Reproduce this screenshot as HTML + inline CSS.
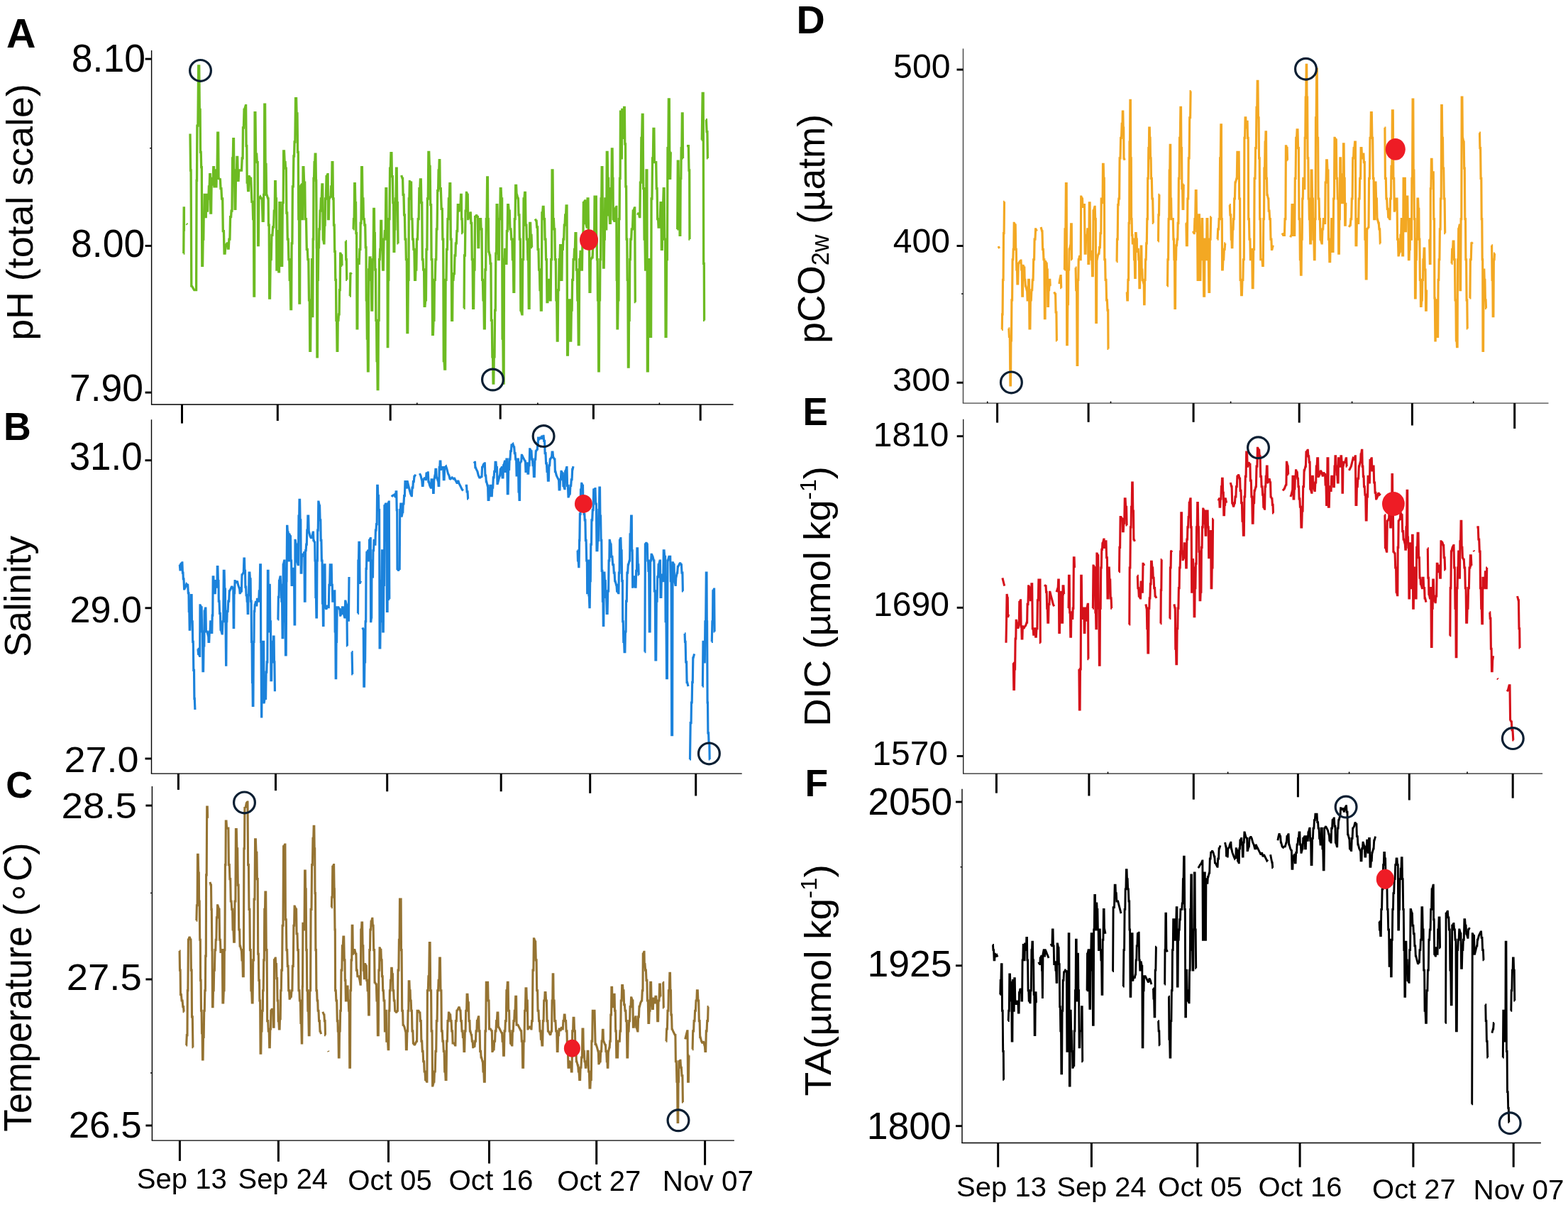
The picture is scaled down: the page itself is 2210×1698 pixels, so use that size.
<!DOCTYPE html>
<html><head><meta charset="utf-8"><title>Figure</title>
<style>html,body{margin:0;padding:0;background:#fff;overflow:hidden}svg{display:block}</style>
</head><body>
<svg width="2210" height="1698" viewBox="0 0 2210 1698">
<rect width="2210" height="1698" fill="#fff"/>
<g font-family="Liberation Sans, Arial, sans-serif" fill="#000">
<text transform="matrix(0.57424 0 0 0.56618 8.88 67.37)" font-size="100" font-weight="bold">A</text>
<text transform="matrix(0.53607 0 0 0.54783 5.05 619.80)" font-size="100" font-weight="bold">B</text>
<text transform="matrix(0.52615 0 0 0.52394 8.30 1123.58)" font-size="100" font-weight="bold">C</text>
<text transform="matrix(0.55738 0 0 0.54638 1122.50 46.50)" font-size="100" font-weight="bold">D</text>
<text transform="matrix(0.53036 0 0 0.55072 1131.49 599.10)" font-size="100" font-weight="bold">E</text>
<text transform="matrix(0.53400 0 0 0.53188 1134.56 1121.70)" font-size="100" font-weight="bold">F</text>
<text transform="matrix(0.53476 0 0 0.55634 100.86 100.94)" font-size="100">8.10</text>
<text transform="matrix(0.53583 0 0 0.55070 100.06 361.65)" font-size="100">8.00</text>
<text transform="matrix(0.53441 0 0 0.53803 97.93 565.16)" font-size="100">7.90</text>
<text transform="matrix(0.52888 0 0 0.55634 97.68 662.44)" font-size="100">31.0</text>
<text transform="matrix(0.52043 0 0 0.52394 98.60 876.58)" font-size="100">29.0</text>
<text transform="matrix(0.53925 0 0 0.50282 90.50 1087.90)" font-size="100">27.0</text>
<text transform="matrix(0.54703 0 0 0.50282 86.56 1153.40)" font-size="100">28.5</text>
<text transform="matrix(0.54486 0 0 0.51408 93.68 1394.59)" font-size="100">27.5</text>
<text transform="matrix(0.52919 0 0 0.52113 96.65 1603.28)" font-size="100">26.5</text>
<text transform="matrix(0.48239 0 0 0.47887 1259.07 110.22)" font-size="100">500</text>
<text transform="matrix(0.48199 0 0 0.47887 1258.64 355.62)" font-size="100">400</text>
<text transform="matrix(0.48742 0 0 0.46197 1258.05 551.34)" font-size="100">300</text>
<text transform="matrix(0.47905 0 0 0.47887 1230.77 629.32)" font-size="100">1810</text>
<text transform="matrix(0.48143 0 0 0.47324 1230.95 868.43)" font-size="100">1690</text>
<text transform="matrix(0.48000 0 0 0.47324 1229.26 1078.43)" font-size="100">1570</text>
<text transform="matrix(0.53521 0 0 0.53944 1223.32 1147.76)" font-size="100">2050</text>
<text transform="matrix(0.53619 0 0 0.52676 1222.41 1376.17)" font-size="100">1925</text>
<text transform="matrix(0.53476 0 0 0.53099 1221.72 1605.47)" font-size="100">1800</text>
<text transform="matrix(0 -0.53794 0.52340 0 46.11 479.87)" font-size="100">pH (total scale)</text>
<text transform="matrix(0 -0.53060 0.52234 0 42.63 925.85)" font-size="100">Salinity</text>
<text transform="matrix(0 -0.51596 0.55319 0 44.08 1594.83)" font-size="100">Temperature (∘C)</text>
<text transform="matrix(0 -0.53272 0.54362 0 1161.68 483.73)" font-size="100">pCO<tspan font-size="64" dy="12">2w</tspan><tspan dy="-12"> (µatm)</tspan></text>
<text transform="matrix(0 -0.54605 0.52400 0 1170.40 1023.87)" font-size="100">DIC (µmol kg<tspan font-size="60" dy="-38">-1</tspan><tspan dy="38">)</tspan></text>
<text transform="matrix(0 -0.55068 0.51700 0 1170.84 1544.40)" font-size="100">TA(µmol kg<tspan font-size="60" dy="-38">-1</tspan><tspan dy="38">)</tspan></text>
<text transform="matrix(0.40098 0 0 0.40556 192.80 1674.50)" font-size="100">Sep 13</text>
<text transform="matrix(0.39935 0 0 0.40556 335.50 1674.50)" font-size="100">Sep 24</text>
<text transform="matrix(0.40246 0 0 0.40278 490.29 1676.50)" font-size="100">Oct 05</text>
<text transform="matrix(0.40386 0 0 0.40278 632.38 1677.00)" font-size="100">Oct 16</text>
<text transform="matrix(0.40070 0 0 0.40278 785.30 1677.50)" font-size="100">Oct 27</text>
<text transform="matrix(0.40461 0 0 0.40278 933.86 1677.50)" font-size="100">Nov 07</text>
<text transform="matrix(0.40033 0 0 0.39028 1348.10 1685.60)" font-size="100">Sep 13</text>
<text transform="matrix(0.39806 0 0 0.39028 1489.41 1685.60)" font-size="100">Sep 24</text>
<text transform="matrix(0.40351 0 0 0.38889 1632.08 1686.00)" font-size="100">Oct 05</text>
<text transform="matrix(0.40035 0 0 0.38889 1773.50 1686.00)" font-size="100">Oct 16</text>
<text transform="matrix(0.39895 0 0 0.39306 1934.11 1688.80)" font-size="100">Oct 27</text>
<text transform="matrix(0.40428 0 0 0.39583 2076.47 1689.50)" font-size="100">Nov 07</text>
</g>
<g stroke-linecap="butt">
<line x1="213.60" y1="71.00" x2="213.60" y2="570.00" stroke="#000" stroke-width="1.4"/>
<line x1="212.90" y1="570.00" x2="1033.60" y2="570.00" stroke="#000" stroke-width="1.4"/>
<line x1="204.60" y1="83.10" x2="213.60" y2="83.10" stroke="#000" stroke-width="2.9"/>
<line x1="204.60" y1="346.40" x2="213.60" y2="346.40" stroke="#000" stroke-width="2.9"/>
<line x1="204.60" y1="553.10" x2="213.60" y2="553.10" stroke="#000" stroke-width="2.9"/>
<line x1="211.10" y1="208.80" x2="213.60" y2="208.80" stroke="#000" stroke-width="1.4"/>
<line x1="256.50" y1="570.00" x2="256.50" y2="596.60" stroke="#000" stroke-width="3.0"/>
<line x1="391.30" y1="570.00" x2="391.30" y2="593.00" stroke="#000" stroke-width="3.0"/>
<line x1="550.20" y1="570.00" x2="550.20" y2="592.70" stroke="#000" stroke-width="3.0"/>
<line x1="705.20" y1="570.00" x2="705.20" y2="590.70" stroke="#000" stroke-width="3.0"/>
<line x1="836.40" y1="570.00" x2="836.40" y2="590.70" stroke="#000" stroke-width="3.0"/>
<line x1="987.20" y1="570.00" x2="987.20" y2="592.70" stroke="#000" stroke-width="3.0"/>
<line x1="587.80" y1="567.50" x2="587.80" y2="570.00" stroke="#000" stroke-width="1.6"/>
<line x1="757.90" y1="567.50" x2="757.90" y2="570.00" stroke="#000" stroke-width="1.6"/>
<line x1="929.40" y1="567.50" x2="929.40" y2="570.00" stroke="#000" stroke-width="1.6"/>
<line x1="213.50" y1="591.30" x2="213.50" y2="1090.10" stroke="#000" stroke-width="1.4"/>
<line x1="212.80" y1="1090.10" x2="1045.70" y2="1090.10" stroke="#000" stroke-width="1.4"/>
<line x1="204.50" y1="648.70" x2="213.50" y2="648.70" stroke="#000" stroke-width="2.9"/>
<line x1="204.50" y1="856.80" x2="213.50" y2="856.80" stroke="#000" stroke-width="2.9"/>
<line x1="204.50" y1="1069.00" x2="213.50" y2="1069.00" stroke="#000" stroke-width="2.9"/>
<line x1="251.40" y1="1090.10" x2="251.40" y2="1112.90" stroke="#000" stroke-width="3.0"/>
<line x1="388.50" y1="1090.10" x2="388.50" y2="1114.10" stroke="#000" stroke-width="3.0"/>
<line x1="545.70" y1="1090.10" x2="545.70" y2="1115.30" stroke="#000" stroke-width="3.0"/>
<line x1="706.20" y1="1090.10" x2="706.20" y2="1115.30" stroke="#000" stroke-width="3.0"/>
<line x1="831.70" y1="1090.10" x2="831.70" y2="1117.80" stroke="#000" stroke-width="3.0"/>
<line x1="980.70" y1="1090.10" x2="980.70" y2="1121.50" stroke="#000" stroke-width="3.0"/>
<line x1="214.40" y1="1108.00" x2="214.40" y2="1607.10" stroke="#000" stroke-width="1.4"/>
<line x1="213.70" y1="1607.10" x2="1034.90" y2="1607.10" stroke="#000" stroke-width="1.4"/>
<line x1="205.40" y1="1135.10" x2="214.40" y2="1135.10" stroke="#000" stroke-width="2.9"/>
<line x1="205.40" y1="1380.00" x2="214.40" y2="1380.00" stroke="#000" stroke-width="2.9"/>
<line x1="205.40" y1="1586.00" x2="214.40" y2="1586.00" stroke="#000" stroke-width="2.9"/>
<line x1="211.90" y1="1258.40" x2="214.40" y2="1258.40" stroke="#000" stroke-width="1.4"/>
<line x1="211.90" y1="1511.90" x2="214.40" y2="1511.90" stroke="#000" stroke-width="1.4"/>
<line x1="253.40" y1="1607.10" x2="253.40" y2="1635.90" stroke="#000" stroke-width="3.0"/>
<line x1="392.40" y1="1607.10" x2="392.40" y2="1636.80" stroke="#000" stroke-width="3.0"/>
<line x1="547.50" y1="1607.10" x2="547.50" y2="1637.80" stroke="#000" stroke-width="3.0"/>
<line x1="689.50" y1="1607.10" x2="689.50" y2="1639.50" stroke="#000" stroke-width="3.0"/>
<line x1="840.70" y1="1607.10" x2="840.70" y2="1640.80" stroke="#000" stroke-width="3.0"/>
<line x1="993.60" y1="1607.10" x2="993.60" y2="1641.70" stroke="#000" stroke-width="3.0"/>
<line x1="1357.50" y1="68.40" x2="1357.50" y2="568.10" stroke="#444" stroke-width="1.4"/>
<line x1="1356.80" y1="568.10" x2="2182.50" y2="568.10" stroke="#444" stroke-width="1.4"/>
<line x1="1348.50" y1="98.10" x2="1357.50" y2="98.10" stroke="#000" stroke-width="2.9"/>
<line x1="1348.50" y1="346.50" x2="1357.50" y2="346.50" stroke="#000" stroke-width="2.9"/>
<line x1="1348.50" y1="539.20" x2="1357.50" y2="539.20" stroke="#000" stroke-width="2.9"/>
<line x1="1355.00" y1="414.00" x2="1357.50" y2="414.00" stroke="#000" stroke-width="1.4"/>
<line x1="1405.60" y1="568.10" x2="1405.60" y2="595.60" stroke="#000" stroke-width="3.0"/>
<line x1="1534.10" y1="568.10" x2="1534.10" y2="594.80" stroke="#000" stroke-width="3.0"/>
<line x1="1682.10" y1="568.10" x2="1682.10" y2="594.80" stroke="#000" stroke-width="3.0"/>
<line x1="1831.20" y1="568.10" x2="1831.20" y2="595.60" stroke="#000" stroke-width="3.0"/>
<line x1="1990.40" y1="568.10" x2="1990.40" y2="599.50" stroke="#000" stroke-width="3.0"/>
<line x1="2134.70" y1="568.10" x2="2134.70" y2="604.00" stroke="#000" stroke-width="3.0"/>
<line x1="1391.70" y1="565.60" x2="1391.70" y2="568.10" stroke="#000" stroke-width="1.6"/>
<line x1="1565.50" y1="565.60" x2="1565.50" y2="568.10" stroke="#000" stroke-width="1.6"/>
<line x1="1734.60" y1="565.60" x2="1734.60" y2="568.10" stroke="#000" stroke-width="1.6"/>
<line x1="1905.60" y1="565.60" x2="1905.60" y2="568.10" stroke="#000" stroke-width="1.6"/>
<line x1="2076.70" y1="565.60" x2="2076.70" y2="568.10" stroke="#000" stroke-width="1.6"/>
<line x1="1357.70" y1="590.80" x2="1357.70" y2="1090.10" stroke="#222" stroke-width="1.4"/>
<line x1="1357.00" y1="1090.10" x2="2174.10" y2="1090.10" stroke="#222" stroke-width="1.4"/>
<line x1="1348.70" y1="614.70" x2="1357.70" y2="614.70" stroke="#000" stroke-width="2.9"/>
<line x1="1348.70" y1="856.30" x2="1357.70" y2="856.30" stroke="#000" stroke-width="2.9"/>
<line x1="1348.70" y1="1065.50" x2="1357.70" y2="1065.50" stroke="#000" stroke-width="2.9"/>
<line x1="1404.40" y1="1090.10" x2="1404.40" y2="1117.60" stroke="#000" stroke-width="3.0"/>
<line x1="1534.90" y1="1090.10" x2="1534.90" y2="1121.50" stroke="#000" stroke-width="3.0"/>
<line x1="1682.30" y1="1090.10" x2="1682.30" y2="1126.60" stroke="#000" stroke-width="3.0"/>
<line x1="1829.40" y1="1090.10" x2="1829.40" y2="1123.30" stroke="#000" stroke-width="3.0"/>
<line x1="1986.30" y1="1090.10" x2="1986.30" y2="1127.50" stroke="#000" stroke-width="3.0"/>
<line x1="2132.20" y1="1090.10" x2="2132.20" y2="1124.70" stroke="#000" stroke-width="3.0"/>
<line x1="1561.50" y1="1087.60" x2="1561.50" y2="1090.10" stroke="#000" stroke-width="1.6"/>
<line x1="1730.60" y1="1087.60" x2="1730.60" y2="1090.10" stroke="#000" stroke-width="1.6"/>
<line x1="1901.60" y1="1087.60" x2="1901.60" y2="1090.10" stroke="#000" stroke-width="1.6"/>
<line x1="2068.00" y1="1087.60" x2="2068.00" y2="1090.10" stroke="#000" stroke-width="1.6"/>
<line x1="1356.00" y1="1111.70" x2="1356.00" y2="1610.50" stroke="#000" stroke-width="1.4"/>
<line x1="1355.30" y1="1610.50" x2="2171.90" y2="1610.50" stroke="#000" stroke-width="1.4"/>
<line x1="1347.00" y1="1130.00" x2="1356.00" y2="1130.00" stroke="#000" stroke-width="2.9"/>
<line x1="1347.00" y1="1360.70" x2="1356.00" y2="1360.70" stroke="#000" stroke-width="2.9"/>
<line x1="1347.00" y1="1586.70" x2="1356.00" y2="1586.70" stroke="#000" stroke-width="2.9"/>
<line x1="1353.50" y1="1221.70" x2="1356.00" y2="1221.70" stroke="#000" stroke-width="1.4"/>
<line x1="1406.70" y1="1610.50" x2="1406.70" y2="1644.70" stroke="#000" stroke-width="3.0"/>
<line x1="1538.40" y1="1610.50" x2="1538.40" y2="1644.70" stroke="#000" stroke-width="3.0"/>
<line x1="1687.70" y1="1610.50" x2="1687.70" y2="1644.70" stroke="#000" stroke-width="3.0"/>
<line x1="1832.10" y1="1610.50" x2="1832.10" y2="1644.70" stroke="#000" stroke-width="3.0"/>
<line x1="1991.90" y1="1610.50" x2="1991.90" y2="1644.70" stroke="#000" stroke-width="3.0"/>
<line x1="2133.20" y1="1610.50" x2="2133.20" y2="1644.70" stroke="#000" stroke-width="3.0"/>
</g>
<path d="M258.6,357.1 L258.8,357.1 L259.2,292.9 L259.4,292.9 L259.4,325.7 M262.9,315.1 L264.0,316.3 M268.0,188.6 L268.6,240.0 L269.1,240.0 L269.8,402.9 L270.3,402.9 L273.7,408.6 L276.6,408.6 L277.1,254.3 L277.5,254.3 L277.9,177.1 L278.3,177.1 L278.9,177.1 L279.7,92.9 L280.3,92.9 L280.7,92.9 L281.3,154.3 L281.7,154.3 L282.1,154.3 L282.5,214.3 L282.9,214.3 L283.2,214.3 L283.7,235.7 L284.0,235.7 L284.3,235.7 L284.8,374.3 L285.1,374.3 L285.6,374.3 L286.1,337.1 L286.6,337.1 L286.8,337.1 L287.2,302.9 L287.4,302.9 L287.8,302.9 L288.2,274.3 L288.6,274.3 L289.0,274.3 L289.6,305.7 L290.0,305.7 L290.3,305.7 L290.6,274.3 L290.9,274.3 L291.3,274.3 L291.9,297.1 L292.3,297.1 L292.6,297.1 L293.1,280.0 L293.4,280.0 L293.9,280.0 L294.4,262.9 L294.9,262.9 L295.2,262.9 L295.7,245.7 L296.0,245.7 L296.3,245.7 L296.8,300.0 L297.1,300.0 L297.6,300.0 L298.1,260.0 L298.6,260.0 L299.0,260.0 L299.6,251.4 L300.0,251.4 L300.3,251.4 L300.8,235.7 L301.1,235.7 L301.5,235.7 L301.9,262.9 L302.3,262.9 L302.6,262.9 L303.1,240.0 L303.4,240.0 L303.8,240.0 L304.2,262.9 L304.6,262.9 L304.9,262.9 L305.4,240.0 L305.7,240.0 L306.1,240.0 L306.7,187.1 L307.1,187.1 L307.6,187.1 L308.1,251.4 L308.6,251.4 L310.0,252.9 L310.4,252.9 L311.0,265.7 L311.4,265.7 L311.9,265.7 L312.6,280.0 L313.1,280.0 L313.7,280.0 L314.3,325.7 L314.9,325.7 L315.4,325.7 L316.1,357.1 L316.6,357.1 L317.1,357.1 L317.8,345.7 L318.3,345.7 L320.0,342.9 L320.5,342.9 L321.2,350.0 L321.7,350.0 L322.2,350.0 L322.9,337.1 L323.4,337.1 L323.9,337.1 L324.6,305.7 L325.1,305.7 L325.6,305.7 L326.1,297.1 L326.6,297.1 L327.0,297.1 L327.6,222.9 L328.0,222.9 L328.3,222.9 L328.8,195.7 L329.1,195.7 L329.5,195.7 L329.9,257.1 L330.3,257.1 L330.6,257.1 L331.1,294.3 L331.4,294.3 L331.9,294.3 L332.6,240.0 L333.1,240.0 L333.5,240.0 L333.9,221.4 L334.3,221.4 L334.7,221.4 L335.3,254.3 L335.7,254.3 L336.1,254.3 L336.7,240.0 L337.1,240.0 L338.6,240.0 L340.0,240.0 L340.5,240.0 L341.2,222.9 L341.7,222.9 L342.1,222.9 L342.5,180.0 L342.9,180.0 L343.4,180.0 L344.1,154.3 L344.6,154.3 L346.3,148.6 L346.6,148.6 L347.1,205.7 L347.4,205.7 L347.8,205.7 L348.2,257.1 L348.6,257.1 L349.0,257.1 L349.6,268.6 L350.0,268.6 L350.4,268.6 L351.0,248.6 L351.4,248.6 L352.9,251.4 L353.7,251.4 L354.9,284.3 L355.7,284.3 L356.1,284.3 L356.7,308.6 L357.1,308.6 L357.5,308.6 L357.9,417.1 L358.3,417.1 L358.6,417.1 L359.1,158.6 L359.4,158.6 L359.9,158.6 L360.6,217.1 L361.1,217.1 L361.7,217.1 L362.3,228.6 L362.9,228.6 L363.2,228.6 L363.7,345.7 L364.0,345.7 L364.3,345.7 L364.8,280.0 L365.1,280.0 L366.9,277.1 L368.6,280.0 L369.3,280.0 L370.2,311.4 L370.9,311.4 L371.2,311.4 L371.7,274.3 L372.0,274.3 L372.3,274.3 L372.8,147.1 L373.1,147.1 L373.6,147.1 L374.1,231.4 L374.6,231.4 L375.0,231.4 L375.6,274.3 L376.0,274.3 L377.7,280.0 L378.1,280.0 L378.5,317.1 L378.9,317.1 L379.2,317.1 L379.7,420.0 L380.0,420.0 L380.5,420.0 L381.2,365.7 L381.7,365.7 L382.2,365.7 L382.9,331.4 L383.4,331.4 L383.9,331.4 L384.6,320.0 L385.1,320.0 L385.7,320.0 L386.3,297.1 L386.9,297.1 L387.2,297.1 L387.7,255.7 L388.0,255.7 L388.3,255.7 L388.8,280.0 L389.1,280.0 L389.5,280.0 L389.9,380.0 L390.3,380.0 L390.8,380.0 L391.5,325.7 L392.0,325.7 L392.3,325.7 L392.8,382.9 L393.1,382.9 L393.5,382.9 L393.9,285.7 L394.3,285.7 L394.8,285.7 L395.5,337.1 L396.0,337.1 L396.3,337.1 L396.8,374.3 L397.1,374.3 L397.7,374.3 L398.3,285.7 L398.9,285.7 L399.2,285.7 L399.7,212.9 L400.0,212.9 L400.5,212.9 L401.2,228.6 L401.7,228.6 L402.1,228.6 L402.5,237.1 L402.9,237.1 L403.3,237.1 L403.9,300.0 L404.3,300.0 L404.7,300.0 L405.3,337.1 L405.7,337.1 L406.2,337.1 L406.9,365.7 L407.4,365.7 L407.8,365.7 L408.2,394.3 L408.6,394.3 L409.1,394.3 L409.8,435.7 L410.3,435.7 L410.6,435.7 L411.1,342.9 L411.4,342.9 L411.9,342.9 L412.4,262.9 L412.9,262.9 L413.3,262.9 L413.9,220.0 L414.3,220.0 L414.6,220.0 L415.1,200.0 L415.4,200.0 L415.9,200.0 L416.6,138.6 L417.1,138.6 L417.6,138.6 L418.1,160.0 L418.6,160.0 L419.0,160.0 L419.6,214.3 L420.0,214.3 L420.3,214.3 L420.8,308.6 L421.1,308.6 L421.5,308.6 L421.9,427.1 L422.3,427.1 L422.6,427.1 L423.1,262.9 L423.4,262.9 L425.1,260.0 L425.5,260.0 L425.9,308.6 L426.3,308.6 L426.6,308.6 L427.1,235.7 L427.4,235.7 L427.9,235.7 L428.6,257.1 L429.1,257.1 L429.7,257.1 L430.3,308.6 L430.9,308.6 L431.5,308.6 L432.3,351.4 L432.9,351.4 L433.3,351.4 L433.9,365.7 L434.3,365.7 L434.8,365.7 L435.5,422.9 L436.0,422.9 L436.3,422.9 L436.8,494.3 L437.1,494.3 L437.6,494.3 L438.1,434.3 L438.6,434.3 L439.0,434.3 L439.6,365.7 L440.0,365.7 L440.0,365.7 L440.6,445.7 L440.8,445.7 L441.2,337.1 L441.4,337.1 L441.7,337.1 L442.0,251.4 L442.3,251.4 L442.6,251.4 L443.1,228.6 L443.4,228.6 L443.8,228.6 L444.2,217.1 L444.6,217.1 L444.9,217.1 L445.4,254.3 L445.7,254.3 L446.3,348.6 L446.5,348.6 L446.9,502.9 L447.1,502.9 L447.4,502.9 L447.7,394.3 L448.0,394.3 L448.3,394.3 L448.8,348.6 L449.1,348.6 L449.5,348.6 L449.9,322.9 L450.3,322.9 L450.6,322.9 L451.1,297.1 L451.4,297.1 L451.9,297.1 L452.4,280.0 L452.9,280.0 L453.3,280.0 L453.9,260.0 L454.3,260.0 L454.7,260.0 L455.3,337.1 L455.7,337.1 L456.6,342.9 L456.9,342.9 L457.4,317.1 L457.7,317.1 L458.1,317.1 L458.5,280.0 L458.9,280.0 L459.4,280.0 L460.1,248.6 L460.6,248.6 L461.7,245.7 L462.1,245.7 L462.5,308.6 L462.9,308.6 L463.3,308.6 L463.9,280.0 L464.3,280.0 L465.7,277.1 L466.1,277.1 L466.7,262.9 L467.1,262.9 L467.6,262.9 L468.1,228.6 L468.6,228.6 L468.9,228.6 L469.4,280.0 L469.7,280.0 L470.1,280.0 L470.5,317.1 L470.9,317.1 L471.2,317.1 L471.7,354.3 L472.0,354.3 L472.3,354.3 L472.8,394.3 L473.1,394.3 L473.5,394.3 L473.9,451.4 L474.3,451.4 L474.6,451.4 L475.1,494.3 L475.4,494.3 L475.8,494.3 L476.2,451.4 L476.6,451.4 L476.9,451.4 L477.4,442.9 L477.7,442.9 L478.1,442.9 L478.5,408.6 L478.9,408.6 L479.2,408.6 L479.7,357.1 L480.0,357.1 L481.4,360.0 L481.7,360.0 L482.0,374.3 L482.3,374.3 M487.1,340.0 L487.4,340.0 L487.7,365.7 L488.0,365.7 L488.3,365.7 L488.8,394.3 L489.1,394.3 M492.9,417.1 L493.3,417.1 L493.9,385.7 L494.3,385.7 L495.7,384.3 M497.7,322.9 L498.1,322.9 L498.5,308.6 L498.9,308.6 L499.2,308.6 L499.7,258.6 L500.0,258.6 L500.3,258.6 L500.8,285.7 L501.1,285.7 L501.5,285.7 L501.9,328.6 L502.3,328.6 L502.6,328.6 L503.1,462.9 L503.4,462.9 L503.8,462.9 L504.2,365.7 L504.6,365.7 L505.7,371.4 L506.2,371.4 L506.9,351.4 L507.4,351.4 L507.8,351.4 L508.2,314.3 L508.6,314.3 L509.0,314.3 L509.6,235.7 L510.0,235.7 L510.4,235.7 L511.0,280.0 L511.4,280.0 L511.9,280.0 L512.4,308.6 L512.9,308.6 L513.3,308.6 L513.9,317.1 L514.3,317.1 L514.7,317.1 L515.3,348.6 L515.7,348.6 L516.0,348.6 L516.3,422.9 L516.6,422.9 L516.9,422.9 L517.4,477.1 L517.7,477.1 L518.1,477.1 L518.5,522.9 L518.9,522.9 L519.2,522.9 L519.7,380.0 L520.0,380.0 L520.4,380.0 L521.0,362.9 L521.4,362.9 L521.9,362.9 L522.4,394.3 L522.9,394.3 L523.3,394.3 L523.9,437.1 L524.3,437.1 L524.7,437.1 L525.3,365.7 L525.7,365.7 L526.1,365.7 L526.7,294.3 L527.1,294.3 L527.4,294.3 L527.7,328.6 L528.0,328.6 L528.3,328.6 L528.8,380.0 L529.1,380.0 L529.5,380.0 L529.9,451.4 L530.3,451.4 L530.6,451.4 L531.1,508.6 L531.4,508.6 L531.8,508.6 L532.2,548.6 L532.6,548.6 L532.9,548.6 L533.4,451.4 L533.7,451.4 L534.1,451.4 L534.5,365.7 L534.9,365.7 L535.2,365.7 L535.7,351.4 L536.0,351.4 L536.3,351.4 L536.8,311.4 L537.1,311.4 L537.6,311.4 L538.1,351.4 L538.6,351.4 L539.0,351.4 L539.6,380.0 L540.0,380.0 L540.4,380.0 L541.0,337.1 L541.4,337.1 L541.9,337.1 L542.4,325.7 L542.9,325.7 L543.3,325.7 L543.9,265.7 L544.3,265.7 L544.7,265.7 L545.3,337.1 L545.7,337.1 L546.0,337.1 L546.3,488.6 L546.6,488.6 L546.8,488.6 L547.2,394.3 L547.4,394.3 L547.8,394.3 L548.2,308.6 L548.6,308.6 L549.0,308.6 L549.6,237.1 L550.0,237.1 L550.4,237.1 L551.0,215.7 L551.4,215.7 L551.9,215.7 L552.4,248.6 L552.9,248.6 L553.3,248.6 L553.9,285.7 L554.3,285.7 L554.6,285.7 L555.1,354.3 L555.4,354.3 L555.8,354.3 L556.2,322.9 L556.6,322.9 L556.9,322.9 L557.4,280.0 L557.7,280.0 L558.1,280.0 L558.5,237.1 L558.9,237.1 L559.2,237.1 L559.7,285.7 L560.0,285.7 L560.4,285.7 L561.0,342.9 L561.4,342.9 M565.7,247.1 L567.1,251.4 L567.6,251.4 L568.1,274.3 L568.6,274.3 L569.0,274.3 L569.6,302.9 L570.0,302.9 L570.4,302.9 L571.0,337.1 L571.4,337.1 L571.9,337.1 L572.4,365.7 L572.9,365.7 L573.3,365.7 L573.9,468.6 L574.3,468.6 L574.7,468.6 L575.3,394.3 L575.7,394.3 L576.0,394.3 L576.3,280.0 L576.6,280.0 L576.9,280.0 L577.4,255.7 L577.7,255.7 L579.1,257.1 L579.6,257.1 L580.1,308.6 L580.6,308.6 L581.0,308.6 L581.6,337.1 L582.0,337.1 L582.4,337.1 L583.0,351.4 L583.4,351.4 L583.9,351.4 L584.6,394.3 L585.1,394.3 L585.5,394.3 L585.9,380.0 L586.3,380.0 L586.8,380.0 L587.5,337.1 L588.0,337.1 L588.5,337.1 L589.2,308.6 L589.7,308.6 L590.2,308.6 L590.9,265.7 L591.4,265.7 L591.9,265.7 L592.4,252.9 L592.9,252.9 L593.3,252.9 L593.9,285.7 L594.3,285.7 L594.7,285.7 L595.3,365.7 L595.7,365.7 L596.1,365.7 L596.7,380.0 L597.1,380.0 L597.6,380.0 L598.1,431.4 L598.6,431.4 L599.0,431.4 L599.6,422.9 L600.0,422.9 L600.4,422.9 L601.0,351.4 L601.4,351.4 L601.9,351.4 L602.4,280.0 L602.9,280.0 L603.3,280.0 L603.9,214.3 L604.3,214.3 L604.7,214.3 L605.3,234.3 L605.7,234.3 L606.1,234.3 L606.7,288.6 L607.1,288.6 L607.6,288.6 L608.1,365.7 L608.6,365.7 L609.0,365.7 L609.6,471.4 L610.0,471.4 L610.4,471.4 L611.0,451.4 L611.4,451.4 L611.9,451.4 L612.4,394.3 L612.9,394.3 L613.3,394.3 L613.9,365.7 L614.3,365.7 L614.7,365.7 L615.3,322.9 L615.7,322.9 L616.1,322.9 L616.7,268.6 L617.1,268.6 L617.6,268.6 L618.1,240.0 L618.6,240.0 L618.8,240.0 L619.2,225.7 L619.4,225.7 L619.8,225.7 L620.2,265.7 L620.6,265.7 L621.3,265.7 L622.2,294.3 L622.9,294.3 L623.3,294.3 L623.9,337.1 L624.3,337.1 L624.7,337.1 L625.3,508.6 L625.7,508.6 L626.1,508.6 L626.7,520.0 L627.1,520.0 L627.6,520.0 L628.1,394.3 L628.6,394.3 L629.0,394.3 L629.6,351.4 L630.0,351.4 L630.4,351.4 L631.0,308.6 L631.4,308.6 L631.9,308.6 L632.4,280.0 L632.9,280.0 L633.3,280.0 L633.9,258.6 L634.3,258.6 L634.7,258.6 L635.3,337.1 L635.7,337.1 L636.1,337.1 L636.7,451.4 L637.1,451.4 L637.6,451.4 L638.1,394.3 L638.6,394.3 L639.0,394.3 L639.6,385.7 L640.0,385.7 L640.0,385.7 L640.4,385.7 L641.0,360.0 L641.4,360.0 L641.9,360.0 L642.4,342.9 L642.9,342.9 L643.3,342.9 L643.9,325.7 L644.3,325.7 L644.7,325.7 L645.3,288.6 L645.7,288.6 L646.1,288.6 L646.7,297.1 L647.1,297.1 L648.6,291.4 L649.0,291.4 L649.6,274.3 L650.0,274.3 L650.3,274.3 L650.6,308.6 L650.9,308.6 L651.2,308.6 L651.7,328.6 L652.0,328.6 M653.7,434.3 L654.1,434.3 L654.5,360.0 L654.9,360.0 L655.4,360.0 L656.1,297.1 L656.6,297.1 L656.9,297.1 L657.4,271.4 L657.7,271.4 L658.9,274.3 L659.2,274.3 L659.7,308.6 L660.0,308.6 L661.4,302.9 L662.9,300.0 L663.3,300.0 L663.9,314.3 L664.3,314.3 L664.7,314.3 L665.3,365.7 L665.7,365.7 L666.1,365.7 L666.7,434.3 L667.1,434.3 L667.6,434.3 L668.1,380.0 L668.6,380.0 L669.0,380.0 L669.6,305.7 L670.0,305.7 L671.4,302.9 L672.9,305.7 L673.3,305.7 L673.9,348.6 L674.3,348.6 L674.7,348.6 L675.3,308.6 L675.7,308.6 L677.1,308.6 L677.6,308.6 L678.1,322.9 L678.6,322.9 L679.0,322.9 L679.6,394.3 L680.0,394.3 L680.4,394.3 L681.0,422.9 L681.4,422.9 L681.9,422.9 L682.4,462.9 L682.9,462.9 L683.3,462.9 L683.9,380.0 L684.3,380.0 L684.7,380.0 L685.3,308.6 L685.7,308.6 L686.1,308.6 L686.7,250.0 L687.1,250.0 L687.4,250.0 L687.7,308.6 L688.0,308.6 L688.3,308.6 L688.8,354.3 L689.1,354.3 L690.3,360.0 L690.6,360.0 L691.1,371.4 L691.4,371.4 L691.9,371.4 L692.4,451.4 L692.9,451.4 L693.3,451.4 L693.9,502.9 L694.3,502.9 L694.6,502.9 L695.1,540.0 L695.4,540.0 L695.8,540.0 L696.2,502.9 L696.6,502.9 L697.0,502.9 L697.6,437.1 L698.0,437.1 L698.3,437.1 L698.8,357.1 L699.1,357.1 L699.6,357.1 L700.1,288.6 L700.6,288.6 L700.9,288.6 L701.4,317.1 L701.7,317.1 L702.1,317.1 L702.5,365.7 L702.9,365.7 L703.3,365.7 L703.9,308.6 L704.3,308.6 L704.7,308.6 L705.3,265.7 L705.7,265.7 L706.1,265.7 L706.7,280.0 L707.1,280.0 L707.6,280.0 L708.1,477.1 L708.6,477.1 L708.9,477.1 L709.4,540.0 L709.7,540.0 L710.1,540.0 L710.5,365.7 L710.9,365.7 L711.2,365.7 L711.7,351.4 L712.0,351.4 L712.4,351.4 L713.0,371.4 L713.4,371.4 L713.9,371.4 L714.4,325.7 L714.9,325.7 L715.2,325.7 L715.7,288.6 L716.0,288.6 L716.5,288.6 L717.2,297.1 L717.7,297.1 L718.2,297.1 L718.9,322.9 L719.4,322.9 L720.0,322.9 L720.8,337.1 L721.4,337.1 L721.9,337.1 L722.4,365.7 L722.9,365.7 L723.3,365.7 L723.9,411.4 L724.3,411.4 L724.7,411.4 L725.3,308.6 L725.7,308.6 L726.1,308.6 L726.7,261.4 L727.1,261.4 L727.6,261.4 L728.1,274.3 L728.6,274.3 L730.0,280.0 L730.4,280.0 L731.0,302.9 L731.4,302.9 L731.9,302.9 L732.4,337.1 L732.9,337.1 L733.3,337.1 L733.9,437.1 L734.3,437.1 L735.7,442.9 L736.1,442.9 L736.7,365.7 L737.1,365.7 L737.6,365.7 L738.1,280.0 L738.6,280.0 L739.0,280.0 L739.6,271.4 L740.0,271.4 L740.4,271.4 L741.0,317.1 L741.4,317.1 L741.9,317.1 L742.4,337.1 L742.9,337.1 L743.3,337.1 L743.9,365.7 L744.3,365.7 L744.7,365.7 L745.3,434.3 L745.7,434.3 L746.1,434.3 L746.7,314.3 L747.1,314.3 L747.6,314.3 L748.1,331.4 L748.6,331.4 L749.0,331.4 L749.6,348.6 L750.0,348.6 M754.3,308.6 L755.7,311.4 L756.1,311.4 L756.7,320.0 L757.1,320.0 L757.6,320.0 L758.1,351.4 L758.6,351.4 L759.0,351.4 L759.6,380.0 L760.0,380.0 L760.4,380.0 L761.0,408.6 L761.4,408.6 L761.9,408.6 L762.4,437.1 L762.9,437.1 L763.3,437.1 L763.9,300.0 L764.3,300.0 L764.7,300.0 L765.3,291.4 L765.7,291.4 L766.1,291.4 L766.7,308.6 L767.1,308.6 L767.6,308.6 L768.1,337.1 L768.6,337.1 L769.0,337.1 L769.6,365.7 L770.0,365.7 L770.4,365.7 L771.0,425.7 L771.4,425.7 L771.9,425.7 L772.4,394.3 L772.9,394.3 L773.3,394.3 L773.9,405.7 L774.3,405.7 L774.7,405.7 L775.3,422.9 L775.7,422.9 L776.1,422.9 L776.7,365.7 L777.1,365.7 L777.6,365.7 L778.1,240.0 L778.6,240.0 L779.0,240.0 L779.6,308.6 L780.0,308.6 L780.4,308.6 L781.0,322.9 L781.4,322.9 L781.9,322.9 L782.4,365.7 L782.9,365.7 L783.3,365.7 L783.9,422.9 L784.3,422.9 L784.7,422.9 L785.3,480.0 L785.7,480.0 L786.1,480.0 L786.7,408.6 L787.1,408.6 L787.6,408.6 L788.1,365.7 L788.6,365.7 L789.0,365.7 L789.6,345.7 L790.0,345.7 L790.4,345.7 L791.0,394.3 L791.4,394.3 L791.9,394.3 L792.4,351.4 L792.9,351.4 L793.3,351.4 L793.9,337.1 L794.3,337.1 L794.7,337.1 L795.3,317.1 L795.7,317.1 L796.1,317.1 L796.7,302.9 L797.1,302.9 L797.6,302.9 L798.1,290.0 L798.6,290.0 L799.0,290.0 L799.6,500.0 L800.0,500.0 L800.4,500.0 L801.0,451.4 L801.4,451.4 L801.9,451.4 L802.4,422.9 L802.9,422.9 L803.3,422.9 L803.9,480.0 L804.3,480.0 L804.7,480.0 L805.3,437.1 L805.7,437.1 L806.1,437.1 L806.7,394.3 L807.1,394.3 L807.6,394.3 L808.1,365.7 L808.6,365.7 L809.0,365.7 L809.6,351.4 L810.0,351.4 L810.4,351.4 L811.0,328.6 L811.4,328.6 L811.9,328.6 L812.4,380.0 L812.9,380.0 L813.3,380.0 L813.9,422.9 L814.3,422.9 L814.7,422.9 L815.3,485.7 L815.7,485.7 L816.1,485.7 L816.7,365.7 L817.1,365.7 L817.6,365.7 L818.1,354.3 L818.6,354.3 L819.0,354.3 L819.6,380.0 L820.0,380.0 L820.4,380.0 L821.0,337.1 L821.4,337.1 L821.9,337.1 L822.4,285.7 L822.9,285.7 L824.3,282.9 L824.7,282.9 L825.3,314.3 L825.7,314.3 L827.1,320.0 L827.6,320.0 L828.1,280.0 L828.6,280.0 L829.0,280.0 L829.6,342.9 L830.0,342.9 L830.4,342.9 L831.0,411.4 L831.4,411.4 L831.9,411.4 L832.4,365.7 L832.9,365.7 L834.3,362.9 L835.1,362.9 L836.3,337.1 L837.1,337.1 L837.6,337.1 L838.1,277.1 L838.6,277.1 L840.0,277.1 L840.0,277.1 L840.3,277.1 L840.6,337.1 L840.9,337.1 L841.1,337.1 L841.5,365.7 L841.7,365.7 L842.1,365.7 L842.5,422.9 L842.9,422.9 L843.2,422.9 L843.7,522.9 L844.0,522.9 L844.3,522.9 L844.8,422.9 L845.1,422.9 L845.5,422.9 L845.9,365.7 L846.3,365.7 L846.6,365.7 L847.1,280.0 L847.4,280.0 L847.8,280.0 L848.2,235.7 L848.6,235.7 L848.9,235.7 L849.4,308.6 L849.7,308.6 L850.1,308.6 L850.5,377.1 L850.9,377.1 L851.2,377.1 L851.7,337.1 L852.0,337.1 L852.3,337.1 L852.8,280.0 L853.1,280.0 L853.5,280.0 L853.9,322.9 L854.3,322.9 L854.7,322.9 L855.3,214.3 L855.7,214.3 L856.1,214.3 L856.7,251.4 L857.1,251.4 L857.6,251.4 L858.1,302.9 L858.6,302.9 L859.0,302.9 L859.6,314.3 L860.0,314.3 L860.4,314.3 L861.0,265.7 L861.4,265.7 L861.9,265.7 L862.4,210.0 L862.9,210.0 L863.1,210.0 L863.5,251.4 L863.7,251.4 L864.0,251.4 L864.3,308.6 L864.6,308.6 L865.7,311.4 L866.1,311.4 L866.7,294.3 L867.1,294.3 L868.6,291.4 L868.8,291.4 L869.2,394.3 L869.4,394.3 L869.7,394.3 L870.0,462.9 L870.3,462.9 L870.6,462.9 L871.1,422.9 L871.4,422.9 L871.9,422.9 L872.4,308.6 L872.9,308.6 L873.1,308.6 L873.5,251.4 L873.7,251.4 L874.1,251.4 L874.5,157.1 L874.9,157.1 L875.2,157.1 L875.7,222.9 L876.0,222.9 L876.3,222.9 L876.8,154.3 L877.1,154.3 L877.6,154.3 L878.1,194.3 L878.6,194.3 L879.0,194.3 L879.6,151.4 L880.0,151.4 L880.3,151.4 L880.8,202.9 L881.1,202.9 L881.5,202.9 L881.9,262.9 L882.3,262.9 L882.6,262.9 L883.1,337.1 L883.4,337.1 L883.8,337.1 L884.2,394.3 L884.6,394.3 L884.9,394.3 L885.4,517.1 L885.7,517.1 L886.1,517.1 L886.5,451.4 L886.9,451.4 L887.2,451.4 L887.7,365.7 L888.0,365.7 L888.3,365.7 L888.8,337.1 L889.1,337.1 L889.7,337.1 L890.3,322.9 L890.9,322.9 L891.5,322.9 L892.3,297.1 L892.9,297.1 L894.3,292.9 L894.7,292.9 L895.3,425.7 L895.7,425.7 M898.6,302.9 L900.0,300.0 L901.4,305.7 L901.9,305.7 L902.4,257.1 L902.9,257.1 L903.3,257.1 L903.9,194.3 L904.3,194.3 L904.7,194.3 L905.3,161.4 L905.7,161.4 L906.1,161.4 L906.7,265.7 L907.1,265.7 L907.6,265.7 L908.1,337.1 L908.6,337.1 L909.0,337.1 L909.6,380.0 L910.0,380.0 L910.4,380.0 L911.0,240.0 L911.4,240.0 L911.9,240.0 L912.4,522.9 L912.9,522.9 L913.3,522.9 L913.9,365.7 L914.3,365.7 L914.7,365.7 L915.3,394.3 L915.7,394.3 L916.1,394.3 L916.7,474.3 L917.1,474.3 L917.6,474.3 L918.1,280.0 L918.6,280.0 L919.0,280.0 L919.6,222.9 L920.0,222.9 L920.4,222.9 L921.0,181.4 L921.4,181.4 L921.9,181.4 L922.4,228.6 L922.9,228.6 L924.3,228.6 L924.7,228.6 L925.3,265.7 L925.7,265.7 L926.1,265.7 L926.7,308.6 L927.1,308.6 L927.6,308.6 L928.1,320.0 L928.6,320.0 L929.0,320.0 L929.6,308.6 L930.0,308.6 L930.4,308.6 L931.0,285.7 L931.4,285.7 L931.9,285.7 L932.4,351.4 L932.9,351.4 L933.3,351.4 L933.9,285.7 L934.3,285.7 L934.7,285.7 L935.3,265.7 L935.7,265.7 L936.1,265.7 L936.7,337.1 L937.1,337.1 L937.6,337.1 L938.1,474.3 L938.6,474.3 L939.0,474.3 L939.6,365.7 L940.0,365.7 L940.4,365.7 L941.0,208.6 L941.4,208.6 L941.9,208.6 L942.4,140.0 L942.9,140.0 L943.3,140.0 L943.9,251.4 L944.3,251.4 L944.7,251.4 L945.3,214.3 L945.7,214.3 M954.3,322.9 L954.7,322.9 L955.3,227.1 L955.7,227.1 L956.1,227.1 L956.7,280.0 L957.1,280.0 L957.6,280.0 L958.1,331.4 L958.6,331.4 L958.8,331.4 L959.2,251.4 L959.4,251.4 L959.8,251.4 L960.2,208.6 L960.6,208.6 L960.9,208.6 L961.4,160.0 L961.7,160.0 L962.1,160.0 L962.5,222.9 L962.9,222.9 M968.0,205.7 L970.0,205.7 L970.4,205.7 L971.0,240.0 L971.4,240.0 L971.7,240.0 L972.0,337.1 L972.3,337.1 M988.6,197.1 L989.3,197.1 L990.2,131.4 L990.9,131.4 L991.2,131.4 L991.7,371.4 L992.0,371.4 L992.3,371.4 L992.6,451.4 L992.9,451.4 M994.9,168.6 L995.4,168.6 L996.1,185.7 L996.6,185.7 L996.9,185.7 L997.4,222.9 L997.7,222.9" fill="none" stroke="#6dbb22" stroke-width="3.3" stroke-linejoin="miter" stroke-miterlimit="2" stroke-linecap="butt"/>
<path d="M252.9,795.7 L253.3,795.7 L253.9,802.9 L254.3,802.9 L254.7,802.9 L255.3,794.3 L255.7,794.3 L256.6,792.9 L256.9,792.9 L257.4,807.1 L257.7,807.1 L258.0,807.1 L258.3,815.7 L258.6,815.7 L259.0,815.7 L259.6,830.0 L260.0,830.0 L261.4,827.1 L262.9,822.9 L264.3,824.3 L264.7,824.3 L265.3,835.7 L265.7,835.7 L266.0,835.7 L266.3,861.4 L266.6,861.4 L266.8,861.4 L267.2,887.1 L267.4,887.1 L267.8,887.1 L268.2,870.0 L268.6,870.0 L268.9,870.0 L269.4,838.6 L269.7,838.6 L270.1,838.6 L270.5,875.7 L270.9,875.7 L271.2,875.7 L271.7,904.3 L272.0,904.3 L272.3,904.3 L272.8,944.3 L273.1,944.3 L273.5,944.3 L273.9,984.3 L274.3,984.3 L274.9,1000.0 M278.6,914.3 L279.0,914.3 L279.6,921.4 L280.0,921.4 L281.4,924.3 L281.7,924.3 L282.0,852.9 L282.3,852.9 L283.7,855.7 L284.1,855.7 L284.7,890.0 L285.1,890.0 L285.5,890.0 L285.9,945.7 L286.3,945.7 L286.6,945.7 L287.1,910.0 L287.4,910.0 L287.8,910.0 L288.2,861.4 L288.6,861.4 L289.4,857.1 L289.9,857.1 L290.4,890.0 L290.9,890.0 L292.0,890.0 L293.4,895.7 L293.7,895.7 L294.0,904.3 L294.3,904.3 L294.7,904.3 L295.3,890.0 L295.7,890.0 L296.1,890.0 L296.7,875.7 L297.1,875.7 L297.6,875.7 L298.1,891.4 L298.6,891.4 L298.8,891.4 L299.2,867.1 L299.4,867.1 L299.8,867.1 L300.2,812.9 L300.6,812.9 L300.9,812.9 L301.4,830.0 L301.7,830.0 L302.9,835.7 L303.3,835.7 L303.9,818.6 L304.3,818.6 L304.7,818.6 L305.3,827.1 L305.7,827.1 L306.0,827.1 L306.3,798.6 L306.6,798.6 L306.9,798.6 L307.4,818.6 L307.7,818.6 L308.0,818.6 L308.3,847.1 L308.6,847.1 L309.0,847.1 L309.6,864.3 L310.0,864.3 L310.4,864.3 L311.0,887.1 L311.4,887.1 L312.9,892.9 L313.3,892.9 L313.9,875.7 L314.3,875.7 L314.7,875.7 L315.3,804.3 L315.7,804.3 L316.1,804.3 L316.7,830.0 L317.1,830.0 L317.4,830.0 L317.7,875.7 L318.0,875.7 L318.6,937.1 L318.8,937.1 L319.2,875.7 L319.4,875.7 L319.8,875.7 L320.2,861.4 L320.6,861.4 L321.1,861.4 L321.8,847.1 L322.3,847.1 L322.7,847.1 L323.3,832.9 L323.7,832.9 L325.1,830.0 L326.3,827.1 L327.4,827.1 L328.6,830.0 L328.8,830.0 L329.2,884.3 L329.4,884.3 L329.7,884.3 L330.0,835.7 L330.3,835.7 L330.6,835.7 L331.1,818.6 L331.4,818.6 L332.9,821.4 L334.3,818.6 L335.7,824.3 L337.1,828.6 L337.6,828.6 L338.1,835.7 L338.6,835.7 L340.0,832.9 L340.4,832.9 L341.0,810.0 L341.4,810.0 L342.9,807.1 L343.3,807.1 L343.9,787.1 L344.3,787.1 L344.5,787.1 L344.9,804.3 L345.1,804.3 L345.5,804.3 L345.9,827.1 L346.3,827.1 L346.6,827.1 L347.1,838.6 L347.4,838.6 L347.8,838.6 L348.2,847.1 L348.6,847.1 L348.8,847.1 L349.2,864.3 L349.4,864.3 L349.7,864.3 L350.0,838.6 L350.3,838.6 L350.6,838.6 L351.1,807.1 L351.4,807.1 L351.9,807.1 L352.4,815.7 L352.9,815.7 L353.1,815.7 L353.5,847.1 L353.7,847.1 L354.1,847.1 L354.5,904.3 L354.9,904.3 L355.1,904.3 L355.5,961.4 L355.7,961.4 L356.0,961.4 L356.3,994.3 L356.6,994.3 L356.9,994.3 L357.4,904.3 L357.7,904.3 L358.0,904.3 L358.3,861.4 L358.6,861.4 L358.8,861.4 L359.2,852.9 L359.4,852.9 L360.6,847.1 L361.4,852.9 L361.9,852.9 L362.4,844.3 L362.9,844.3 L364.3,847.1 L364.7,847.1 L365.3,832.9 L365.7,832.9 L366.1,832.9 L366.7,795.7 L367.1,795.7 L367.4,795.7 L367.7,904.3 L368.0,904.3 L368.6,1010.0 L368.8,1010.0 L369.2,932.9 L369.4,932.9 L369.7,932.9 L370.0,904.3 L370.3,904.3 L371.4,904.3 L371.7,904.3 L372.0,990.0 L372.3,990.0 L373.1,984.3 L374.3,984.3 L374.6,984.3 L375.1,947.1 L375.4,947.1 L375.8,947.1 L376.2,932.9 L376.6,932.9 L376.9,932.9 L377.4,804.3 L377.7,804.3 L378.1,804.3 L378.5,890.0 L378.9,890.0 L379.2,890.0 L379.7,824.3 L380.0,824.3 L380.3,824.3 L380.8,875.7 L381.1,875.7 L381.5,875.7 L381.9,958.6 L382.3,958.6 L382.6,958.6 L383.1,904.3 L383.4,904.3 L383.8,904.3 L384.2,932.9 L384.6,932.9 L384.9,932.9 L385.4,897.1 L385.7,897.1 L386.1,897.1 L386.5,932.9 L386.9,932.9 L387.4,974.3 M391.4,872.9 L391.9,872.9 L392.4,841.4 L392.9,841.4 L393.1,841.4 L393.5,818.6 L393.7,818.6 L394.9,812.9 L395.2,812.9 L395.7,824.3 L396.0,824.3 L396.3,824.3 L396.8,847.1 L397.1,847.1 L397.6,847.1 L398.1,898.6 L398.6,898.6 L398.8,898.6 L399.2,795.7 L399.4,795.7 L400.6,790.0 L400.9,790.0 L401.4,875.7 L401.7,875.7 L402.1,875.7 L402.5,922.9 L402.9,922.9 L403.2,922.9 L403.7,818.6 L404.0,818.6 L404.6,741.4 L404.9,741.4 L405.4,750.0 L405.7,750.0 L406.1,750.0 L406.7,790.0 L407.1,790.0 L407.4,790.0 L407.7,752.9 L408.0,752.9 L409.1,755.7 L409.5,755.7 L409.9,790.0 L410.3,790.0 L410.6,790.0 L411.1,824.3 L411.4,824.3 L411.9,824.3 L412.4,801.4 L412.9,801.4 L413.3,801.4 L413.9,818.6 L414.3,818.6 L414.6,818.6 L415.1,880.0 L415.4,880.0 L415.7,880.0 L416.0,761.4 L416.3,761.4 L417.1,767.1 L417.6,767.1 L418.1,790.0 L418.6,790.0 L420.0,795.7 L420.4,795.7 L421.0,727.1 L421.4,727.1 L421.7,727.1 L422.0,704.3 L422.3,704.3 L422.6,704.3 L423.1,732.9 L423.4,732.9 L423.8,732.9 L424.2,807.1 L424.6,807.1 L424.9,807.1 L425.4,781.4 L425.7,781.4 L427.1,784.3 L428.6,778.6 L428.9,778.6 L429.4,847.1 L429.7,847.1 L430.1,847.1 L430.5,775.7 L430.9,775.7 L431.2,775.7 L431.7,767.1 L432.0,767.1 L432.3,767.1 L432.8,747.1 L433.1,747.1 L433.5,747.1 L433.9,727.1 L434.3,727.1 L434.7,727.1 L435.3,750.0 L435.7,750.0 L437.1,755.7 L438.6,758.6 L440.0,755.7 L440.0,755.7 L441.1,750.0 L441.5,750.0 L441.9,761.4 L442.3,761.4 L443.4,764.3 L443.7,764.3 L444.0,790.0 L444.3,790.0 L444.5,790.0 L444.9,841.4 L445.1,841.4 L445.5,841.4 L445.9,870.0 L446.3,870.0 L446.5,870.0 L446.9,790.0 L447.1,790.0 L447.4,790.0 L447.7,747.1 L448.0,747.1 L448.3,747.1 L448.8,707.1 L449.1,707.1 L450.3,712.9 L450.6,712.9 L451.1,732.9 L451.4,732.9 L451.8,732.9 L452.2,761.4 L452.6,761.4 L452.9,761.4 L453.4,790.0 L453.7,790.0 L454.1,790.0 L454.5,850.0 L454.9,850.0 L455.1,850.0 L455.5,881.4 L455.7,881.4 L456.0,881.4 L456.3,807.1 L456.6,807.1 L456.9,807.1 L457.4,795.7 L457.7,795.7 L458.0,795.7 L458.3,855.7 L458.6,855.7 L460.0,858.6 L461.4,852.9 L462.9,855.7 L463.3,855.7 L463.9,824.3 L464.3,824.3 L464.7,824.3 L465.3,795.7 L465.7,795.7 L466.9,795.7 L467.2,795.7 L467.7,824.3 L468.0,824.3 L468.3,824.3 L468.8,847.1 L469.1,847.1 L469.5,847.1 L469.9,835.7 L470.3,835.7 L471.4,832.9 L471.8,832.9 L472.2,890.0 L472.6,890.0 L472.8,890.0 L473.2,955.7 L473.4,955.7 L473.7,955.7 L474.0,904.3 L474.3,904.3 L474.6,904.3 L475.1,855.7 L475.4,855.7 L477.1,855.7 L478.6,858.6 L479.0,858.6 L479.6,867.1 L480.0,867.1 L481.4,864.3 L481.9,864.3 L482.4,855.7 L482.9,855.7 L483.3,855.7 L483.9,864.3 L484.3,864.3 L485.7,870.0 L486.1,870.0 L486.7,847.1 L487.1,847.1 L488.6,852.9 L488.9,852.9 L489.4,910.0 L489.7,910.0 M491.4,875.7 L492.0,812.9 M495.7,918.6 L496.1,918.6 L496.7,950.0 L497.1,950.0 M504.3,864.3 L504.5,864.3 L504.9,790.0 L505.1,790.0 L505.5,790.0 L505.9,764.3 L506.3,764.3 L506.6,764.3 L507.1,821.4 L507.4,821.4 L508.6,818.6 M510.9,884.3 L512.0,887.1 L512.3,887.1 L512.8,967.1 L513.1,967.1 L513.5,967.1 L513.9,932.9 L514.3,932.9 L514.6,932.9 L515.1,875.7 L515.4,875.7 L515.7,875.7 L516.0,801.4 L516.3,801.4 L516.5,801.4 L516.9,778.6 L517.1,778.6 L518.6,775.7 L519.0,775.7 L519.6,790.0 L520.0,790.0 L520.3,790.0 L520.6,761.4 L520.9,761.4 L522.0,758.6 L522.3,758.6 L522.6,875.7 L522.9,875.7 L523.4,870.0 L523.7,870.0 L524.0,790.0 L524.3,790.0 L524.5,790.0 L524.9,812.9 L525.1,812.9 L525.5,812.9 L525.9,775.7 L526.3,775.7 L526.6,775.7 L527.1,761.4 L527.4,761.4 L528.6,767.1 L528.9,767.1 L529.4,747.1 L529.7,747.1 L530.1,747.1 L530.5,738.6 L530.9,738.6 L531.2,738.6 L531.7,684.3 L532.0,684.3 L532.3,684.3 L532.8,698.6 L533.1,698.6 L533.5,698.6 L533.9,718.6 L534.3,718.6 L534.6,718.6 L535.1,912.9 L535.4,912.9 L535.8,912.9 L536.2,875.7 L536.6,875.7 L536.9,875.7 L537.4,818.6 L537.7,818.6 L538.1,818.6 L538.5,775.7 L538.9,775.7 L539.2,775.7 L539.7,890.0 L540.0,890.0 L540.3,890.0 L540.8,824.3 L541.1,824.3 L541.5,824.3 L541.9,712.9 L542.3,712.9 L543.4,710.0 L543.8,710.0 L544.2,761.4 L544.6,761.4 L544.9,761.4 L545.4,861.4 L545.7,861.4 L546.1,861.4 L546.5,710.0 L546.9,710.0 L548.0,707.1 L548.3,707.1 L548.8,844.3 L549.1,844.3 M552.0,700.0 L553.1,698.6 L554.3,698.0 L555.7,697.1 L557.1,700.0 L557.6,700.0 L558.1,692.9 L558.6,692.9 L558.8,692.9 L559.2,718.6 L559.4,718.6 L559.7,718.6 L560.0,801.4 L560.3,801.4 L561.4,804.3 L562.9,801.4 L563.2,801.4 L563.7,718.6 L564.0,718.6 L564.3,718.6 L564.8,710.0 L565.1,710.0 L565.5,710.0 L565.9,727.1 L566.3,727.1 L567.4,721.4 L567.8,721.4 L568.2,710.0 L568.6,710.0 L569.0,710.0 L569.6,698.6 L570.0,698.6 L570.4,698.6 L571.0,678.6 L571.4,678.6 L571.9,678.6 L572.4,687.1 L572.9,687.1 L573.3,687.1 L573.9,678.6 L574.3,678.6 L575.7,684.3 L577.1,690.0 L578.6,695.7 L580.0,698.6 L580.4,698.6 L581.0,687.1 L581.4,687.1 L581.9,687.1 L582.4,678.6 L582.9,678.6 L583.3,678.6 L583.9,671.4 L584.3,671.4 L585.7,668.6 M591.4,667.1 L592.9,670.0 L594.3,675.7 L594.7,675.7 L595.3,684.3 L595.7,684.3 L596.1,684.3 L596.7,675.7 L597.1,675.7 L598.6,672.9 L600.0,675.7 L600.4,675.7 L601.0,667.1 L601.4,667.1 L602.9,665.7 L603.3,665.7 L603.9,678.6 L604.3,678.6 L605.7,684.3 L607.1,687.1 L607.6,687.1 L608.1,675.7 L608.6,675.7 L610.0,681.4 L610.3,681.4 L610.6,694.3 L610.9,694.3 L611.2,694.3 L611.7,675.7 L612.0,675.7 L612.9,670.0 L613.3,670.0 L613.9,661.4 L614.3,661.4 L614.7,661.4 L615.3,672.9 L615.7,672.9 L617.1,677.1 L617.6,677.1 L618.1,684.3 L618.6,684.3 L618.8,684.3 L619.2,658.6 L619.4,658.6 L619.8,658.6 L620.2,650.0 L620.6,650.0 L620.9,650.0 L621.4,661.4 L621.7,661.4 L622.9,658.6 L624.3,658.6 L624.7,658.6 L625.3,675.7 L625.7,675.7 L626.1,675.7 L626.7,658.6 L627.1,658.6 L628.6,657.1 L630.0,661.4 L631.4,667.1 L632.9,670.0 L634.3,675.7 L637.1,672.9 L640.0,675.7 L640.0,672.9 L641.4,675.7 L642.9,678.6 L644.3,681.4 L645.7,677.1 L647.1,681.4 L648.6,684.3 L650.0,687.1 L651.4,690.0 L652.9,691.4 M655.7,684.3 L657.1,684.3 L657.6,684.3 L658.1,692.9 L658.6,692.9 L659.0,692.9 L659.6,702.9 L660.0,702.9 M668.0,652.9 L669.1,651.4 L669.5,651.4 L669.9,658.6 L670.3,658.6 L671.4,661.4 L672.9,664.3 L674.3,670.0 L675.7,672.9 L677.1,672.9 L678.6,671.4 L679.0,671.4 L679.6,658.6 L680.0,658.6 L681.4,654.3 L682.9,652.9 L683.3,652.9 L683.9,670.0 L684.3,670.0 L684.7,670.0 L685.3,678.6 L685.7,678.6 L687.1,684.3 L687.6,684.3 L688.1,704.3 L688.6,704.3 L689.0,704.3 L689.6,692.9 L690.0,692.9 L690.4,692.9 L691.0,684.3 L691.4,684.3 L691.9,684.3 L692.4,698.6 L692.9,698.6 L693.3,698.6 L693.9,687.1 L694.3,687.1 L694.7,687.1 L695.3,672.9 L695.7,672.9 L696.1,672.9 L696.7,664.3 L697.1,664.3 L697.6,664.3 L698.1,651.4 L698.6,651.4 L699.0,651.4 L699.6,658.6 L700.0,658.6 L700.4,658.6 L701.0,681.4 L701.4,681.4 L702.9,675.7 L704.3,670.0 L704.7,670.0 L705.3,661.4 L705.7,661.4 L707.1,658.6 L707.6,658.6 L708.1,672.9 L708.6,672.9 L709.0,672.9 L709.6,655.7 L710.0,655.7 L711.4,650.0 L711.9,650.0 L712.4,664.3 L712.9,664.3 L713.3,664.3 L713.9,647.1 L714.3,647.1 L714.7,647.1 L715.3,695.7 L715.7,695.7 L716.1,695.7 L716.7,661.4 L717.1,661.4 L717.6,661.4 L718.1,647.1 L718.6,647.1 L719.0,647.1 L719.6,635.7 L720.0,635.7 L720.4,635.7 L721.0,627.1 L721.4,627.1 L722.9,625.7 L724.3,630.0 L724.7,630.0 L725.3,638.6 L725.7,638.6 L726.1,638.6 L726.7,647.1 L727.1,647.1 L727.6,647.1 L728.1,670.0 L728.6,670.0 L729.0,670.0 L729.6,647.1 L730.0,647.1 L730.4,647.1 L731.0,692.9 L731.4,692.9 L731.7,692.9 L732.0,704.3 L732.3,704.3 L732.5,704.3 L732.9,652.9 L733.1,652.9 L734.3,650.0 L734.7,650.0 L735.3,641.4 L735.7,641.4 L737.1,644.3 L738.6,647.1 L740.0,650.0 L740.4,650.0 L741.0,664.3 L741.4,664.3 L741.9,664.3 L742.4,652.9 L742.9,652.9 L743.3,652.9 L743.9,667.1 L744.3,667.1 L744.7,667.1 L745.3,655.7 L745.7,655.7 L746.1,655.7 L746.7,632.9 L747.1,632.9 L748.6,635.7 L749.0,635.7 L749.6,647.1 L750.0,647.1 L750.4,647.1 L751.0,655.7 L751.4,655.7 L751.9,655.7 L752.4,671.4 L752.9,671.4 L753.3,671.4 L753.9,647.1 L754.3,647.1 L754.7,647.1 L755.3,635.7 L755.7,635.7 L757.1,632.9 L757.4,632.9 L757.7,624.3 L758.0,624.3 L758.3,624.3 L758.6,617.1 L758.9,617.1 L760.0,618.6 L761.1,617.1 L762.3,618.6 L763.4,615.7 L764.6,617.1 L765.7,614.3 L766.1,614.3 L766.7,621.4 L767.1,621.4 L767.6,621.4 L768.1,638.6 L768.6,638.6 L769.0,638.6 L769.6,652.9 L770.0,652.9 L770.4,652.9 L771.0,664.3 L771.4,664.3 L771.9,664.3 L772.4,677.1 L772.9,677.1 L773.3,677.1 L773.9,655.7 L774.3,655.7 L774.7,655.7 L775.3,647.1 L775.7,647.1 L777.1,644.3 L777.6,644.3 L778.1,637.1 L778.6,637.1 L779.0,637.1 L779.6,644.3 L780.0,644.3 L781.4,647.1 L781.9,647.1 L782.4,664.3 L782.9,664.3 L784.3,670.0 L785.7,672.9 L787.1,675.7 L787.6,675.7 L788.1,690.0 L788.6,690.0 L789.0,690.0 L789.6,675.7 L790.0,675.7 L790.4,675.7 L791.0,664.3 L791.4,664.3 L792.9,667.1 L793.3,667.1 L793.9,684.3 L794.3,684.3 L795.7,688.6 L796.1,688.6 L796.7,664.3 L797.1,664.3 L798.6,658.6 L799.0,658.6 L799.6,684.3 L800.0,684.3 L800.4,684.3 L801.0,700.0 L801.4,700.0 L802.9,695.7 L803.3,695.7 L803.9,684.3 L804.3,684.3 L804.7,684.3 L805.3,675.7 L805.7,675.7 L806.1,675.7 L806.7,661.4 L807.1,661.4 L808.0,657.1 M813.7,775.7 L814.1,775.7 L814.5,790.0 L814.9,790.0 L815.2,790.0 L815.7,798.6 L816.0,798.6 L816.6,761.4 L816.9,761.4 L817.4,724.3 L817.7,724.3 L818.1,724.3 L818.5,690.0 L818.9,690.0 L819.2,690.0 L819.7,681.4 L820.0,681.4 L821.1,684.3 L821.5,684.3 L821.9,710.0 L822.3,710.0 L822.6,710.0 L823.1,724.3 L823.4,724.3 L823.8,724.3 L824.2,732.9 L824.6,732.9 L824.9,732.9 L825.4,761.4 L825.7,761.4 L826.1,761.4 L826.7,790.0 L827.1,790.0 L827.4,790.0 L827.7,835.7 L828.0,835.7 L828.3,835.7 L828.8,790.0 L829.1,790.0 L829.5,790.0 L829.9,838.6 L830.3,838.6 L830.9,855.7 L831.2,855.7 L831.7,818.6 L832.0,818.6 L832.3,818.6 L832.8,767.1 L833.1,767.1 L833.5,767.1 L833.9,732.9 L834.3,732.9 L834.7,732.9 L835.3,718.6 L835.7,718.6 L836.1,718.6 L836.7,690.0 L837.1,690.0 L838.6,688.6 L839.0,688.6 L839.6,710.0 L840.0,710.0 L840.0,710.0 L840.4,710.0 L841.0,775.7 L841.4,775.7 L841.9,775.7 L842.4,761.4 L842.9,761.4 L843.3,761.4 L843.9,718.6 L844.3,718.6 L844.5,718.6 L844.9,687.1 L845.1,687.1 L845.5,687.1 L845.9,727.1 L846.3,727.1 L846.6,727.1 L847.1,761.4 L847.4,761.4 L847.8,761.4 L848.2,804.3 L848.6,804.3 L848.9,804.3 L849.4,847.1 L849.7,847.1 L850.0,847.1 L850.3,881.4 L850.6,881.4 L850.8,881.4 L851.2,807.1 L851.4,807.1 L851.9,807.1 L852.4,818.6 L852.9,818.6 L853.3,818.6 L853.9,841.4 L854.3,841.4 L854.7,841.4 L855.3,864.3 L855.7,864.3 L856.1,864.3 L856.7,832.9 L857.1,832.9 L857.6,832.9 L858.1,790.0 L858.6,790.0 L858.8,790.0 L859.2,761.4 L859.4,761.4 L860.6,767.1 L861.1,767.1 L861.8,784.3 L862.3,784.3 L862.9,784.3 L863.7,795.7 L864.3,795.7 L864.7,795.7 L865.3,807.1 L865.7,807.1 L866.1,807.1 L866.7,818.6 L867.1,818.6 L868.6,824.3 L869.0,824.3 L869.6,832.9 L870.0,832.9 L871.4,835.7 L871.9,835.7 L872.4,807.1 L872.9,807.1 L873.1,807.1 L873.5,761.4 L873.7,761.4 L874.6,758.6 L874.9,758.6 L875.4,775.7 L875.7,775.7 L876.1,775.7 L876.7,818.6 L877.1,818.6 L877.4,818.6 L877.7,875.7 L878.0,875.7 L878.3,875.7 L878.8,904.3 L879.1,904.3 L879.6,904.3 L880.1,918.6 L880.6,918.6 L880.9,918.6 L881.4,890.0 L881.7,890.0 L882.1,890.0 L882.5,847.1 L882.9,847.1 L883.3,847.1 L883.9,807.1 L884.3,807.1 L884.7,807.1 L885.3,795.7 L885.7,795.7 L887.1,790.0 L887.6,790.0 L888.1,752.9 L888.6,752.9 L889.0,752.9 L889.6,727.1 L890.0,727.1 L890.3,727.1 L890.6,775.7 L890.9,775.7 L891.2,775.7 L891.7,827.1 L892.0,827.1 L892.9,824.3 L893.3,824.3 L893.9,812.9 L894.3,812.9 L894.7,812.9 L895.3,827.1 L895.7,827.1 L896.1,827.1 L896.7,804.3 L897.1,804.3 L897.5,804.3 L897.9,772.9 L898.3,772.9 L898.6,772.9 L899.1,795.7 L899.4,795.7 L899.8,795.7 L900.2,810.0 L900.6,810.0 M908.6,918.6 L908.9,918.6 L909.4,767.1 L909.7,767.1 L910.9,764.3 L912.0,767.1 L912.3,767.1 L912.8,790.0 L913.1,790.0 L913.5,790.0 L913.9,804.3 L914.3,804.3 L914.7,804.3 L915.3,890.0 L915.7,890.0 L916.1,890.0 L916.7,790.0 L917.1,790.0 L917.6,790.0 L918.1,781.4 L918.6,781.4 L920.0,784.3 L921.4,790.0 L921.9,790.0 L922.4,832.9 L922.9,832.9 L923.3,832.9 L923.9,930.0 L924.3,930.0 L924.7,930.0 L925.3,847.1 L925.7,847.1 L926.1,847.1 L926.7,812.9 L927.1,812.9 L927.6,812.9 L928.1,795.7 L928.6,795.7 L930.0,790.0 L930.4,790.0 L931.0,841.4 L931.4,841.4 L931.9,841.4 L932.4,810.0 L932.9,810.0 L933.3,810.0 L933.9,818.6 L934.3,818.6 L934.7,818.6 L935.3,775.7 L935.7,775.7 L936.1,775.7 L936.7,784.3 L937.1,784.3 L937.6,784.3 L938.1,875.7 L938.6,875.7 L939.0,875.7 L939.6,955.7 L940.0,955.7 L940.4,955.7 L941.0,790.0 L941.4,790.0 L942.9,784.3 L944.3,784.3 L944.7,784.3 L945.3,818.6 L945.7,818.6 L946.1,818.6 L946.7,1035.7 L947.1,1035.7 L947.6,1035.7 L948.1,792.9 L948.6,792.9 L949.7,795.7 L950.1,795.7 L950.5,818.6 L950.9,818.6 L952.0,824.3 L952.3,824.3 L952.8,812.9 L953.1,812.9 L954.3,807.1 L954.7,807.1 L955.3,798.6 L955.7,798.6 L957.1,795.7 L958.6,792.9 L960.0,795.7 L960.4,795.7 L961.0,807.1 L961.4,807.1 L961.9,807.1 L962.4,832.9 L962.9,832.9 M964.9,892.9 L965.1,892.9 L965.5,904.3 L965.7,904.3 L966.1,904.3 L966.7,932.9 L967.1,932.9 L967.6,932.9 L968.1,961.4 L968.6,961.4 L970.0,967.1 M972.0,1070.0 L972.5,1070.0 L973.2,1018.6 L973.7,1018.6 L974.1,1018.6 L974.5,990.0 L974.9,990.0 L975.2,990.0 L975.7,961.4 L976.0,961.4 L976.3,961.4 L976.8,927.1 L977.1,927.1 L978.6,921.4 M990.0,967.1 L990.4,967.1 L991.0,904.3 L991.4,904.3 L991.9,904.3 L992.4,932.9 L992.9,932.9 L993.3,932.9 L993.9,875.7 L994.3,875.7 L994.7,875.7 L995.3,807.1 L995.7,807.1 L996.0,807.1 L996.3,875.7 L996.6,875.7 L997.1,990.0 L997.5,990.0 L997.9,1032.9 L998.3,1032.9 L998.6,1032.9 L999.1,1047.1 L999.4,1047.1 L999.8,1047.1 L1000.2,1070.0 L1000.6,1070.0 M1002.9,904.3 L1003.3,904.3 L1003.9,875.7 L1004.3,875.7 L1004.5,875.7 L1004.9,832.9 L1005.1,832.9 L1006.3,830.0 L1006.6,830.0 L1007.1,890.0 L1007.4,890.0" fill="none" stroke="#1b82db" stroke-width="3.15" stroke-linejoin="miter" stroke-miterlimit="2" stroke-linecap="butt"/>
<path d="M252.9,1340.0 L253.1,1340.0 L253.5,1367.1 L253.7,1367.1 L254.1,1367.1 L254.5,1401.4 L254.9,1401.4 L255.4,1401.4 L256.1,1410.0 L256.6,1410.0 L257.1,1410.0 L257.8,1418.6 L258.3,1418.6 L258.6,1418.6 L259.1,1425.7 L259.4,1425.7 M262.3,1472.9 L262.7,1472.9 L263.3,1458.6 L263.7,1458.6 L264.0,1458.6 L264.3,1395.7 L264.6,1395.7 L264.9,1395.7 L265.4,1324.3 L265.7,1324.3 L267.1,1320.0 L268.6,1324.3 L268.9,1324.3 L269.4,1367.1 L269.7,1367.1 L270.1,1367.1 L270.5,1432.9 L270.9,1432.9 L271.3,1432.9 L271.9,1475.7 L272.3,1475.7 M276.6,1297.1 L276.9,1297.1 L277.4,1275.7 L277.7,1275.7 L278.1,1275.7 L278.5,1204.3 L278.9,1204.3 L279.2,1204.3 L279.7,1230.0 L280.0,1230.0 L280.3,1230.0 L280.6,1270.0 L280.9,1270.0 L281.2,1270.0 L281.7,1324.3 L282.0,1324.3 L282.3,1324.3 L282.6,1381.4 L282.9,1381.4 L283.1,1381.4 L283.5,1424.3 L283.7,1424.3 L284.1,1424.3 L284.5,1455.7 L284.9,1455.7 L285.1,1455.7 L285.5,1492.9 L285.7,1492.9 L286.1,1492.9 L286.5,1461.4 L286.9,1461.4 L287.2,1461.4 L287.7,1424.3 L288.0,1424.3 L288.3,1424.3 L288.8,1395.7 L289.1,1395.7 L289.4,1395.7 L289.7,1347.1 L290.0,1347.1 L290.3,1347.1 L290.6,1232.9 L290.9,1232.9 L291.2,1232.9 L291.7,1137.1 L292.0,1137.1 L292.3,1137.1 L292.6,1152.9 L292.9,1152.9 M296.0,1242.9 L297.1,1247.1 L297.5,1247.1 L297.9,1281.4 L298.3,1281.4 L298.9,1338.6 L299.1,1338.6 L299.5,1418.6 L299.7,1418.6 L300.1,1418.6 L300.5,1395.7 L300.9,1395.7 L301.2,1395.7 L301.7,1367.1 L302.0,1367.1 L302.4,1367.1 L303.0,1338.6 L303.4,1338.6 L303.8,1338.6 L304.2,1324.3 L304.6,1324.3 L304.9,1324.3 L305.4,1292.9 L305.7,1292.9 L306.1,1292.9 L306.5,1275.7 L306.9,1275.7 L308.6,1281.4 L309.0,1281.4 L309.6,1324.3 L310.0,1324.3 L310.4,1324.3 L311.0,1341.4 L311.4,1341.4 L312.9,1338.6 L313.3,1338.6 L313.9,1412.9 L314.3,1412.9 L314.7,1412.9 L315.3,1395.7 L315.7,1395.7 L316.0,1395.7 L316.3,1338.6 L316.6,1338.6 L316.9,1338.6 L317.4,1218.6 L317.7,1218.6 L318.0,1218.6 L318.3,1157.1 L318.6,1157.1 L319.0,1157.1 L319.6,1167.1 L320.0,1167.1 L321.4,1167.1 L321.9,1167.1 L322.4,1218.6 L322.9,1218.6 L323.3,1218.6 L323.9,1238.6 L324.3,1238.6 L324.7,1238.6 L325.3,1270.0 L325.7,1270.0 L326.1,1270.0 L326.7,1281.4 L327.1,1281.4 L327.6,1281.4 L328.1,1310.0 L328.6,1310.0 L329.0,1310.0 L329.6,1327.1 L330.0,1327.1 L330.4,1327.1 L331.0,1270.0 L331.4,1270.0 L331.9,1270.0 L332.4,1168.6 L332.9,1168.6 L333.3,1168.6 L333.9,1195.7 L334.3,1195.7 L334.7,1195.7 L335.3,1247.1 L335.7,1247.1 L336.1,1247.1 L336.7,1310.0 L337.1,1310.0 L337.6,1310.0 L338.1,1332.9 L338.6,1332.9 L340.0,1338.6 L340.4,1338.6 L341.0,1352.9 L341.4,1352.9 L341.9,1352.9 L342.4,1375.7 L342.9,1375.7 L343.3,1375.7 L343.9,1195.7 L344.3,1195.7 L344.5,1195.7 L344.9,1138.6 L345.1,1138.6 L346.3,1137.1 L347.4,1131.4 L348.6,1130.0 L349.0,1130.0 L349.6,1218.6 L350.0,1218.6 L350.4,1218.6 L351.0,1281.4 L351.4,1281.4 L351.9,1281.4 L352.4,1338.6 L352.9,1338.6 L353.3,1338.6 L353.9,1395.7 L354.3,1395.7 L354.7,1395.7 L355.3,1412.9 L355.7,1412.9 L356.1,1412.9 L356.7,1352.9 L357.1,1352.9 L357.6,1352.9 L358.1,1267.1 L358.6,1267.1 L359.0,1267.1 L359.6,1182.9 L360.0,1182.9 L360.4,1182.9 L361.0,1201.4 L361.4,1201.4 L361.9,1201.4 L362.4,1238.6 L362.9,1238.6 L363.2,1238.6 L363.7,1344.3 L364.0,1344.3 L364.3,1344.3 L364.8,1381.4 L365.1,1381.4 L365.5,1381.4 L365.9,1410.0 L366.3,1410.0 L366.6,1410.0 L367.1,1484.3 L367.4,1484.3 L367.8,1484.3 L368.2,1452.9 L368.6,1452.9 L369.0,1452.9 L369.6,1424.3 L370.0,1424.3 L370.3,1424.3 L370.6,1395.7 L370.9,1395.7 L371.2,1395.7 L371.7,1352.9 L372.0,1352.9 L372.3,1352.9 L372.8,1281.4 L373.1,1281.4 L373.5,1281.4 L373.9,1257.1 L374.3,1257.1 L374.7,1257.1 L375.3,1338.6 L375.7,1338.6 L376.1,1338.6 L376.7,1438.6 L377.1,1438.6 L377.7,1438.6 L378.3,1452.9 L378.9,1452.9 L379.2,1452.9 L379.7,1475.7 L380.0,1475.7 L380.3,1475.7 L380.8,1450.0 L381.1,1450.0 L381.5,1450.0 L381.9,1424.3 L382.3,1424.3 L383.4,1421.4 L384.6,1424.3 L384.9,1424.3 L385.4,1447.1 L385.7,1447.1 L386.1,1447.1 L386.5,1352.9 L386.9,1352.9 L388.0,1350.0 L388.3,1350.0 L388.8,1358.6 L389.1,1358.6 L389.5,1358.6 L389.9,1378.6 L390.3,1378.6 L390.6,1378.6 L391.1,1410.0 L391.4,1410.0 L391.8,1410.0 L392.2,1438.6 L392.6,1438.6 L392.9,1438.6 L393.4,1450.0 L393.7,1450.0 L394.1,1450.0 L394.5,1435.7 L394.9,1435.7 L395.2,1435.7 L395.7,1395.7 L396.0,1395.7 L396.3,1395.7 L396.8,1367.1 L397.1,1367.1 L397.6,1367.1 L398.1,1304.3 L398.6,1304.3 L399.0,1304.3 L399.6,1192.9 L400.0,1192.9 L401.4,1190.0 L401.9,1190.0 L402.4,1295.7 L402.9,1295.7 L403.3,1295.7 L403.9,1338.6 L404.3,1338.6 L404.7,1338.6 L405.3,1361.4 L405.7,1361.4 L406.1,1361.4 L406.7,1395.7 L407.1,1395.7 L407.6,1395.7 L408.1,1407.1 L408.6,1407.1 L410.0,1404.3 L410.4,1404.3 L411.0,1395.7 L411.4,1395.7 L411.9,1395.7 L412.4,1361.4 L412.9,1361.4 L413.3,1361.4 L413.9,1304.3 L414.3,1304.3 L414.6,1304.3 L415.1,1277.1 L415.4,1277.1 L417.1,1281.4 L417.6,1281.4 L418.1,1315.7 L418.6,1315.7 L419.0,1315.7 L419.6,1338.6 L420.0,1338.6 L420.4,1338.6 L421.0,1395.7 L421.4,1395.7 L421.9,1395.7 L422.4,1410.0 L422.9,1410.0 L423.3,1410.0 L423.9,1441.4 L424.3,1441.4 L424.7,1441.4 L425.3,1470.0 L425.7,1470.0 L426.3,1390.0 L426.5,1390.0 L426.9,1301.4 L427.1,1301.4 L427.6,1301.4 L428.1,1310.0 L428.6,1310.0 L429.0,1310.0 L429.6,1227.1 L430.0,1227.1 L430.3,1227.1 L430.6,1252.9 L430.9,1252.9 L431.2,1252.9 L431.7,1338.6 L432.0,1338.6 L432.3,1338.6 L432.8,1395.7 L433.1,1395.7 L433.5,1395.7 L433.9,1424.3 L434.3,1424.3 L434.7,1424.3 L435.3,1458.6 L435.7,1458.6 L436.1,1458.6 L436.7,1395.7 L437.1,1395.7 L437.6,1395.7 L438.1,1281.4 L438.6,1281.4 L439.0,1281.4 L439.6,1218.6 L440.0,1218.6 L440.0,1218.6 L440.4,1218.6 L441.0,1181.4 L441.4,1181.4 L441.8,1181.4 L442.2,1164.3 L442.6,1164.3 L442.8,1164.3 L443.2,1195.7 L443.4,1195.7 L443.7,1195.7 L444.0,1258.6 L444.3,1258.6 L444.5,1258.6 L444.9,1338.6 L445.1,1338.6 L445.5,1338.6 L445.9,1395.7 L446.3,1395.7 L446.6,1395.7 L447.1,1410.0 L447.4,1410.0 L447.8,1410.0 L448.2,1424.3 L448.6,1424.3 L449.0,1424.3 L449.6,1438.6 L450.0,1438.6 L450.4,1438.6 L451.0,1452.9 L451.4,1452.9 L452.6,1457.1 M454.9,1425.7 L456.6,1430.0 L456.9,1430.0 L457.4,1438.6 L457.7,1438.6 L458.1,1438.6 L458.5,1458.6 L458.9,1458.6 M462.6,1480.9 L463.1,1482.0 M467.1,1278.6 L467.4,1278.6 L467.7,1264.3 L468.0,1264.3 L468.3,1264.3 L468.8,1221.4 L469.1,1221.4 L470.3,1218.6 L470.6,1218.6 L471.1,1252.9 L471.4,1252.9 L472.0,1310.0 L472.3,1310.0 L472.6,1395.7 L472.9,1395.7 L473.3,1395.7 L473.9,1410.0 L474.3,1410.0 L474.7,1410.0 L475.3,1438.6 L475.7,1438.6 L476.0,1438.6 L476.3,1452.9 L476.6,1452.9 L476.9,1452.9 L477.4,1490.0 L477.7,1490.0 L478.1,1490.0 L478.5,1452.9 L478.9,1452.9 L479.2,1452.9 L479.7,1424.3 L480.0,1424.3 L480.4,1424.3 L481.0,1367.1 L481.4,1367.1 L481.9,1367.1 L482.4,1332.9 L482.9,1332.9 L483.3,1332.9 L483.9,1320.0 L484.3,1320.0 L484.7,1320.0 L485.3,1352.9 L485.7,1352.9 L486.0,1352.9 L486.3,1381.4 L486.6,1381.4 L486.9,1381.4 L487.4,1410.0 L487.7,1410.0 L488.0,1410.0 L488.3,1395.7 L488.6,1395.7 L489.7,1390.0 L490.1,1390.0 L490.5,1410.0 L490.9,1410.0 L491.2,1410.0 L491.7,1424.3 L492.0,1424.3 L492.3,1424.3 L492.8,1504.3 L493.1,1504.3 L493.5,1504.3 L493.9,1395.7 L494.3,1395.7 L494.6,1395.7 L495.1,1352.9 L495.4,1352.9 L495.8,1352.9 L496.2,1304.3 L496.6,1304.3 L496.9,1304.3 L497.4,1344.3 L497.7,1344.3 L498.9,1338.6 L500.0,1338.6 L501.4,1344.3 L501.9,1344.3 L502.4,1367.1 L502.9,1367.1 L503.3,1367.1 L503.9,1375.7 L504.3,1375.7 L505.7,1375.7 L507.1,1381.4 L508.0,1387.1 L508.3,1387.1 L508.8,1310.0 L509.1,1310.0 L509.5,1310.0 L509.9,1300.0 L510.3,1300.0 L510.6,1300.0 L511.1,1332.9 L511.4,1332.9 L511.8,1332.9 L512.2,1367.1 L512.6,1367.1 L512.9,1367.1 L513.4,1378.6 L513.7,1378.6 L514.1,1378.6 L514.5,1358.6 L514.9,1358.6 L516.0,1361.4 L516.3,1361.4 L516.8,1381.4 L517.1,1381.4 L517.6,1381.4 L518.1,1395.7 L518.6,1395.7 L519.0,1395.7 L519.6,1430.0 L520.0,1430.0 L520.3,1430.0 L520.8,1338.6 L521.1,1338.6 L521.5,1338.6 L521.9,1310.0 L522.3,1310.0 L522.6,1310.0 L523.1,1298.6 L523.4,1298.6 L524.6,1294.3 L524.9,1294.3 L525.4,1304.3 L525.7,1304.3 L526.1,1304.3 L526.7,1338.6 L527.1,1338.6 L527.6,1338.6 L528.1,1384.3 L528.6,1384.3 L530.0,1387.1 L530.4,1387.1 L531.0,1410.0 L531.4,1410.0 L531.9,1410.0 L532.4,1458.6 L532.9,1458.6 L533.3,1458.6 L533.9,1367.1 L534.3,1367.1 L534.6,1367.1 L535.1,1335.7 L535.4,1335.7 L536.6,1338.6 L536.9,1338.6 L537.4,1352.9 L537.7,1352.9 L538.1,1352.9 L538.5,1375.7 L538.9,1375.7 L539.2,1375.7 L539.7,1395.7 L540.0,1395.7 L540.4,1395.7 L541.0,1410.0 L541.4,1410.0 L541.9,1410.0 L542.4,1452.9 L542.9,1452.9 L543.2,1452.9 L543.7,1424.3 L544.0,1424.3 L544.3,1424.3 L544.8,1467.1 L545.1,1467.1 L546.3,1467.1 L546.6,1467.1 L547.1,1478.6 L547.4,1478.6 L547.8,1478.6 L548.2,1424.3 L548.6,1424.3 L548.9,1424.3 L549.4,1395.7 L549.7,1395.7 L550.1,1395.7 L550.5,1381.4 L550.9,1381.4 L551.2,1381.4 L551.7,1364.3 L552.0,1364.3 L552.3,1364.3 L552.8,1372.9 L553.1,1372.9 L553.5,1372.9 L553.9,1395.7 L554.3,1395.7 L554.7,1395.7 L555.3,1410.0 L555.7,1410.0 L556.1,1410.0 L556.7,1424.3 L557.1,1424.3 L558.6,1427.1 L560.0,1424.3 L560.4,1424.3 L561.0,1367.1 L561.4,1367.1 L561.9,1367.1 L562.4,1324.3 L562.9,1324.3 L563.1,1324.3 L563.5,1267.1 L563.7,1267.1 L564.9,1267.1 L565.1,1267.1 L565.5,1338.6 L565.7,1338.6 L566.1,1338.6 L566.7,1424.3 L567.1,1424.3 L567.6,1424.3 L568.1,1444.3 L568.6,1444.3 L570.0,1447.1 L571.4,1452.9 L571.9,1452.9 L572.4,1478.6 L572.9,1478.6 L573.3,1478.6 L573.9,1452.9 L574.3,1452.9 L574.6,1452.9 L575.1,1424.3 L575.4,1424.3 L575.8,1424.3 L576.2,1382.9 L576.6,1382.9 L576.9,1382.9 L577.4,1395.7 L577.7,1395.7 L578.1,1395.7 L578.5,1410.0 L578.9,1410.0 L579.2,1410.0 L579.7,1424.3 L580.0,1424.3 L580.4,1424.3 L581.0,1452.9 L581.4,1452.9 L581.9,1452.9 L582.4,1470.0 L582.9,1470.0 L584.3,1472.9 L585.7,1470.0 L587.1,1467.1 L587.6,1467.1 L588.1,1424.3 L588.6,1424.3 L590.0,1424.3 L591.4,1427.1 L591.9,1427.1 L592.4,1438.6 L592.9,1438.6 L593.3,1438.6 L593.9,1467.1 L594.3,1467.1 L594.7,1467.1 L595.3,1481.4 L595.7,1481.4 L596.1,1481.4 L596.7,1495.7 L597.1,1495.7 L597.6,1495.7 L598.1,1510.0 L598.6,1510.0 L599.0,1510.0 L599.6,1521.4 L600.0,1521.4 L601.4,1524.3 L601.9,1524.3 L602.4,1395.7 L602.9,1395.7 L603.3,1395.7 L603.9,1375.7 L604.3,1375.7 L604.7,1375.7 L605.3,1328.6 L605.7,1328.6 L606.1,1328.6 L606.7,1395.7 L607.1,1395.7 L607.6,1395.7 L608.1,1452.9 L608.6,1452.9 L609.0,1452.9 L609.6,1530.0 L610.0,1530.0 L611.4,1524.3 L611.9,1524.3 L612.4,1510.0 L612.9,1510.0 L613.3,1510.0 L613.9,1481.4 L614.3,1481.4 L614.7,1481.4 L615.3,1438.6 L615.7,1438.6 L616.1,1438.6 L616.7,1395.7 L617.1,1395.7 L617.6,1395.7 L618.1,1381.4 L618.6,1381.4 L619.0,1381.4 L619.6,1350.0 L620.0,1350.0 L620.4,1350.0 L621.0,1395.7 L621.4,1395.7 L621.9,1395.7 L622.4,1452.9 L622.9,1452.9 L623.3,1452.9 L623.9,1467.1 L624.3,1467.1 L624.7,1467.1 L625.3,1481.4 L625.7,1481.4 L626.1,1481.4 L626.7,1510.0 L627.1,1510.0 L627.6,1510.0 L628.1,1521.4 L628.6,1521.4 L629.0,1521.4 L629.6,1467.1 L630.0,1467.1 L630.4,1467.1 L631.0,1438.6 L631.4,1438.6 L631.9,1438.6 L632.4,1427.1 L632.9,1427.1 L634.3,1430.0 L634.7,1430.0 L635.3,1438.6 L635.7,1438.6 L636.1,1438.6 L636.7,1452.9 L637.1,1452.9 L637.6,1452.9 L638.1,1470.0 L638.6,1470.0 L640.0,1470.0 L640.0,1470.0 L641.4,1472.9 L641.9,1472.9 L642.4,1438.6 L642.9,1438.6 L643.3,1438.6 L643.9,1424.3 L644.3,1424.3 L645.7,1421.4 L647.1,1418.6 L648.6,1424.3 L649.0,1424.3 L649.6,1438.6 L650.0,1438.6 L650.4,1438.6 L651.0,1452.9 L651.4,1452.9 L651.9,1452.9 L652.4,1461.4 L652.9,1461.4 L653.3,1461.4 L653.9,1481.4 L654.3,1481.4 L654.7,1481.4 L655.3,1452.9 L655.7,1452.9 L656.1,1452.9 L656.7,1424.3 L657.1,1424.3 L657.6,1424.3 L658.1,1401.4 L658.6,1401.4 L659.0,1401.4 L659.6,1412.9 L660.0,1412.9 L660.4,1412.9 L661.0,1438.6 L661.4,1438.6 L661.9,1438.6 L662.4,1452.9 L662.9,1452.9 L664.3,1458.6 L664.7,1458.6 L665.3,1467.1 L665.7,1467.1 L666.1,1467.1 L666.7,1475.7 L667.1,1475.7 L668.6,1474.3 L669.0,1474.3 L669.6,1467.1 L670.0,1467.1 L670.4,1467.1 L671.0,1452.9 L671.4,1452.9 L671.9,1452.9 L672.4,1438.6 L672.9,1438.6 L674.3,1432.9 L674.7,1432.9 L675.3,1452.9 L675.7,1452.9 L676.1,1452.9 L676.7,1481.4 L677.1,1481.4 L677.6,1481.4 L678.1,1490.0 L678.6,1490.0 L680.0,1495.7 L680.4,1495.7 L681.0,1510.0 L681.4,1510.0 L681.9,1510.0 L682.4,1524.3 L682.9,1524.3 L683.3,1524.3 L683.9,1452.9 L684.3,1452.9 L684.7,1452.9 L685.3,1384.3 L685.7,1384.3 L687.1,1384.3 L687.6,1384.3 L688.1,1410.0 L688.6,1410.0 L689.0,1410.0 L689.6,1450.0 L690.0,1450.0 L691.4,1450.0 L692.9,1452.9 L693.3,1452.9 L693.9,1481.4 L694.3,1481.4 L695.7,1478.6 L696.1,1478.6 L696.7,1467.1 L697.1,1467.1 L697.6,1467.1 L698.1,1452.9 L698.6,1452.9 L699.0,1452.9 L699.6,1438.6 L700.0,1438.6 L700.4,1438.6 L701.0,1427.1 L701.4,1427.1 L701.9,1427.1 L702.4,1447.1 L702.9,1447.1 L704.3,1450.0 L705.7,1452.9 L707.1,1455.7 L707.6,1455.7 L708.1,1467.1 L708.6,1467.1 L709.0,1467.1 L709.6,1487.1 L710.0,1487.1 L710.4,1487.1 L711.0,1452.9 L711.4,1452.9 L711.9,1452.9 L712.4,1438.6 L712.9,1438.6 L713.3,1438.6 L713.9,1395.7 L714.3,1395.7 L714.7,1395.7 L715.3,1384.3 L715.7,1384.3 L716.1,1384.3 L716.7,1424.3 L717.1,1424.3 L717.6,1424.3 L718.1,1452.9 L718.6,1452.9 L719.0,1452.9 L719.6,1470.0 L720.0,1470.0 L721.4,1472.9 L721.9,1472.9 L722.4,1452.9 L722.9,1452.9 L723.3,1452.9 L723.9,1438.6 L724.3,1438.6 L724.7,1438.6 L725.3,1424.3 L725.7,1424.3 L726.1,1424.3 L726.7,1404.3 L727.1,1404.3 L727.6,1404.3 L728.1,1444.3 L728.6,1444.3 L730.0,1444.3 L731.4,1447.1 L732.9,1450.0 L734.3,1452.9 L734.7,1452.9 L735.3,1467.1 L735.7,1467.1 L736.1,1467.1 L736.7,1504.3 L737.1,1504.3 L737.6,1504.3 L738.1,1467.1 L738.6,1467.1 L739.0,1467.1 L739.6,1424.3 L740.0,1424.3 L740.4,1424.3 L741.0,1392.9 L741.4,1392.9 L741.9,1392.9 L742.4,1410.0 L742.9,1410.0 L743.3,1410.0 L743.9,1450.0 L744.3,1450.0 L745.7,1447.1 L747.1,1447.1 L748.6,1450.0 L749.0,1450.0 L749.6,1438.6 L750.0,1438.6 L750.4,1438.6 L751.0,1367.1 L751.4,1367.1 L751.9,1367.1 L752.4,1322.9 L752.9,1322.9 L754.3,1327.1 L754.7,1327.1 L755.3,1352.9 L755.7,1352.9 L756.1,1352.9 L756.7,1395.7 L757.1,1395.7 L757.6,1395.7 L758.1,1424.3 L758.6,1424.3 L759.0,1424.3 L759.6,1438.6 L760.0,1438.6 L760.4,1438.6 L761.0,1452.9 L761.4,1452.9 L761.9,1452.9 L762.4,1464.3 L762.9,1464.3 L763.3,1464.3 L763.9,1472.9 L764.3,1472.9 L764.7,1472.9 L765.3,1438.6 L765.7,1438.6 L766.1,1438.6 L766.7,1410.0 L767.1,1410.0 L767.6,1410.0 L768.1,1398.6 L768.6,1398.6 L769.0,1398.6 L769.6,1410.0 L770.0,1410.0 L770.4,1410.0 L771.0,1438.6 L771.4,1438.6 L771.9,1438.6 L772.4,1452.9 L772.9,1452.9 L774.3,1455.7 L775.7,1458.6 L777.1,1452.9 L777.6,1452.9 L778.1,1410.0 L778.6,1410.0 L778.8,1410.0 L779.2,1372.9 L779.4,1372.9 L779.8,1372.9 L780.2,1410.0 L780.6,1410.0 L781.1,1410.0 L781.8,1438.6 L782.3,1438.6 L782.9,1438.6 L783.7,1452.9 L784.3,1452.9 L784.7,1452.9 L785.3,1481.4 L785.7,1481.4 L786.1,1481.4 L786.7,1458.6 L787.1,1458.6 L787.6,1458.6 L788.1,1450.0 L788.6,1450.0 L790.0,1452.9 L791.4,1447.1 L792.9,1450.0 L793.3,1450.0 L793.9,1438.6 L794.3,1438.6 L794.7,1438.6 L795.3,1430.0 L795.7,1430.0 L796.1,1430.0 L796.7,1438.6 L797.1,1438.6 L797.6,1438.6 L798.1,1452.9 L798.6,1452.9 L799.0,1452.9 L799.6,1481.4 L800.0,1481.4 L800.4,1481.4 L801.0,1504.3 L801.4,1504.3 L801.9,1504.3 L802.4,1495.7 L802.9,1495.7 L804.3,1498.6 L804.7,1498.6 L805.3,1510.0 L805.7,1510.0 L806.1,1510.0 L806.7,1452.9 L807.1,1452.9 L807.6,1452.9 L808.1,1434.3 L808.6,1434.3 L809.0,1434.3 L809.6,1452.9 L810.0,1452.9 L810.4,1452.9 L811.0,1481.4 L811.4,1481.4 L811.9,1481.4 L812.4,1495.7 L812.9,1495.7 L814.3,1501.4 L814.7,1501.4 L815.3,1510.0 L815.7,1510.0 L816.1,1510.0 L816.7,1521.4 L817.1,1521.4 L817.6,1521.4 L818.1,1504.3 L818.6,1504.3 L819.0,1504.3 L819.6,1490.0 L820.0,1490.0 L820.4,1490.0 L821.0,1450.0 L821.4,1450.0 L821.9,1450.0 L822.4,1481.4 L822.9,1481.4 L823.3,1481.4 L823.9,1495.7 L824.3,1495.7 L824.7,1495.7 L825.3,1504.3 L825.7,1504.3 L826.1,1504.3 L826.7,1495.7 L827.1,1495.7 L827.6,1495.7 L828.1,1481.4 L828.6,1481.4 L829.0,1481.4 L829.6,1510.0 L830.0,1510.0 L830.4,1510.0 L831.0,1532.9 L831.4,1532.9 L831.9,1532.9 L832.4,1521.4 L832.9,1521.4 L833.3,1521.4 L833.9,1467.1 L834.3,1467.1 L834.7,1467.1 L835.3,1424.3 L835.7,1424.3 L837.1,1424.3 L838.0,1424.3 L839.1,1471.4 L840.0,1471.4 L840.0,1471.4 L841.4,1475.7 L842.9,1481.4 L843.3,1481.4 L843.9,1498.6 L844.3,1498.6 L845.7,1495.7 L846.1,1495.7 L846.7,1481.4 L847.1,1481.4 L847.6,1481.4 L848.1,1467.1 L848.6,1467.1 L848.9,1467.1 L849.4,1451.4 L849.7,1451.4 L850.1,1451.4 L850.5,1467.1 L850.9,1467.1 L852.0,1470.0 L853.1,1472.9 L853.5,1472.9 L853.9,1481.4 L854.3,1481.4 L854.7,1481.4 L855.3,1495.7 L855.7,1495.7 L856.0,1495.7 L856.3,1504.3 L856.6,1504.3 L856.9,1504.3 L857.4,1481.4 L857.7,1481.4 L858.9,1475.7 L859.2,1475.7 L859.7,1467.1 L860.0,1467.1 L860.3,1467.1 L860.8,1430.0 L861.1,1430.0 L861.5,1430.0 L861.9,1391.4 L862.3,1391.4 L862.6,1391.4 L863.1,1418.6 L863.4,1418.6 L863.8,1418.6 L864.2,1404.3 L864.6,1404.3 L865.7,1401.4 L866.1,1401.4 L866.5,1424.3 L866.9,1424.3 L867.2,1424.3 L867.7,1452.9 L868.0,1452.9 L868.3,1452.9 L868.8,1490.0 L869.1,1490.0 L870.3,1490.0 L870.6,1490.0 L871.1,1467.1 L871.4,1467.1 L872.9,1467.1 L873.3,1467.1 L873.9,1452.9 L874.3,1452.9 L874.7,1452.9 L875.3,1410.0 L875.7,1410.0 L876.1,1410.0 L876.7,1388.6 L877.1,1388.6 L877.6,1388.6 L878.1,1395.7 L878.6,1395.7 L879.0,1395.7 L879.6,1415.7 L880.0,1415.7 L880.4,1415.7 L881.0,1424.3 L881.4,1424.3 L881.9,1424.3 L882.4,1438.6 L882.9,1438.6 L883.3,1438.6 L883.9,1490.0 L884.3,1490.0 L884.7,1490.0 L885.3,1452.9 L885.7,1452.9 L886.1,1452.9 L886.7,1438.6 L887.1,1438.6 L887.6,1438.6 L888.1,1418.6 L888.6,1418.6 L889.0,1418.6 L889.6,1405.7 L890.0,1405.7 L891.4,1410.0 L891.9,1410.0 L892.4,1447.1 L892.9,1447.1 L893.3,1447.1 L893.9,1438.6 L894.3,1438.6 L895.7,1432.9 L896.1,1432.9 L896.7,1447.1 L897.1,1447.1 L898.6,1452.9 L899.0,1452.9 L899.6,1432.9 L900.0,1432.9 L900.4,1432.9 L901.0,1418.6 L901.4,1418.6 L902.9,1412.9 L904.3,1410.0 L904.7,1410.0 L905.3,1395.7 L905.7,1395.7 L906.0,1395.7 L906.3,1344.3 L906.6,1344.3 L907.7,1341.4 L908.0,1341.4 L908.3,1358.6 L908.6,1358.6 L909.0,1358.6 L909.6,1367.1 L910.0,1367.1 L910.4,1367.1 L911.0,1381.4 L911.4,1381.4 L911.9,1381.4 L912.4,1410.0 L912.9,1410.0 L913.3,1410.0 L913.9,1441.4 L914.3,1441.4 L914.7,1441.4 L915.3,1424.3 L915.7,1424.3 L916.1,1424.3 L916.7,1384.3 L917.1,1384.3 L917.6,1384.3 L918.1,1412.9 L918.6,1412.9 L919.0,1412.9 L919.6,1421.4 L920.0,1421.4 L920.4,1421.4 L921.0,1407.1 L921.4,1407.1 L922.9,1412.9 L923.3,1412.9 L923.9,1404.3 L924.3,1404.3 L924.7,1404.3 L925.3,1412.9 L925.7,1412.9 L926.1,1412.9 L926.7,1438.6 L927.1,1438.6 L927.6,1438.6 L928.1,1410.0 L928.6,1410.0 L929.0,1410.0 L929.6,1387.1 L930.0,1387.1 L930.4,1387.1 L931.0,1404.3 L931.4,1404.3 M934.3,1384.3 L934.7,1384.3 L935.3,1420.0 L935.7,1420.0 M938.6,1467.1 L939.0,1467.1 L939.6,1450.0 L940.0,1450.0 L940.4,1450.0 L941.0,1424.3 L941.4,1424.3 L941.9,1424.3 L942.4,1395.7 L942.9,1395.7 L943.3,1395.7 L943.9,1371.4 L944.3,1371.4 L944.5,1371.4 L944.9,1395.7 L945.1,1395.7 L945.5,1395.7 L945.9,1430.0 L946.3,1430.0 L946.6,1430.0 L947.1,1450.0 L947.4,1450.0 L948.6,1452.9 L950.0,1455.7 L951.4,1458.6 L951.9,1458.6 L952.4,1495.7 L952.9,1495.7 L953.3,1495.7 L953.9,1524.3 L954.3,1524.3 L954.6,1524.3 L955.1,1581.4 L955.4,1581.4 L955.7,1581.4 L956.0,1524.3 L956.3,1524.3 L956.5,1524.3 L956.9,1495.7 L957.1,1495.7 L958.6,1494.3 L959.0,1494.3 L959.6,1504.3 L960.0,1504.3 L960.4,1504.3 L961.0,1515.7 L961.4,1515.7 L961.9,1515.7 L962.4,1552.9 L962.9,1552.9 M965.7,1464.3 L967.1,1458.6 L968.6,1452.9 L969.0,1452.9 L969.6,1524.3 L970.0,1524.3 L970.4,1524.3 L971.0,1487.1 L971.4,1487.1 M975.7,1478.6 L976.1,1478.6 L976.7,1452.9 L977.1,1452.9 L977.6,1452.9 L978.1,1438.6 L978.6,1438.6 L979.0,1438.6 L979.6,1424.3 L980.0,1424.3 L980.4,1424.3 L981.0,1410.0 L981.4,1410.0 L981.9,1410.0 L982.4,1395.7 L982.9,1395.7 L983.3,1395.7 L983.9,1410.0 L984.3,1410.0 L984.7,1410.0 L985.3,1438.6 L985.7,1438.6 L986.1,1438.6 L986.7,1461.4 L987.1,1461.4 L988.6,1467.1 L990.0,1470.0 L991.4,1467.1 L992.9,1472.9 L993.3,1472.9 L993.9,1481.4 L994.3,1481.4 L994.7,1481.4 L995.3,1452.9 L995.7,1452.9 L996.1,1452.9 L996.7,1438.6 L997.1,1438.6 L997.6,1438.6 L998.1,1418.6 L998.6,1418.6" fill="none" stroke="#957332" stroke-width="3.1" stroke-linejoin="miter" stroke-miterlimit="2" stroke-linecap="butt"/>
<path d="M1407.1,347.1 L1408.6,350.0 M1412.0,464.3 L1412.3,464.3 L1412.6,442.9 L1412.9,442.9 L1413.1,442.9 L1413.5,394.3 L1413.7,394.3 L1414.1,394.3 L1414.5,328.6 L1414.9,328.6 L1415.1,328.6 L1415.5,284.3 L1415.7,284.3 M1421.4,462.9 L1421.9,462.9 L1422.4,474.3 L1422.9,474.3 L1423.3,474.3 L1423.9,542.9 L1424.3,542.9 L1424.5,542.9 L1424.9,480.0 L1425.1,480.0 L1425.5,480.0 L1425.9,422.9 L1426.3,422.9 L1426.6,422.9 L1427.1,365.7 L1427.4,365.7 L1427.8,365.7 L1428.2,351.4 L1428.6,351.4 L1428.8,351.4 L1429.2,314.3 L1429.4,314.3 L1430.9,317.1 L1431.2,317.1 L1431.7,351.4 L1432.0,351.4 L1432.3,351.4 L1432.8,380.0 L1433.1,380.0 L1433.5,380.0 L1433.9,400.0 L1434.3,400.0 L1434.7,400.0 L1435.3,371.4 L1435.7,371.4 L1437.1,368.6 L1438.6,367.1 L1439.0,367.1 L1439.6,380.0 L1440.0,380.0 L1440.3,380.0 L1440.8,417.1 L1441.1,417.1 L1441.5,417.1 L1441.9,374.3 L1442.3,374.3 L1443.4,377.1 L1443.8,377.1 L1444.2,394.3 L1444.6,394.3 L1444.9,394.3 L1445.4,402.9 L1445.7,402.9 L1447.1,408.6 L1447.6,408.6 L1448.1,422.9 L1448.6,422.9 L1449.0,422.9 L1449.6,394.3 L1450.0,394.3 L1450.4,394.3 L1451.0,462.9 L1451.4,462.9 L1451.9,462.9 L1452.4,422.9 L1452.9,422.9 L1453.3,422.9 L1453.9,408.6 L1454.3,408.6 L1454.7,408.6 L1455.3,394.3 L1455.7,394.3 L1456.1,394.3 L1456.7,365.7 L1457.1,365.7 L1457.6,365.7 L1458.1,337.1 L1458.6,337.1 L1459.0,337.1 L1459.6,322.9 L1460.0,322.9 L1461.4,325.7 M1467.1,320.0 L1468.6,325.7 L1469.0,325.7 L1469.6,351.4 L1470.0,351.4 L1470.4,351.4 L1471.0,365.7 L1471.4,365.7 L1471.9,365.7 L1472.4,448.6 L1472.9,448.6 L1473.1,448.6 L1473.5,368.6 L1473.7,368.6 L1474.9,371.4 L1475.2,371.4 L1475.7,380.0 L1476.0,380.0 L1476.3,380.0 L1476.8,431.4 L1477.1,431.4 L1477.5,431.4 L1477.9,408.6 L1478.3,408.6 L1478.6,408.6 L1479.1,394.3 L1479.4,394.3 L1479.8,394.3 L1480.2,402.9 L1480.6,402.9 M1485.7,411.4 L1487.1,414.3 L1487.6,414.3 L1488.1,440.0 L1488.6,440.0 L1488.9,440.0 L1489.4,480.0 L1489.7,480.0 M1492.9,400.0 L1493.7,394.3 L1494.9,388.6 L1495.2,388.6 L1495.7,405.7 L1496.0,405.7 M1500.0,380.0 L1500.4,380.0 L1501.0,322.9 L1501.4,322.9 L1501.9,322.9 L1502.4,258.6 L1502.9,258.6 L1503.2,258.6 L1503.7,485.7 L1504.0,485.7 L1504.3,485.7 L1504.8,428.6 L1505.1,428.6 L1505.5,428.6 L1505.9,380.0 L1506.3,380.0 L1506.6,380.0 L1507.1,351.4 L1507.4,351.4 L1508.6,345.7 L1509.0,345.7 L1509.6,315.7 L1510.0,315.7 L1510.3,315.7 L1510.6,365.7 L1510.9,365.7 M1515.7,377.1 L1516.1,377.1 L1516.7,408.6 L1517.1,408.6 L1517.6,408.6 L1518.1,514.3 L1518.6,514.3 L1518.8,514.3 L1519.2,394.3 L1519.4,394.3 L1519.8,394.3 L1520.2,365.7 L1520.6,365.7 L1521.7,360.0 L1522.9,365.7 L1523.2,365.7 L1523.7,277.1 L1524.0,277.1 L1525.1,280.0 L1525.5,280.0 L1525.9,291.4 L1526.3,291.4 L1528.0,288.6 L1528.5,288.6 L1529.2,357.1 L1529.7,357.1 L1530.1,357.1 L1530.5,337.1 L1530.9,337.1 L1532.0,331.4 L1532.3,331.4 L1532.8,322.9 L1533.1,322.9 L1533.5,322.9 L1533.9,371.4 L1534.3,371.4 L1534.7,371.4 L1535.3,285.7 L1535.7,285.7 L1536.1,285.7 L1536.7,354.3 L1537.1,354.3 L1537.6,354.3 L1538.1,365.7 L1538.6,365.7 L1539.0,365.7 L1539.6,388.6 L1540.0,388.6 L1540.4,388.6 L1541.0,297.1 L1541.4,297.1 L1542.9,291.4 L1543.2,291.4 L1543.7,308.6 L1544.0,308.6 L1544.3,308.6 L1544.8,454.3 L1545.1,454.3 L1545.5,454.3 L1545.9,365.7 L1546.3,365.7 L1547.4,360.0 L1548.6,357.1 L1549.0,357.1 L1549.6,348.6 L1550.0,348.6 L1550.4,348.6 L1551.0,328.6 L1551.4,328.6 L1551.8,328.6 L1552.2,280.0 L1552.6,280.0 L1553.7,285.7 L1554.1,285.7 L1554.5,231.4 L1554.9,231.4 L1555.2,231.4 L1555.7,251.4 L1556.0,251.4 L1556.3,251.4 L1556.8,365.7 L1557.1,365.7 L1557.6,365.7 L1558.1,394.3 L1558.6,394.3 L1559.0,394.3 L1559.6,422.9 L1560.0,422.9 L1560.4,422.9 L1561.0,437.1 L1561.4,437.1 L1561.7,437.1 L1562.0,491.4 L1562.3,491.4 M1573.7,368.6 L1574.1,368.6 L1574.5,337.1 L1574.9,337.1 L1575.2,337.1 L1575.7,288.6 L1576.0,288.6 L1576.3,288.6 L1576.8,280.0 L1577.1,280.0 L1577.6,280.0 L1578.1,222.9 L1578.6,222.9 L1579.0,222.9 L1579.6,194.3 L1580.0,194.3 L1580.0,194.3 L1580.5,194.3 L1581.2,174.3 L1581.7,174.3 L1582.0,174.3 L1582.3,157.1 L1582.6,157.1 L1582.8,157.1 L1583.2,180.0 L1583.4,180.0 L1583.7,180.0 L1584.0,222.9 L1584.3,222.9 L1585.1,225.7 M1588.0,411.4 L1588.3,411.4 L1588.8,422.9 L1589.1,422.9 L1589.5,422.9 L1589.9,394.3 L1590.3,394.3 L1590.6,394.3 L1591.1,314.3 L1591.4,314.3 L1591.7,314.3 L1592.0,200.0 L1592.3,200.0 L1592.5,200.0 L1592.9,141.4 L1593.1,141.4 L1593.4,141.4 L1593.7,222.9 L1594.0,222.9 L1594.3,222.9 L1594.6,308.6 L1594.9,308.6 L1595.1,308.6 L1595.5,331.4 L1595.7,331.4 L1596.0,331.4 L1596.3,342.9 L1596.6,342.9 L1597.7,337.1 L1598.1,337.1 L1598.5,365.7 L1598.9,365.7 L1599.2,365.7 L1599.7,391.4 L1600.0,391.4 L1600.3,391.4 L1600.6,328.6 L1600.9,328.6 L1601.2,328.6 L1601.7,337.1 L1602.0,337.1 L1602.3,337.1 L1602.6,354.3 L1602.9,354.3 L1604.0,351.4 L1604.3,351.4 L1604.8,365.7 L1605.1,365.7 L1605.5,365.7 L1605.9,405.7 L1606.3,405.7 L1606.6,405.7 L1607.1,365.7 L1607.4,365.7 L1607.8,365.7 L1608.2,347.1 L1608.6,347.1 L1608.8,347.1 L1609.2,380.0 L1609.4,380.0 L1609.8,380.0 L1610.2,394.3 L1610.6,394.3 L1612.0,400.0 L1612.3,400.0 L1612.6,428.6 L1612.9,428.6 L1613.1,428.6 L1613.5,394.3 L1613.7,394.3 L1614.1,394.3 L1614.5,365.7 L1614.9,365.7 L1615.2,365.7 L1615.7,342.9 L1616.0,342.9 L1616.3,342.9 L1616.8,308.6 L1617.1,308.6 L1617.4,308.6 L1617.7,251.4 L1618.0,251.4 L1618.3,251.4 L1618.8,208.6 L1619.1,208.6 L1619.4,208.6 L1619.7,180.0 L1620.0,180.0 L1620.3,180.0 L1620.6,194.3 L1620.9,194.3 L1621.1,194.3 L1621.5,222.9 L1621.7,222.9 L1622.1,222.9 L1622.5,251.4 L1622.9,251.4 L1623.3,251.4 L1623.9,280.0 L1624.3,280.0 L1624.7,280.0 L1625.3,314.3 L1625.7,314.3 M1632.3,340.0 L1632.5,340.0 L1632.9,302.9 L1633.1,302.9 L1633.5,302.9 L1633.9,274.3 L1634.3,274.3 M1645.1,402.9 L1645.5,402.9 L1645.9,365.7 L1646.3,365.7 L1646.6,365.7 L1647.1,308.6 L1647.4,308.6 L1647.8,308.6 L1648.2,240.0 L1648.6,240.0 L1648.8,240.0 L1649.2,204.3 L1649.4,204.3 L1649.7,204.3 L1650.0,280.0 L1650.3,280.0 L1650.6,280.0 L1651.1,308.6 L1651.4,308.6 L1652.9,308.6 L1653.3,308.6 L1653.9,337.1 L1654.3,337.1 L1654.5,337.1 L1654.9,365.7 L1655.1,365.7 L1655.5,365.7 L1655.9,434.3 L1656.3,434.3 L1656.5,434.3 L1656.9,365.7 L1657.1,365.7 L1657.5,365.7 L1657.9,345.7 L1658.3,345.7 L1658.6,345.7 L1659.1,337.1 L1659.4,337.1 L1659.8,337.1 L1660.2,314.3 L1660.6,314.3 L1660.9,314.3 L1661.4,251.4 L1661.7,251.4 L1662.1,251.4 L1662.5,194.3 L1662.9,194.3 L1663.3,194.3 L1663.9,151.4 L1664.3,151.4 L1664.5,151.4 L1664.9,208.6 L1665.1,208.6 L1665.5,208.6 L1665.9,265.7 L1666.3,265.7 L1666.6,265.7 L1667.1,294.3 L1667.4,294.3 L1667.8,294.3 L1668.2,260.0 L1668.6,260.0 M1671.4,314.3 L1671.9,314.3 L1672.4,345.7 L1672.9,345.7 L1673.3,345.7 L1673.9,280.0 L1674.3,280.0 L1674.7,280.0 L1675.3,222.9 L1675.7,222.9 L1676.1,222.9 L1676.7,165.7 L1677.1,165.7 L1677.6,165.7 L1678.1,128.6 L1678.6,128.6 M1681.4,325.7 L1682.9,328.6 L1683.3,328.6 L1683.9,308.6 L1684.3,308.6 L1684.7,308.6 L1685.3,268.6 L1685.7,268.6 L1686.1,268.6 L1686.7,325.7 L1687.1,325.7 L1687.6,325.7 L1688.1,394.3 L1688.6,394.3 L1689.0,394.3 L1689.6,302.9 L1690.0,302.9 L1690.4,302.9 L1691.0,394.3 L1691.4,394.3 L1691.9,394.3 L1692.4,337.1 L1692.9,337.1 L1693.3,337.1 L1693.9,308.6 L1694.3,308.6 L1694.7,308.6 L1695.3,365.7 L1695.7,365.7 L1696.1,365.7 L1696.7,417.1 L1697.1,417.1 L1697.6,417.1 L1698.1,337.1 L1698.6,337.1 L1699.0,337.1 L1699.6,365.7 L1700.0,365.7 L1700.4,365.7 L1701.0,308.6 L1701.4,308.6 L1701.9,308.6 L1702.4,365.7 L1702.9,365.7 L1703.3,365.7 L1703.9,411.4 L1704.3,411.4 L1704.7,411.4 L1705.3,337.1 L1705.7,337.1 L1706.1,337.1 L1706.7,305.7 L1707.1,305.7 M1715.7,337.1 L1716.1,337.1 L1716.7,322.9 L1717.1,322.9 L1717.6,322.9 L1718.1,308.6 L1718.6,308.6 L1719.0,308.6 L1719.6,222.9 L1720.0,222.9 L1720.3,222.9 L1720.8,175.7 L1721.1,175.7 L1721.4,175.7 L1721.7,308.6 L1722.0,308.6 L1722.3,308.6 L1722.6,380.0 L1722.9,380.0 L1723.3,380.0 L1723.9,365.7 L1724.3,365.7 L1724.7,365.7 L1725.3,351.4 L1725.7,351.4 L1726.1,351.4 L1726.7,342.9 L1727.1,342.9 M1732.9,288.6 L1733.3,288.6 L1733.9,302.9 L1734.3,302.9 L1734.7,302.9 L1735.3,337.1 L1735.7,337.1 L1736.0,337.1 L1736.3,348.6 L1736.6,348.6 L1736.9,348.6 L1737.4,322.9 L1737.7,322.9 L1738.1,322.9 L1738.5,308.6 L1738.9,308.6 L1739.2,308.6 L1739.7,280.0 L1740.0,280.0 L1740.4,280.0 L1741.0,257.1 L1741.4,257.1 L1742.9,251.4 L1743.3,251.4 L1743.9,214.3 L1744.3,214.3 L1745.7,214.3 L1746.1,214.3 L1746.7,280.0 L1747.1,280.0 L1747.6,280.0 L1748.1,394.3 L1748.6,394.3 L1749.0,394.3 L1749.6,415.7 L1750.0,415.7 L1750.4,415.7 L1751.0,394.3 L1751.4,394.3 L1751.9,394.3 L1752.4,365.7 L1752.9,365.7 L1753.3,365.7 L1753.9,194.3 L1754.3,194.3 L1754.6,194.3 L1755.1,165.7 L1755.4,165.7 L1755.8,165.7 L1756.2,180.0 L1756.6,180.0 L1756.9,180.0 L1757.4,171.4 L1757.7,171.4 L1758.1,171.4 L1758.5,194.3 L1758.9,194.3 L1759.2,194.3 L1759.7,308.6 L1760.0,308.6 L1760.4,308.6 L1761.0,337.1 L1761.4,337.1 L1761.9,337.1 L1762.4,365.7 L1762.9,365.7 L1763.3,365.7 L1763.9,351.4 L1764.3,351.4 L1764.7,351.4 L1765.3,405.7 L1765.7,405.7 L1766.1,405.7 L1766.7,351.4 L1767.1,351.4 L1767.6,351.4 L1768.1,251.4 L1768.6,251.4 L1769.0,251.4 L1769.6,208.6 L1770.0,208.6 L1770.4,208.6 L1771.0,151.4 L1771.4,151.4 L1771.8,151.4 L1772.2,114.3 L1772.6,114.3 L1772.9,114.3 L1773.4,165.7 L1773.7,165.7 L1774.1,165.7 L1774.5,222.9 L1774.9,222.9 L1775.2,222.9 L1775.7,308.6 L1776.0,308.6 L1776.3,308.6 L1776.8,365.7 L1777.1,365.7 L1778.6,365.7 L1779.0,365.7 L1779.6,374.3 L1780.0,374.3 L1780.0,374.3 L1780.3,374.3 L1780.8,308.6 L1781.1,308.6 L1781.5,308.6 L1781.9,237.1 L1782.3,237.1 L1782.6,237.1 L1783.1,200.0 L1783.4,200.0 L1783.7,200.0 L1784.0,185.7 L1784.3,185.7 L1784.5,185.7 L1784.9,251.4 L1785.1,251.4 L1785.5,251.4 L1785.9,274.3 L1786.3,274.3 L1787.4,280.0 L1787.8,280.0 L1788.2,297.1 L1788.6,297.1 L1789.0,297.1 L1789.6,308.6 L1790.0,308.6 L1790.4,308.6 L1791.0,337.1 L1791.4,337.1 L1791.9,337.1 L1792.4,351.4 L1792.9,351.4 L1794.3,345.7 M1807.1,328.6 L1808.6,331.4 L1810.0,331.4 L1810.4,331.4 L1811.0,308.6 L1811.4,308.6 L1811.9,308.6 L1812.4,205.7 L1812.9,205.7 L1813.7,208.6 L1814.1,208.6 L1814.5,225.7 L1814.9,225.7 M1818.6,334.3 L1820.0,331.4 L1820.4,331.4 L1821.0,288.6 L1821.4,288.6 L1821.9,288.6 L1822.4,331.4 L1822.9,331.4 L1824.3,331.4 L1824.7,331.4 L1825.3,251.4 L1825.7,251.4 L1826.1,251.4 L1826.7,194.3 L1827.1,194.3 L1827.6,194.3 L1828.1,182.9 L1828.6,182.9 L1829.0,182.9 L1829.6,208.6 L1830.0,208.6 L1830.4,208.6 L1831.0,308.6 L1831.4,308.6 L1831.9,308.6 L1832.4,365.7 L1832.9,365.7 L1833.1,365.7 L1833.5,387.1 L1833.7,387.1 L1834.1,387.1 L1834.5,337.1 L1834.9,337.1 L1835.2,337.1 L1835.7,280.0 L1836.0,280.0 L1836.3,280.0 L1836.8,251.4 L1837.1,251.4 L1837.6,251.4 L1838.1,265.7 L1838.6,265.7 L1838.8,265.7 L1839.2,194.3 L1839.4,194.3 L1839.8,194.3 L1840.2,137.1 L1840.6,137.1 L1840.8,137.1 L1841.2,91.4 L1841.4,91.4 L1841.7,91.4 L1842.0,137.1 L1842.3,137.1 L1842.6,137.1 L1843.1,222.9 L1843.4,222.9 L1843.8,222.9 L1844.2,280.0 L1844.6,280.0 L1844.9,280.0 L1845.4,308.6 L1845.7,308.6 L1846.1,308.6 L1846.7,342.9 L1847.1,342.9 L1847.6,342.9 L1848.1,240.0 L1848.6,240.0 L1849.0,240.0 L1849.6,280.0 L1850.0,280.0 L1850.4,280.0 L1851.0,337.1 L1851.4,337.1 L1851.9,337.1 L1852.4,365.7 L1852.9,365.7 L1853.1,365.7 L1853.5,308.6 L1853.7,308.6 L1854.1,308.6 L1854.5,165.7 L1854.9,165.7 L1855.2,165.7 L1855.7,97.1 L1856.0,97.1 L1856.3,97.1 L1856.8,194.3 L1857.1,194.3 L1857.6,194.3 L1858.1,280.0 L1858.6,280.0 L1859.0,280.0 L1859.6,308.6 L1860.0,308.6 L1860.4,308.6 L1861.0,337.1 L1861.4,337.1 L1862.9,342.9 L1863.3,342.9 L1863.9,322.9 L1864.3,322.9 L1864.7,322.9 L1865.3,308.6 L1865.7,308.6 L1867.1,314.3 L1867.6,314.3 L1868.1,257.1 L1868.6,257.1 L1869.0,257.1 L1869.6,225.7 L1870.0,225.7 L1870.4,225.7 L1871.0,240.0 L1871.4,240.0 L1871.9,240.0 L1872.4,337.1 L1872.9,337.1 L1873.3,337.1 L1873.9,368.6 L1874.3,368.6 L1874.7,368.6 L1875.3,337.1 L1875.7,337.1 L1876.1,337.1 L1876.7,308.6 L1877.1,308.6 L1877.6,308.6 L1878.1,354.3 L1878.6,354.3 L1879.0,354.3 L1879.6,280.0 L1880.0,280.0 L1880.4,280.0 L1881.0,194.3 L1881.4,194.3 L1882.9,197.1 L1883.3,197.1 L1883.9,251.4 L1884.3,251.4 L1884.7,251.4 L1885.3,280.0 L1885.7,280.0 L1886.1,280.0 L1886.7,357.1 L1887.1,357.1 L1887.4,357.1 L1887.7,308.6 L1888.0,308.6 L1888.3,308.6 L1888.8,222.9 L1889.1,222.9 L1889.5,222.9 L1889.9,285.7 L1890.3,285.7 L1890.6,285.7 L1891.1,245.7 L1891.4,245.7 L1891.9,245.7 L1892.4,285.7 L1892.9,285.7 L1893.1,285.7 L1893.5,202.9 L1893.7,202.9 L1894.1,202.9 L1894.5,251.4 L1894.9,251.4 L1895.2,251.4 L1895.7,317.1 L1896.0,317.1 L1896.3,317.1 L1896.8,285.7 L1897.1,285.7 M1901.4,320.0 L1902.9,317.1 L1903.3,317.1 L1903.9,308.6 L1904.3,308.6 L1904.7,308.6 L1905.3,280.0 L1905.7,280.0 L1906.1,280.0 L1906.7,222.9 L1907.1,222.9 L1907.6,222.9 L1908.1,208.6 L1908.6,208.6 L1909.0,208.6 L1909.6,200.0 L1910.0,200.0 L1910.4,200.0 L1911.0,345.7 L1911.4,345.7 L1911.9,345.7 L1912.4,308.6 L1912.9,308.6 L1914.3,314.3 L1914.7,314.3 L1915.3,280.0 L1915.7,280.0 L1916.1,280.0 L1916.7,251.4 L1917.1,251.4 L1917.6,251.4 L1918.1,208.6 L1918.6,208.6 L1919.0,208.6 L1919.6,222.9 L1920.0,222.9 L1921.4,217.1 L1921.9,217.1 L1922.4,228.6 L1922.9,228.6 L1923.3,228.6 L1923.9,337.1 L1924.3,337.1 L1924.7,337.1 L1925.3,392.9 L1925.7,392.9 L1926.1,392.9 L1926.7,322.9 L1927.1,322.9 L1928.6,320.0 L1929.0,320.0 L1929.6,251.4 L1930.0,251.4 L1930.4,251.4 L1931.0,194.3 L1931.4,194.3 L1931.9,194.3 L1932.4,158.6 L1932.9,158.6 L1933.3,158.6 L1933.9,194.3 L1934.3,194.3 L1934.7,194.3 L1935.3,251.4 L1935.7,251.4 L1936.1,251.4 L1936.7,308.6 L1937.1,308.6 L1937.6,308.6 L1938.1,257.1 L1938.6,257.1 L1939.0,257.1 L1939.6,280.0 L1940.0,280.0 L1940.4,280.0 L1941.0,308.6 L1941.4,308.6 L1942.9,314.3 L1943.3,314.3 L1943.9,322.9 L1944.3,322.9 L1944.7,322.9 L1945.3,342.9 L1945.7,342.9 M1951.4,180.0 L1951.9,180.0 L1952.4,251.4 L1952.9,251.4 L1953.3,251.4 L1953.9,280.0 L1954.3,280.0 L1954.7,280.0 L1955.3,294.3 L1955.7,294.3 L1956.1,294.3 L1956.7,305.7 L1957.1,305.7 L1958.6,308.6 L1959.0,308.6 L1959.6,280.0 L1960.0,280.0 L1960.4,280.0 L1961.0,234.3 L1961.4,234.3 L1961.9,234.3 L1962.4,155.7 L1962.9,155.7 L1963.3,155.7 L1963.9,251.4 L1964.3,251.4 L1964.7,251.4 L1965.3,297.1 L1965.7,297.1 L1967.1,291.4 L1967.6,291.4 L1968.1,280.0 L1968.6,280.0 L1969.0,280.0 L1969.6,337.1 L1970.0,337.1 L1970.4,337.1 L1971.0,360.0 L1971.4,360.0 L1972.9,354.3 L1973.3,354.3 L1973.9,331.4 L1974.3,331.4 L1974.7,331.4 L1975.3,308.6 L1975.7,308.6 L1976.1,308.6 L1976.7,360.0 L1977.1,360.0 L1977.6,360.0 L1978.1,251.4 L1978.6,251.4 L1980.0,251.4 L1980.0,251.4 L1980.3,251.4 L1980.8,325.7 L1981.1,325.7 L1981.5,325.7 L1981.9,294.3 L1982.3,294.3 L1982.6,294.3 L1983.1,277.1 L1983.4,277.1 L1983.8,277.1 L1984.2,308.6 L1984.6,308.6 L1984.9,308.6 L1985.4,365.7 L1985.7,365.7 L1986.1,365.7 L1986.5,351.4 L1986.9,351.4 L1987.2,351.4 L1987.7,308.6 L1988.0,308.6 L1988.3,308.6 L1988.8,337.1 L1989.1,337.1 L1989.5,337.1 L1989.9,251.4 L1990.3,251.4 L1990.6,251.4 L1991.1,140.0 L1991.4,140.0 L1991.8,140.0 L1992.2,240.0 L1992.6,240.0 L1992.9,240.0 L1993.4,308.6 L1993.7,308.6 L1994.1,308.6 L1994.5,420.0 L1994.9,420.0 L1995.2,420.0 L1995.7,365.7 L1996.0,365.7 L1996.3,365.7 L1996.8,337.1 L1997.1,337.1 L1997.5,337.1 L1997.9,280.0 L1998.3,280.0 L1998.6,280.0 L1999.1,294.3 L1999.4,294.3 L1999.8,294.3 L2000.2,337.1 L2000.6,337.1 L2000.9,337.1 L2001.4,394.3 L2001.7,394.3 L2002.1,394.3 L2002.5,431.4 L2002.9,431.4 L2003.2,431.4 L2003.7,422.9 L2004.0,422.9 L2004.3,422.9 L2004.8,394.3 L2005.1,394.3 L2005.5,394.3 L2005.9,365.7 L2006.3,365.7 L2006.6,365.7 L2007.1,350.0 L2007.4,350.0 L2007.8,350.0 L2008.2,380.0 L2008.6,380.0 L2009.0,380.0 L2009.6,437.1 L2010.0,437.1 L2010.3,437.1 L2010.6,408.6 L2010.9,408.6 M2014.3,337.1 L2014.7,337.1 L2015.3,371.4 L2015.7,371.4 L2016.0,371.4 L2016.3,265.7 L2016.6,265.7 L2016.9,265.7 L2017.4,224.3 L2017.7,224.3 L2018.1,224.3 L2018.5,251.4 L2018.9,251.4 L2019.2,251.4 L2019.7,242.9 L2020.0,242.9 L2020.3,242.9 L2020.8,308.6 L2021.1,308.6 L2021.5,308.6 L2021.9,420.0 L2022.3,420.0 L2022.9,480.0 L2023.2,480.0 L2023.7,422.9 L2024.0,422.9 L2024.3,422.9 L2024.8,465.7 L2025.1,465.7 L2025.5,465.7 L2025.9,474.3 L2026.3,474.3 L2026.6,474.3 L2027.1,394.3 L2027.4,394.3 L2027.8,394.3 L2028.2,365.7 L2028.6,365.7 L2028.9,365.7 L2029.4,322.9 L2029.7,322.9 L2030.1,322.9 L2030.5,280.0 L2030.9,280.0 L2031.2,280.0 L2031.7,148.6 L2032.0,148.6 L2032.3,148.6 L2032.8,194.3 L2033.1,194.3 L2033.5,194.3 L2033.9,237.1 L2034.3,237.1 L2034.7,237.1 L2035.3,280.0 L2035.7,280.0 L2036.1,280.0 L2036.7,328.6 L2037.1,328.6 M2045.7,371.4 L2046.1,371.4 L2046.7,351.4 L2047.1,351.4 L2047.6,351.4 L2048.1,340.0 L2048.6,340.0 L2049.0,340.0 L2049.6,365.7 L2050.0,365.7 L2050.4,365.7 L2051.0,422.9 L2051.4,422.9 L2051.9,422.9 L2052.4,480.0 L2052.9,480.0 L2053.1,480.0 L2053.5,488.6 L2053.7,488.6 L2054.1,488.6 L2054.5,365.7 L2054.9,365.7 L2055.2,365.7 L2055.7,322.9 L2056.0,322.9 L2057.1,317.1 L2057.5,317.1 L2057.9,408.6 L2058.3,408.6 L2058.6,408.6 L2059.1,308.6 L2059.4,308.6 L2059.8,308.6 L2060.2,137.1 L2060.6,137.1 L2060.9,137.1 L2061.4,194.3 L2061.7,194.3 L2062.9,200.0 L2063.2,200.0 L2063.7,237.1 L2064.0,237.1 L2064.3,237.1 L2064.8,308.6 L2065.1,308.6 L2065.5,308.6 L2065.9,365.7 L2066.3,365.7 L2066.6,365.7 L2067.1,422.9 L2067.4,422.9 L2067.8,422.9 L2068.2,462.9 L2068.6,462.9 M2071.4,420.0 L2071.9,420.0 L2072.4,365.7 L2072.9,365.7 L2073.3,365.7 L2073.9,342.9 L2074.3,342.9 L2075.7,341.4 M2085.1,187.1 L2085.5,187.1 L2085.9,208.6 L2086.3,208.6 L2086.6,208.6 L2087.1,251.4 L2087.4,251.4 L2087.8,251.4 L2088.2,308.6 L2088.6,308.6 L2088.8,308.6 L2089.2,365.7 L2089.4,365.7 L2089.7,365.7 L2090.0,494.3 L2090.3,494.3 L2090.6,494.3 L2091.1,380.0 L2091.4,380.0 L2091.8,380.0 L2092.2,394.3 L2092.6,394.3 L2092.9,394.3 L2093.4,422.9 L2093.7,422.9 L2094.1,422.9 L2094.5,434.3 L2094.9,434.3 M2102.3,345.7 L2102.6,345.7 L2103.1,394.3 L2103.4,394.3 L2103.8,394.3 L2104.2,445.7 L2104.6,445.7 L2104.9,445.7 L2105.4,365.7 L2105.7,365.7 L2106.1,365.7 L2106.5,357.1 L2106.9,357.1" fill="none" stroke="#f3a823" stroke-width="3.15" stroke-linejoin="miter" stroke-miterlimit="2" stroke-linecap="butt"/>
<path d="M1412.9,814.3 L1414.3,820.0 L1415.7,825.7 M1418.0,905.7 L1418.6,871.4 L1419.1,837.1 L1420.0,842.9 L1420.3,842.9 L1420.6,868.6 L1420.9,868.6 L1421.7,865.7 M1428.0,934.3 L1428.3,934.3 L1428.8,971.4 L1429.1,971.4 L1429.5,971.4 L1429.9,942.9 L1430.3,942.9 L1430.6,942.9 L1431.1,900.0 L1431.4,900.0 L1431.8,900.0 L1432.2,874.3 L1432.6,874.3 L1433.7,880.0 L1434.9,885.7 L1436.0,880.0 L1436.3,880.0 L1436.8,848.6 L1437.1,848.6 L1438.3,845.7 L1438.6,845.7 L1439.1,882.9 L1439.4,882.9 L1439.8,882.9 L1440.2,900.0 L1440.6,900.0 L1440.9,900.0 L1441.4,882.9 L1441.7,882.9 L1442.9,885.7 L1444.3,882.9 L1445.7,881.4 L1447.1,877.1 L1447.6,877.1 L1448.1,851.4 L1448.6,851.4 L1449.0,851.4 L1449.6,825.7 L1450.0,825.7 L1451.4,828.6 L1451.9,828.6 L1452.4,845.7 L1452.9,845.7 L1453.3,845.7 L1453.9,822.9 L1454.3,822.9 L1454.7,822.9 L1455.3,885.7 L1455.7,885.7 L1456.1,885.7 L1456.7,894.3 L1457.1,894.3 L1457.6,894.3 L1458.1,885.7 L1458.6,885.7 L1459.0,885.7 L1459.6,897.1 L1460.0,897.1 L1460.4,897.1 L1461.0,885.7 L1461.4,885.7 L1461.9,885.7 L1462.4,845.7 L1462.9,845.7 L1463.3,845.7 L1463.9,817.1 L1464.3,817.1 L1465.7,817.1 L1466.0,817.1 L1466.3,905.7 L1466.6,905.7 M1472.0,824.3 L1473.7,825.7 L1474.1,825.7 L1474.5,834.3 L1474.9,834.3 L1475.2,834.3 L1475.7,857.1 L1476.0,857.1 L1476.3,857.1 L1476.8,877.1 L1477.1,877.1 L1477.6,877.1 L1478.1,851.4 L1478.6,851.4 L1479.0,851.4 L1479.6,834.3 L1480.0,834.3 L1481.4,840.0 L1482.9,845.7 L1484.3,851.4 L1485.7,854.3 M1489.1,834.3 L1490.9,828.6 L1491.2,828.6 L1491.7,817.1 L1492.0,817.1 L1492.3,817.1 L1492.8,891.4 L1493.1,891.4 L1493.5,891.4 L1493.9,851.4 L1494.3,851.4 L1494.7,851.4 L1495.3,834.3 L1495.7,834.3 L1496.1,834.3 L1496.7,877.1 L1497.1,877.1 L1497.6,877.1 L1498.1,825.7 L1498.6,825.7 L1499.0,825.7 L1499.6,837.1 L1500.0,837.1 M1505.7,857.1 L1506.1,857.1 L1506.5,811.4 L1506.9,811.4 L1507.2,811.4 L1507.7,862.9 L1508.0,862.9 L1508.3,862.9 L1508.8,897.1 L1509.1,897.1 L1509.5,897.1 L1509.9,862.9 L1510.3,862.9 L1510.6,862.9 L1511.1,871.4 L1511.4,871.4 L1511.8,871.4 L1512.2,857.1 L1512.6,857.1 L1512.9,857.1 L1513.4,785.7 L1513.7,785.7 L1514.1,785.7 L1514.5,800.0 L1514.9,800.0 M1520.6,942.9 L1520.9,942.9 L1521.4,1000.0 L1521.7,1000.0 L1522.1,1000.0 L1522.5,942.9 L1522.9,942.9 L1523.2,942.9 L1523.7,811.4 L1524.0,811.4 L1524.3,811.4 L1524.8,857.1 L1525.1,857.1 L1525.5,857.1 L1525.9,871.4 L1526.3,871.4 L1526.6,871.4 L1527.1,857.1 L1527.4,857.1 L1527.8,857.1 L1528.2,891.4 L1528.6,891.4 L1528.9,891.4 L1529.4,857.1 L1529.7,857.1 L1530.1,857.1 L1530.5,874.3 L1530.9,874.3 L1531.2,874.3 L1531.7,857.1 L1532.0,857.1 L1533.1,851.4 L1533.5,851.4 L1533.9,928.6 L1534.3,928.6 M1540.0,857.1 L1540.4,857.1 L1541.0,797.1 L1541.4,797.1 L1542.9,800.0 L1543.3,800.0 L1543.9,862.9 L1544.3,862.9 L1544.5,862.9 L1544.9,885.7 L1545.1,885.7 L1545.5,885.7 L1545.9,780.0 L1546.3,780.0 L1547.4,782.9 L1547.8,782.9 L1548.2,857.1 L1548.6,857.1 L1548.9,857.1 L1549.4,937.1 L1549.7,937.1 L1550.1,937.1 L1550.5,857.1 L1550.9,857.1 L1551.2,857.1 L1551.7,800.0 L1552.0,800.0 L1552.3,800.0 L1552.8,774.3 L1553.1,774.3 L1553.5,774.3 L1553.9,765.7 L1554.3,765.7 L1555.7,760.0 L1556.1,760.0 L1556.7,771.4 L1557.1,771.4 L1557.6,771.4 L1558.1,762.9 L1558.6,762.9 L1559.0,762.9 L1559.6,785.7 L1560.0,785.7 L1560.4,785.7 L1561.0,842.9 L1561.4,842.9 L1561.9,842.9 L1562.4,800.0 L1562.9,800.0 L1563.3,800.0 L1563.9,817.1 L1564.3,817.1 L1564.7,817.1 L1565.3,842.9 L1565.7,842.9 L1566.1,842.9 L1566.7,857.1 L1567.1,857.1 M1577.1,805.7 L1577.5,805.7 L1577.9,771.4 L1578.3,771.4 L1578.6,771.4 L1579.1,728.6 L1579.4,728.6 L1580.0,728.6 L1581.7,731.4 L1582.1,731.4 L1582.5,748.6 L1582.9,748.6 L1583.3,748.6 L1583.9,737.1 L1584.3,737.1 L1584.7,737.1 L1585.3,702.9 L1585.7,702.9 L1586.1,702.9 L1586.7,714.3 L1587.1,714.3 L1587.6,714.3 L1588.1,740.0 L1588.6,740.0 M1591.4,880.0 L1591.8,880.0 L1592.2,800.0 L1592.6,800.0 L1592.9,800.0 L1593.4,742.9 L1593.7,742.9 L1594.1,742.9 L1594.5,714.3 L1594.9,714.3 L1595.2,714.3 L1595.7,680.0 L1596.0,680.0 L1596.3,680.0 L1596.8,720.0 L1597.1,720.0 L1597.5,720.0 L1597.9,760.0 L1598.3,760.0 L1599.4,762.9 M1602.9,811.4 L1603.3,811.4 L1603.9,828.6 L1604.3,828.6 L1604.7,828.6 L1605.3,840.0 L1605.7,840.0 L1607.1,842.9 L1607.6,842.9 L1608.1,820.0 L1608.6,820.0 L1609.0,820.0 L1609.6,834.3 L1610.0,834.3 L1610.4,834.3 L1611.0,794.3 L1611.4,794.3 L1612.9,797.1 M1614.9,851.4 L1616.0,857.1 L1616.3,857.1 L1616.8,885.7 L1617.1,885.7 L1617.5,885.7 L1617.9,920.0 L1618.3,920.0 L1618.6,920.0 L1619.1,857.1 L1619.4,857.1 L1619.8,857.1 L1620.2,842.9 L1620.6,842.9 L1620.9,842.9 L1621.4,822.9 L1621.7,822.9 L1622.1,822.9 L1622.5,791.4 L1622.9,791.4 L1623.3,791.4 L1623.9,800.0 L1624.3,800.0 L1624.7,800.0 L1625.3,814.3 L1625.7,814.3 L1626.1,814.3 L1626.7,828.6 L1627.1,828.6 L1627.6,828.6 L1628.1,840.0 L1628.6,840.0 L1630.0,842.9 M1635.7,878.6 L1636.0,878.6 L1636.3,831.4 L1636.6,831.4 L1636.8,831.4 L1637.2,788.6 L1637.4,788.6 M1648.6,871.4 L1648.9,871.4 L1649.4,800.0 L1649.7,800.0 L1650.1,800.0 L1650.5,777.1 L1650.9,777.1 L1652.0,775.7 M1654.9,851.4 L1656.0,857.1 L1656.3,857.1 L1656.8,914.3 L1657.1,914.3 L1657.5,914.3 L1657.9,935.7 L1658.3,935.7 L1658.6,935.7 L1659.1,885.7 L1659.4,885.7 L1659.8,885.7 L1660.2,857.1 L1660.6,857.1 L1660.9,857.1 L1661.4,828.6 L1661.7,828.6 L1662.1,828.6 L1662.5,800.0 L1662.9,800.0 L1663.2,800.0 L1663.7,777.1 L1664.0,777.1 L1664.3,777.1 L1664.8,722.9 L1665.1,722.9 L1665.5,722.9 L1665.9,777.1 L1666.3,777.1 L1666.6,777.1 L1667.1,788.6 L1667.4,788.6 L1668.6,785.7 L1668.9,785.7 L1669.4,765.7 L1669.7,765.7 L1670.9,771.4 L1671.2,771.4 L1671.7,800.0 L1672.0,800.0 L1672.3,800.0 L1672.8,760.0 L1673.1,760.0 L1673.5,760.0 L1673.9,742.9 L1674.3,742.9 L1674.6,742.9 L1675.1,728.6 L1675.4,728.6 L1675.8,728.6 L1676.2,708.6 L1676.6,708.6 L1677.7,702.9 L1678.1,702.9 L1678.5,742.9 L1678.9,742.9 L1679.2,742.9 L1679.7,834.3 L1680.0,834.3 L1680.3,834.3 L1680.8,788.6 L1681.1,788.6 L1681.5,788.6 L1681.9,800.0 L1682.3,800.0 L1682.6,800.0 L1683.1,868.6 L1683.4,868.6 L1683.8,868.6 L1684.2,828.6 L1684.6,828.6 L1684.9,828.6 L1685.4,794.3 L1685.7,794.3 L1686.1,794.3 L1686.5,742.9 L1686.9,742.9 L1687.2,742.9 L1687.7,708.6 L1688.0,708.6 L1688.3,708.6 L1688.8,742.9 L1689.1,742.9 L1689.5,742.9 L1689.9,777.1 L1690.3,777.1 L1690.6,777.1 L1691.1,845.7 L1691.4,845.7 L1691.8,845.7 L1692.2,834.3 L1692.6,834.3 L1692.9,834.3 L1693.4,771.4 L1693.7,771.4 L1694.1,771.4 L1694.5,742.9 L1694.9,742.9 L1695.2,742.9 L1695.7,717.1 L1696.0,717.1 L1697.1,720.0 L1697.5,720.0 L1697.9,737.1 L1698.3,737.1 L1698.6,737.1 L1699.1,754.3 L1699.4,754.3 L1699.8,754.3 L1700.2,720.0 L1700.6,720.0 L1701.7,720.0 L1702.1,720.0 L1702.5,742.9 L1702.9,742.9 L1703.2,742.9 L1703.7,785.7 L1704.0,785.7 L1704.3,785.7 L1704.8,771.4 L1705.1,771.4 L1705.5,771.4 L1705.9,748.6 L1706.3,748.6 L1706.6,748.6 L1707.1,828.6 L1707.4,828.6 L1707.8,828.6 L1708.2,800.0 L1708.6,800.0 L1709.0,800.0 L1709.6,731.4 L1710.0,731.4 M1717.1,705.7 L1718.3,702.9 L1718.6,702.9 L1719.1,714.3 L1719.4,714.3 L1719.8,714.3 L1720.2,702.9 L1720.6,702.9 L1720.9,702.9 L1721.4,685.7 L1721.7,685.7 L1722.1,685.7 L1722.5,674.3 L1722.9,674.3 L1723.2,674.3 L1723.7,694.3 L1724.0,694.3 L1724.3,694.3 L1724.8,725.7 L1725.1,725.7 L1725.5,725.7 L1725.9,711.4 L1726.3,711.4 L1726.6,711.4 L1727.1,702.9 L1727.4,702.9 L1728.6,708.6 M1734.3,680.0 L1735.7,685.7 L1736.1,685.7 L1736.7,708.6 L1737.1,708.6 L1738.6,714.3 L1740.0,708.6 L1740.4,708.6 L1741.0,700.0 L1741.4,700.0 L1741.9,700.0 L1742.4,685.7 L1742.9,685.7 L1743.3,685.7 L1743.9,671.4 L1744.3,671.4 L1745.7,668.6 L1747.1,674.3 L1747.6,674.3 L1748.1,691.4 L1748.6,691.4 L1749.0,691.4 L1749.6,708.6 L1750.0,708.6 L1750.4,708.6 L1751.0,734.3 L1751.4,734.3 L1751.9,734.3 L1752.4,754.3 L1752.9,754.3 L1753.3,754.3 L1753.9,700.0 L1754.3,700.0 L1754.7,700.0 L1755.3,671.4 L1755.7,671.4 L1756.1,671.4 L1756.7,637.1 L1757.1,637.1 L1757.6,637.1 L1758.1,657.1 L1758.6,657.1 L1760.0,651.4 L1761.4,654.3 L1761.9,654.3 L1762.4,677.1 L1762.9,677.1 L1763.3,677.1 L1763.9,700.0 L1764.3,700.0 L1764.7,700.0 L1765.3,737.1 L1765.7,737.1 L1766.1,737.1 L1766.7,708.6 L1767.1,708.6 L1767.6,708.6 L1768.1,691.4 L1768.6,691.4 L1770.0,685.7 L1770.4,685.7 L1771.0,657.1 L1771.4,657.1 L1771.9,657.1 L1772.4,631.4 L1772.9,631.4 L1774.3,634.3 L1774.7,634.3 L1775.3,642.9 L1775.7,642.9 L1776.1,642.9 L1776.7,671.4 L1777.1,671.4 L1777.6,671.4 L1778.1,685.7 L1778.6,685.7 L1779.0,685.7 L1779.6,697.1 L1780.0,697.1 L1780.0,697.1 L1780.3,697.1 L1780.8,714.3 L1781.1,714.3 L1782.3,717.1 L1782.6,717.1 L1783.1,685.7 L1783.4,685.7 L1783.8,685.7 L1784.2,671.4 L1784.6,671.4 L1784.9,671.4 L1785.4,657.1 L1785.7,657.1 L1786.1,657.1 L1786.5,680.0 L1786.9,680.0 L1788.0,677.1 L1789.1,674.3 L1790.3,680.0 L1790.6,680.0 L1791.1,700.0 L1791.4,700.0 L1792.6,702.9 L1792.9,702.9 L1793.4,711.4 L1793.7,711.4 L1794.1,711.4 L1794.5,722.9 L1794.9,722.9 M1808.0,691.4 L1809.1,690.0 L1810.3,688.6 L1811.4,685.7 L1812.6,682.9 L1812.9,682.9 L1813.4,651.4 L1813.7,651.4 L1814.9,657.1 L1815.2,657.1 L1815.7,668.6 L1816.0,668.6 M1818.9,700.0 L1820.0,697.1 L1821.4,691.4 L1821.7,691.4 L1822.0,671.4 L1822.3,671.4 L1822.6,671.4 L1823.1,702.9 L1823.4,702.9 L1823.8,702.9 L1824.2,688.6 L1824.6,688.6 L1824.9,688.6 L1825.4,671.4 L1825.7,671.4 L1826.1,671.4 L1826.5,662.9 L1826.9,662.9 L1828.0,665.7 L1828.3,665.7 L1828.8,674.3 L1829.1,674.3 L1829.5,674.3 L1829.9,685.7 L1830.3,685.7 L1830.6,685.7 L1831.1,702.9 L1831.4,702.9 L1831.9,702.9 L1832.4,714.3 L1832.9,714.3 L1833.3,714.3 L1833.9,742.9 L1834.3,742.9 L1834.7,742.9 L1835.3,720.0 L1835.7,720.0 L1836.1,720.0 L1836.7,685.7 L1837.1,685.7 L1837.6,685.7 L1838.1,662.9 L1838.6,662.9 L1840.0,657.1 L1840.4,657.1 L1841.0,637.1 L1841.4,637.1 L1842.9,634.3 L1843.3,634.3 L1843.9,642.9 L1844.3,642.9 L1844.7,642.9 L1845.3,651.4 L1845.7,651.4 L1846.1,651.4 L1846.7,688.6 L1847.1,688.6 L1848.6,694.3 L1849.0,694.3 L1849.6,671.4 L1850.0,671.4 L1850.4,671.4 L1851.0,685.7 L1851.4,685.7 L1852.9,691.4 L1853.3,691.4 L1853.9,680.0 L1854.3,680.0 L1854.7,680.0 L1855.3,657.1 L1855.7,657.1 L1856.1,657.1 L1856.7,645.7 L1857.1,645.7 L1857.6,645.7 L1858.1,671.4 L1858.6,671.4 L1860.0,668.6 L1861.4,662.9 L1862.9,665.7 L1864.3,671.4 L1865.7,665.7 L1867.1,668.6 L1867.6,668.6 L1868.1,682.9 L1868.6,682.9 L1869.0,682.9 L1869.6,711.4 L1870.0,711.4 L1870.4,711.4 L1871.0,645.7 L1871.4,645.7 L1871.9,645.7 L1872.4,714.3 L1872.9,714.3 L1873.3,714.3 L1873.9,685.7 L1874.3,685.7 L1875.7,691.4 L1876.1,691.4 L1876.7,671.4 L1877.1,671.4 L1878.6,671.4 L1879.0,671.4 L1879.6,685.7 L1880.0,685.7 L1880.4,685.7 L1881.0,657.1 L1881.4,657.1 L1881.7,657.1 L1882.0,642.9 L1882.3,642.9 L1882.6,642.9 L1883.1,657.1 L1883.4,657.1 L1883.8,657.1 L1884.2,668.6 L1884.6,668.6 L1884.9,668.6 L1885.4,680.0 L1885.7,680.0 L1886.1,680.0 L1886.5,645.7 L1886.9,645.7 L1888.0,651.4 L1889.1,657.1 L1889.5,657.1 L1889.9,642.9 L1890.3,642.9 L1890.6,642.9 L1891.1,651.4 L1891.4,651.4 L1891.7,651.4 L1892.0,694.3 L1892.3,694.3 L1892.5,694.3 L1892.9,657.1 L1893.1,657.1 L1894.3,651.4 L1895.7,651.4 L1897.1,645.7 L1897.6,645.7 L1898.1,657.1 L1898.6,657.1 M1901.4,662.9 L1902.9,660.0 L1904.3,657.1 L1905.7,651.4 L1907.1,645.7 L1908.6,647.1 L1910.0,642.9 L1910.4,642.9 L1911.0,711.4 L1911.4,711.4 L1911.9,711.4 L1912.4,685.7 L1912.9,685.7 L1913.3,685.7 L1913.9,674.3 L1914.3,674.3 L1914.7,674.3 L1915.3,657.1 L1915.7,657.1 L1917.1,651.4 L1917.6,651.4 L1918.1,640.0 L1918.6,640.0 L1919.4,634.3 L1919.8,634.3 L1920.2,657.1 L1920.6,657.1 L1920.9,657.1 L1921.4,671.4 L1921.7,671.4 L1922.1,671.4 L1922.5,685.7 L1922.9,685.7 L1923.3,685.7 L1923.9,697.1 L1924.3,697.1 L1924.7,697.1 L1925.3,732.9 L1925.7,732.9 L1926.1,732.9 L1926.7,700.0 L1927.1,700.0 L1927.6,700.0 L1928.1,671.4 L1928.6,671.4 L1929.0,671.4 L1929.6,680.0 L1930.0,680.0 L1930.4,680.0 L1931.0,648.6 L1931.4,648.6 L1932.9,645.7 L1933.3,645.7 L1933.9,662.9 L1934.3,662.9 L1935.7,657.1 L1936.1,657.1 L1936.7,680.0 L1937.1,680.0 L1937.6,680.0 L1938.1,694.3 L1938.6,694.3 L1939.0,694.3 L1939.6,702.9 L1940.0,702.9 L1941.4,700.0 L1942.9,694.3 L1944.3,697.1 L1945.7,695.7 M1951.4,725.7 L1951.9,725.7 L1952.4,771.4 L1952.9,771.4 L1954.3,777.1 L1954.7,777.1 L1955.3,734.3 L1955.7,734.3 L1957.1,731.4 L1957.6,731.4 L1958.1,720.0 L1958.6,720.0 L1959.0,720.0 L1959.6,742.9 L1960.0,742.9 L1960.4,742.9 L1961.0,714.3 L1961.4,714.3 L1961.7,714.3 L1962.0,668.6 L1962.3,668.6 L1962.5,668.6 L1962.9,728.6 L1963.1,728.6 L1963.5,728.6 L1963.9,777.1 L1964.3,777.1 L1965.7,780.0 L1966.1,780.0 L1966.7,800.0 L1967.1,800.0 L1967.6,800.0 L1968.1,834.3 L1968.6,834.3 L1969.4,838.6 L1969.8,838.6 L1970.2,771.4 L1970.6,771.4 L1970.8,771.4 L1971.2,734.3 L1971.4,734.3 L1972.9,731.4 L1973.3,731.4 L1973.9,722.9 L1974.3,722.9 L1975.7,725.7 L1976.1,725.7 L1976.7,748.6 L1977.1,748.6 L1977.6,748.6 L1978.1,760.0 L1978.6,760.0 L1980.0,765.7 L1980.0,765.7 L1980.3,765.7 L1980.8,774.3 L1981.1,774.3 L1981.5,774.3 L1981.9,742.9 L1982.3,742.9 L1982.6,742.9 L1983.1,691.4 L1983.4,691.4 L1983.7,691.4 L1984.0,757.1 L1984.3,757.1 L1984.5,757.1 L1984.9,771.4 L1985.1,771.4 L1985.5,771.4 L1985.9,842.9 L1986.3,842.9 L1986.6,842.9 L1987.1,765.7 L1987.4,765.7 L1987.8,765.7 L1988.2,800.0 L1988.6,800.0 L1988.9,800.0 L1989.4,828.6 L1989.7,828.6 L1990.1,828.6 L1990.5,754.3 L1990.9,754.3 L1991.2,754.3 L1991.7,857.1 L1992.0,857.1 L1992.3,857.1 L1992.8,814.3 L1993.1,814.3 L1993.5,814.3 L1993.9,800.0 L1994.3,800.0 L1994.7,800.0 L1995.3,842.9 L1995.7,842.9 L1996.1,842.9 L1996.7,771.4 L1997.1,771.4 L1997.6,771.4 L1998.1,751.4 L1998.6,751.4 L1999.0,751.4 L1999.6,785.7 L2000.0,785.7 L2000.4,785.7 L2001.0,814.3 L2001.4,814.3 L2001.9,814.3 L2002.4,822.9 L2002.9,822.9 L2004.3,828.6 L2004.7,828.6 L2005.3,814.3 L2005.7,814.3 L2006.1,814.3 L2006.7,828.6 L2007.1,828.6 L2007.6,828.6 L2008.1,842.9 L2008.6,842.9 L2010.0,848.6 M2012.0,772.9 L2012.3,772.9 L2012.8,814.3 L2013.1,814.3 L2013.5,814.3 L2013.9,837.1 L2014.3,837.1 L2015.4,842.9 L2015.8,842.9 L2016.2,828.6 L2016.6,828.6 L2016.9,828.6 L2017.4,911.4 L2017.7,911.4 L2018.1,911.4 L2018.5,857.1 L2018.9,857.1 L2019.2,857.1 L2019.7,817.1 L2020.0,817.1 L2020.4,817.1 L2021.0,842.9 L2021.4,842.9 L2022.9,848.6 L2023.3,848.6 L2023.9,840.0 L2024.3,840.0 L2024.7,840.0 L2025.3,794.3 L2025.7,794.3 L2026.1,794.3 L2026.7,805.7 L2027.1,805.7 L2027.6,805.7 L2028.1,797.1 L2028.6,797.1 L2029.0,797.1 L2029.6,814.3 L2030.0,814.3 L2030.4,814.3 L2031.0,762.9 L2031.4,762.9 L2032.9,764.3 L2034.3,768.6 L2034.7,768.6 L2035.3,785.7 L2035.7,785.7 L2036.1,785.7 L2036.7,802.9 L2037.1,802.9 M2043.4,895.7 L2043.8,895.7 L2044.2,828.6 L2044.6,828.6 L2044.9,828.6 L2045.4,777.1 L2045.7,777.1 L2047.1,771.4 L2048.6,768.6 L2049.0,768.6 L2049.6,800.0 L2050.0,800.0 L2050.4,800.0 L2051.0,857.1 L2051.4,857.1 L2051.8,857.1 L2052.2,925.7 L2052.6,925.7 L2052.9,925.7 L2053.4,828.6 L2053.7,828.6 L2054.1,828.6 L2054.5,800.0 L2054.9,800.0 L2055.2,800.0 L2055.7,777.1 L2056.0,777.1 L2056.3,777.1 L2056.8,814.3 L2057.1,814.3 L2057.5,814.3 L2057.9,762.9 L2058.3,762.9 L2058.6,762.9 L2059.1,734.3 L2059.4,734.3 L2059.8,734.3 L2060.2,771.4 L2060.6,771.4 L2060.9,771.4 L2061.4,785.7 L2061.7,785.7 L2062.9,788.6 L2063.3,788.6 L2063.9,800.0 L2064.3,800.0 L2064.7,800.0 L2065.3,828.6 L2065.7,828.6 L2066.1,828.6 L2066.7,877.1 L2067.1,877.1 L2067.6,877.1 L2068.1,857.1 L2068.6,857.1 L2069.0,857.1 L2069.6,828.6 L2070.0,828.6 L2070.4,828.6 L2071.0,800.0 L2071.4,800.0 L2071.9,800.0 L2072.4,782.9 L2072.9,782.9 L2073.3,782.9 L2073.9,797.1 L2074.3,797.1 M2077.1,775.7 L2077.7,777.1 M2081.4,742.9 L2082.9,742.9 L2083.3,742.9 L2083.9,760.0 L2084.3,760.0 L2084.7,760.0 L2085.3,777.1 L2085.7,777.1 L2086.1,777.1 L2086.5,828.6 L2086.9,828.6 L2087.2,828.6 L2087.7,857.1 L2088.0,857.1 L2088.3,857.1 L2088.8,878.6 L2089.1,878.6 L2089.5,878.6 L2089.9,814.3 L2090.3,814.3 L2090.6,814.3 L2091.1,828.6 L2091.4,828.6 L2092.6,822.9 L2092.9,822.9 L2093.4,805.7 L2093.7,805.7 L2094.1,805.7 L2094.5,828.6 L2094.9,828.6 L2095.2,828.6 L2095.7,800.0 L2096.0,800.0 M2099.4,862.9 L2099.8,862.9 L2100.2,871.4 L2100.6,871.4 L2100.9,871.4 L2101.4,914.3 L2101.7,914.3 L2102.1,914.3 L2102.5,945.7 L2102.9,945.7 L2103.2,945.7 L2103.7,928.6 L2104.0,928.6 L2104.6,924.3 M2110.3,956.0 L2111.4,957.1 M2124.3,974.3 L2125.7,971.4 L2127.1,965.7 L2128.0,965.7 L2128.6,1014.3 L2130.0,1017.1 L2130.4,1017.1 L2131.0,1028.6 L2131.4,1028.6 L2132.0,1028.6 L2132.8,1042.9 L2133.4,1042.9 M2138.6,840.0 L2140.0,845.7 L2140.4,845.7 L2141.0,885.7 L2141.4,885.7 L2141.7,885.7 L2142.0,912.9 L2142.3,912.9" fill="none" stroke="#d5111a" stroke-width="3.1" stroke-linejoin="miter" stroke-miterlimit="2" stroke-linecap="butt"/>
<path d="M1399.1,1331.4 L1399.5,1331.4 L1399.9,1338.6 L1400.3,1338.6 L1400.6,1338.6 L1401.1,1352.9 L1401.4,1352.9 L1401.8,1352.9 L1402.2,1344.3 L1402.6,1344.3 L1403.7,1347.1 L1404.9,1345.7 L1406.0,1348.6 M1409.4,1401.4 L1409.8,1401.4 L1410.2,1381.4 L1410.6,1381.4 L1410.9,1381.4 L1411.4,1358.6 L1411.7,1358.6 L1412.1,1358.6 L1412.5,1424.3 L1412.9,1424.3 L1413.2,1424.3 L1413.7,1481.4 L1414.0,1481.4 L1414.3,1481.4 L1414.6,1521.4 L1414.9,1521.4 M1420.9,1438.6 L1421.2,1438.6 L1421.7,1424.3 L1422.0,1424.3 L1422.3,1424.3 L1422.8,1372.9 L1423.1,1372.9 L1423.5,1372.9 L1423.9,1384.3 L1424.3,1384.3 L1424.6,1384.3 L1425.1,1410.0 L1425.4,1410.0 L1425.8,1410.0 L1426.2,1467.1 L1426.6,1467.1 L1426.9,1467.1 L1427.4,1381.4 L1427.7,1381.4 L1428.1,1381.4 L1428.5,1424.3 L1428.9,1424.3 L1429.2,1424.3 L1429.7,1378.6 L1430.0,1378.6 L1430.3,1378.6 L1430.8,1410.0 L1431.1,1410.0 L1432.3,1415.7 L1433.4,1410.0 L1434.6,1412.9 L1434.9,1412.9 L1435.4,1427.1 L1435.7,1427.1 L1436.1,1427.1 L1436.5,1398.6 L1436.9,1398.6 L1438.0,1392.9 L1439.1,1395.7 L1439.5,1395.7 L1439.9,1410.0 L1440.3,1410.0 L1440.6,1410.0 L1441.1,1352.9 L1441.4,1352.9 L1441.8,1352.9 L1442.2,1331.4 L1442.6,1331.4 L1442.9,1331.4 L1443.4,1352.9 L1443.7,1352.9 L1444.1,1352.9 L1444.5,1330.0 L1444.9,1330.0 L1445.2,1330.0 L1445.7,1338.6 L1446.0,1338.6 L1446.3,1338.6 L1446.8,1321.4 L1447.1,1321.4 L1447.5,1321.4 L1447.9,1352.9 L1448.3,1352.9 L1448.6,1352.9 L1449.1,1395.7 L1449.4,1395.7 L1449.8,1395.7 L1450.2,1410.0 L1450.6,1410.0 L1451.7,1412.9 L1452.1,1412.9 L1452.5,1395.7 L1452.9,1395.7 L1453.3,1395.7 L1453.9,1338.6 L1454.3,1338.6 L1454.5,1338.6 L1454.9,1327.1 L1455.1,1327.1 L1455.5,1327.1 L1455.9,1352.9 L1456.3,1352.9 L1456.6,1352.9 L1457.1,1401.4 L1457.4,1401.4 L1457.8,1401.4 L1458.2,1458.6 L1458.6,1458.6 L1458.9,1458.6 L1459.4,1398.6 L1459.7,1398.6 L1460.1,1398.6 L1460.5,1412.9 L1460.9,1412.9 M1463.7,1355.7 L1465.4,1358.6 L1465.8,1358.6 L1466.2,1350.0 L1466.6,1350.0 L1467.7,1347.1 L1468.1,1347.1 L1468.5,1367.1 L1468.9,1367.1 L1469.4,1407.1 L1470.0,1344.3 L1471.1,1338.6 L1471.5,1338.6 L1471.9,1347.1 L1472.3,1347.1 L1472.6,1347.1 L1473.1,1338.6 L1473.4,1338.6 L1474.6,1341.4 L1475.7,1344.3 L1476.9,1347.1 L1478.0,1350.0 M1480.9,1330.0 L1482.6,1332.9 L1482.9,1332.9 L1483.4,1310.0 L1483.7,1310.0 L1484.1,1310.0 L1484.5,1332.9 L1484.9,1332.9 L1485.2,1332.9 L1485.7,1358.6 L1486.0,1358.6 L1487.1,1355.7 L1487.5,1355.7 L1487.9,1367.1 L1488.3,1367.1 L1488.6,1367.1 L1489.1,1384.3 L1489.4,1384.3 L1489.8,1384.3 L1490.2,1330.0 L1490.6,1330.0 L1491.7,1335.7 L1492.1,1335.7 L1492.5,1358.6 L1492.9,1358.6 L1493.2,1358.6 L1493.7,1418.6 L1494.0,1418.6 L1494.3,1418.6 L1494.8,1452.9 L1495.1,1452.9 L1495.5,1452.9 L1495.9,1512.9 L1496.3,1512.9 L1496.6,1512.9 L1497.1,1424.3 L1497.4,1424.3 L1497.8,1424.3 L1498.2,1381.4 L1498.6,1381.4 L1499.0,1381.4 L1499.6,1370.0 L1500.0,1370.0 L1501.4,1367.1 L1502.9,1368.6 L1503.3,1368.6 L1503.9,1481.4 L1504.3,1481.4 L1504.6,1481.4 L1505.1,1452.9 L1505.4,1452.9 L1505.8,1452.9 L1506.2,1315.7 L1506.6,1315.7 L1506.9,1315.7 L1507.4,1530.0 L1507.7,1530.0 L1508.1,1530.0 L1508.5,1424.3 L1508.9,1424.3 L1509.2,1424.3 L1509.7,1452.9 L1510.0,1452.9 L1510.3,1452.9 L1510.8,1481.4 L1511.1,1481.4 L1511.5,1481.4 L1511.9,1504.3 L1512.3,1504.3 L1513.4,1501.4 L1513.8,1501.4 L1514.2,1452.9 L1514.6,1452.9 L1514.9,1452.9 L1515.4,1395.7 L1515.7,1395.7 L1516.1,1395.7 L1516.5,1324.3 L1516.9,1324.3 L1517.2,1324.3 L1517.7,1410.0 L1518.0,1410.0 L1518.3,1410.0 L1518.8,1344.3 L1519.1,1344.3 L1519.5,1344.3 L1519.9,1395.7 L1520.3,1395.7 L1520.6,1395.7 L1521.1,1475.7 L1521.4,1475.7 L1521.8,1475.7 L1522.2,1452.9 L1522.6,1452.9 L1523.7,1452.9 L1524.1,1452.9 L1524.5,1418.6 L1524.9,1418.6 L1525.2,1418.6 L1525.7,1495.7 L1526.0,1495.7 M1531.7,1395.7 L1532.1,1395.7 L1532.5,1344.3 L1532.9,1344.3 L1534.0,1338.6 L1534.3,1338.6 L1534.8,1395.7 L1535.1,1395.7 L1535.5,1395.7 L1535.9,1421.4 L1536.3,1421.4 L1536.6,1421.4 L1537.1,1338.6 L1537.4,1338.6 L1537.8,1338.6 L1538.2,1315.7 L1538.6,1315.7 L1538.9,1315.7 L1539.4,1367.1 L1539.7,1367.1 L1540.1,1367.1 L1540.5,1444.3 L1540.9,1444.3 L1541.2,1444.3 L1541.7,1310.0 L1542.0,1310.0 L1542.3,1310.0 L1542.8,1261.4 L1543.1,1261.4 L1543.5,1261.4 L1543.9,1310.0 L1544.3,1310.0 L1544.6,1310.0 L1545.1,1272.9 L1545.4,1272.9 L1545.8,1272.9 L1546.2,1281.4 L1546.6,1281.4 L1546.9,1281.4 L1547.4,1310.0 L1547.7,1310.0 L1548.1,1310.0 L1548.5,1338.6 L1548.9,1338.6 L1549.2,1338.6 L1549.7,1310.0 L1550.0,1310.0 L1550.3,1310.0 L1550.8,1338.6 L1551.1,1338.6 L1551.5,1338.6 L1551.9,1352.9 L1552.3,1352.9 L1552.6,1352.9 L1553.1,1401.4 L1553.4,1401.4 L1553.8,1401.4 L1554.2,1324.3 L1554.6,1324.3 L1554.9,1324.3 L1555.4,1281.4 L1555.7,1281.4 L1556.1,1281.4 L1556.5,1310.0 L1556.9,1310.0 L1558.0,1315.7 M1568.3,1368.6 L1568.6,1368.6 L1569.1,1278.6 L1569.4,1278.6 L1570.0,1278.6 L1570.5,1278.6 L1571.2,1247.1 L1571.7,1247.1 L1572.1,1247.1 L1572.5,1258.6 L1572.9,1258.6 L1573.3,1258.6 L1573.9,1270.0 L1574.3,1270.0 L1575.7,1270.0 L1577.1,1275.7 L1578.6,1281.4 L1580.0,1287.1 M1582.9,1390.0 L1583.3,1390.0 L1583.9,1338.6 L1584.3,1338.6 L1584.6,1338.6 L1585.1,1281.4 L1585.4,1281.4 L1585.8,1281.4 L1586.2,1252.9 L1586.6,1252.9 L1586.9,1252.9 L1587.4,1225.7 L1587.7,1225.7 L1588.1,1225.7 L1588.5,1238.6 L1588.9,1238.6 L1589.2,1238.6 L1589.7,1252.9 L1590.0,1252.9 L1590.4,1252.9 L1591.0,1270.0 L1591.4,1270.0 L1591.7,1270.0 L1592.0,1310.0 L1592.3,1310.0 L1592.6,1310.0 L1593.1,1404.3 L1593.4,1404.3 L1593.8,1404.3 L1594.2,1367.1 L1594.6,1367.1 L1594.9,1367.1 L1595.4,1315.7 L1595.7,1315.7 L1596.1,1315.7 L1596.5,1381.4 L1596.9,1381.4 L1598.0,1375.7 L1599.1,1378.6 L1600.3,1372.9 L1600.6,1372.9 L1601.1,1352.9 L1601.4,1352.9 L1601.8,1352.9 L1602.2,1332.9 L1602.6,1332.9 L1602.9,1332.9 L1603.4,1315.7 L1603.7,1315.7 L1604.9,1314.3 L1605.2,1314.3 L1605.7,1352.9 L1606.0,1352.9 L1606.3,1352.9 L1606.8,1367.1 L1607.1,1367.1 L1607.5,1367.1 L1607.9,1355.7 L1608.3,1355.7 L1609.4,1361.4 L1609.8,1361.4 L1610.2,1475.7 L1610.6,1475.7 L1610.9,1475.7 L1611.4,1395.7 L1611.7,1395.7 L1612.1,1395.7 L1612.5,1375.7 L1612.9,1375.7 L1614.3,1375.7 L1615.7,1378.6 L1617.1,1381.4 L1618.6,1384.3 L1620.0,1378.6 L1621.4,1381.4 L1622.9,1387.1 M1625.1,1392.9 L1625.5,1392.9 L1625.9,1407.1 L1626.3,1407.1 L1626.6,1407.1 L1627.1,1432.9 L1627.4,1432.9 L1627.8,1432.9 L1628.2,1367.1 L1628.6,1367.1 L1628.9,1367.1 L1629.4,1334.3 L1629.7,1334.3 M1632.3,1438.6 L1632.6,1438.6 L1633.1,1452.9 L1633.4,1452.9 L1633.8,1452.9 L1634.2,1472.9 L1634.6,1472.9 M1641.4,1387.1 L1641.7,1387.1 L1642.0,1338.6 L1642.3,1338.6 L1642.5,1338.6 L1642.9,1287.1 L1643.1,1287.1 L1643.5,1287.1 L1643.9,1338.6 L1644.3,1338.6 L1645.4,1341.4 M1647.1,1404.3 L1647.5,1404.3 L1647.9,1464.3 L1648.3,1464.3 L1648.6,1464.3 L1649.1,1490.0 L1649.4,1490.0 L1649.8,1490.0 L1650.2,1438.6 L1650.6,1438.6 L1650.9,1438.6 L1651.4,1395.7 L1651.7,1395.7 L1652.1,1395.7 L1652.5,1338.6 L1652.9,1338.6 L1653.2,1338.6 L1653.7,1295.7 L1654.0,1295.7 L1654.3,1295.7 L1654.8,1304.3 L1655.1,1304.3 L1655.5,1304.3 L1655.9,1324.3 L1656.3,1324.3 L1656.6,1324.3 L1657.1,1295.7 L1657.4,1295.7 L1657.8,1295.7 L1658.2,1278.6 L1658.6,1278.6 L1658.9,1278.6 L1659.4,1390.0 L1659.7,1390.0 L1660.1,1390.0 L1660.5,1324.3 L1660.9,1324.3 L1661.2,1324.3 L1661.7,1310.0 L1662.0,1310.0 L1662.3,1310.0 L1662.8,1295.7 L1663.1,1295.7 L1663.5,1295.7 L1663.9,1281.4 L1664.3,1281.4 L1665.4,1281.4 L1665.8,1281.4 L1666.2,1272.9 L1666.6,1272.9 L1666.9,1272.9 L1667.4,1238.6 L1667.7,1238.6 L1668.1,1238.6 L1668.5,1207.1 L1668.9,1207.1 L1669.2,1207.1 L1669.7,1281.4 L1670.0,1281.4 L1670.3,1281.4 L1670.8,1432.9 L1671.1,1432.9 L1671.5,1432.9 L1671.9,1367.1 L1672.3,1367.1 L1672.6,1367.1 L1673.1,1395.7 L1673.4,1395.7 L1673.8,1395.7 L1674.2,1410.0 L1674.6,1410.0 L1675.7,1412.9 L1676.1,1412.9 L1676.5,1367.1 L1676.9,1367.1 L1677.2,1367.1 L1677.7,1281.4 L1678.0,1281.4 L1678.3,1281.4 L1678.8,1232.9 L1679.1,1232.9 L1679.5,1232.9 L1679.9,1338.6 L1680.3,1338.6 L1680.6,1338.6 L1681.1,1367.1 L1681.4,1367.1 L1681.8,1367.1 L1682.2,1310.0 L1682.6,1310.0 L1682.9,1310.0 L1683.4,1230.0 L1683.7,1230.0 L1684.1,1230.0 L1684.5,1310.0 L1684.9,1310.0 L1685.2,1310.0 L1685.7,1364.3 L1686.0,1364.3 M1688.6,1222.9 L1690.0,1221.4 L1691.4,1218.6 L1692.9,1217.1 L1694.6,1212.9 L1694.9,1212.9 L1695.4,1324.3 L1695.7,1324.3 L1696.1,1324.3 L1696.5,1295.7 L1696.9,1295.7 L1697.2,1295.7 L1697.7,1230.0 L1698.0,1230.0 L1698.3,1230.0 L1698.8,1324.3 L1699.1,1324.3 L1699.5,1324.3 L1699.9,1238.6 L1700.3,1238.6 L1701.4,1244.3 L1701.9,1244.3 L1702.4,1235.7 L1702.9,1235.7 L1704.3,1230.0 L1704.7,1230.0 L1705.3,1210.0 L1705.7,1210.0 L1706.1,1210.0 L1706.7,1201.4 L1707.1,1201.4 L1708.6,1198.6 L1710.0,1201.4 L1711.4,1207.1 L1711.9,1207.1 L1712.4,1215.7 L1712.9,1215.7 L1714.3,1218.6 L1715.7,1221.4 L1716.1,1221.4 L1716.7,1210.0 L1717.1,1210.0 L1717.6,1210.0 L1718.1,1195.7 L1718.6,1195.7 L1720.0,1191.4 M1726.6,1187.1 L1727.7,1192.9 L1728.1,1192.9 L1728.5,1205.7 L1728.9,1205.7 L1730.0,1207.1 L1730.3,1207.1 L1730.8,1195.7 L1731.1,1195.7 L1732.3,1194.3 L1733.4,1190.0 L1734.6,1187.1 L1734.9,1187.1 L1735.4,1195.7 L1735.7,1195.7 L1736.9,1201.4 L1738.0,1204.3 L1739.1,1207.1 L1740.3,1210.0 L1741.4,1208.6 L1741.8,1208.6 L1742.2,1195.7 L1742.6,1195.7 L1743.7,1198.6 L1744.1,1198.6 L1744.5,1212.9 L1744.9,1212.9 L1746.0,1215.7 L1746.3,1215.7 L1746.8,1195.7 L1747.1,1195.7 L1747.5,1195.7 L1747.9,1184.3 L1748.3,1184.3 L1749.4,1181.4 L1749.8,1181.4 L1750.2,1190.0 L1750.6,1190.0 L1750.9,1190.0 L1751.4,1207.1 L1751.7,1207.1 L1752.1,1207.1 L1752.5,1187.1 L1752.9,1187.1 L1753.3,1187.1 L1753.9,1172.9 L1754.3,1172.9 L1755.7,1178.6 L1757.1,1181.4 L1757.6,1181.4 L1758.1,1198.6 L1758.6,1198.6 L1760.0,1192.9 L1760.4,1192.9 L1761.0,1181.4 L1761.4,1181.4 L1762.9,1178.6 L1764.3,1181.4 L1765.7,1187.1 L1767.1,1190.0 L1768.6,1195.7 L1770.0,1195.7 L1770.0,1190.0 L1771.4,1192.9 L1772.9,1195.7 L1774.3,1198.6 L1775.7,1201.4 L1777.1,1204.3 L1778.6,1201.4 L1780.0,1207.1 L1781.4,1204.3 L1782.9,1207.1 L1784.3,1210.0 L1785.7,1212.9 L1787.1,1211.4 M1790.6,1204.3 L1791.7,1210.0 L1792.9,1215.7 L1793.2,1215.7 L1793.7,1222.9 L1794.0,1222.9 M1800.9,1184.3 L1802.0,1178.6 L1803.1,1174.3 L1804.3,1178.6 L1804.7,1178.6 L1805.3,1187.1 L1805.7,1187.1 L1807.1,1192.9 L1808.6,1194.3 L1810.0,1192.9 L1811.4,1192.9 L1812.9,1187.1 L1813.3,1187.1 L1813.9,1178.6 L1814.3,1178.6 L1815.7,1175.7 L1816.1,1175.7 L1816.7,1190.0 L1817.1,1190.0 L1818.6,1195.7 L1820.0,1198.6 L1820.4,1198.6 L1821.0,1224.3 L1821.4,1224.3 L1821.9,1224.3 L1822.4,1207.1 L1822.9,1207.1 L1824.3,1204.3 L1824.7,1204.3 L1825.3,1215.7 L1825.7,1215.7 L1826.1,1215.7 L1826.7,1201.4 L1827.1,1201.4 L1827.6,1201.4 L1828.1,1190.0 L1828.6,1190.0 L1829.0,1190.0 L1829.6,1181.4 L1830.0,1181.4 L1830.4,1181.4 L1831.0,1172.9 L1831.4,1172.9 L1831.9,1172.9 L1832.4,1190.0 L1832.9,1190.0 L1833.3,1190.0 L1833.9,1201.4 L1834.3,1201.4 L1835.7,1195.7 L1836.1,1195.7 L1836.7,1181.4 L1837.1,1181.4 L1838.6,1178.6 L1839.0,1178.6 L1839.6,1195.7 L1840.0,1195.7 L1840.4,1195.7 L1841.0,1178.6 L1841.4,1178.6 L1842.9,1184.3 L1843.3,1184.3 L1843.9,1172.9 L1844.3,1172.9 L1845.7,1167.1 L1846.1,1167.1 L1846.7,1184.3 L1847.1,1184.3 L1847.6,1184.3 L1848.1,1218.6 L1848.6,1218.6 L1849.0,1218.6 L1849.6,1181.4 L1850.0,1181.4 L1850.4,1181.4 L1851.0,1167.1 L1851.4,1167.1 L1851.9,1167.1 L1852.4,1155.7 L1852.9,1155.7 L1853.3,1155.7 L1853.9,1147.1 L1854.3,1147.1 L1855.7,1147.1 L1856.1,1147.1 L1856.7,1158.6 L1857.1,1158.6 L1857.6,1158.6 L1858.1,1167.1 L1858.6,1167.1 L1859.0,1167.1 L1859.6,1181.4 L1860.0,1181.4 L1860.4,1181.4 L1861.0,1190.0 L1861.4,1190.0 L1861.9,1190.0 L1862.4,1167.1 L1862.9,1167.1 L1863.3,1167.1 L1863.9,1195.7 L1864.3,1195.7 L1864.7,1195.7 L1865.3,1225.7 L1865.7,1225.7 L1866.1,1225.7 L1866.7,1167.1 L1867.1,1167.1 L1868.6,1164.3 L1870.0,1167.1 L1871.4,1170.0 L1872.9,1175.7 L1873.3,1175.7 L1873.9,1184.3 L1874.3,1184.3 L1875.7,1187.1 L1876.1,1187.1 L1876.7,1167.1 L1877.1,1167.1 L1877.6,1167.1 L1878.1,1155.7 L1878.6,1155.7 L1880.0,1152.9 L1880.4,1152.9 L1881.0,1164.3 L1881.4,1164.3 L1881.9,1164.3 L1882.4,1187.1 L1882.9,1187.1 L1884.3,1192.9 L1884.7,1192.9 L1885.3,1167.1 L1885.7,1167.1 L1886.1,1167.1 L1886.7,1155.7 L1887.1,1155.7 L1888.6,1150.0 L1889.0,1150.0 L1889.6,1138.6 L1890.0,1138.6 L1891.4,1141.4 L1892.9,1138.6 L1894.3,1144.3 L1895.7,1138.6 L1897.1,1135.7 L1897.6,1135.7 L1898.1,1144.3 L1898.6,1144.3 L1899.0,1144.3 L1899.6,1175.7 L1900.0,1175.7 L1901.4,1181.4 L1901.9,1181.4 L1902.4,1195.7 L1902.9,1195.7 L1904.3,1198.6 L1904.7,1198.6 L1905.3,1181.4 L1905.7,1181.4 L1906.1,1181.4 L1906.7,1167.1 L1907.1,1167.1 L1908.6,1164.3 L1910.0,1158.6 L1911.4,1161.4 L1911.9,1161.4 L1912.4,1178.6 L1912.9,1178.6 L1913.3,1178.6 L1913.9,1190.0 L1914.3,1190.0 L1915.7,1195.7 L1917.1,1198.6 L1917.6,1198.6 L1918.1,1212.9 L1918.6,1212.9 L1919.0,1212.9 L1919.6,1195.7 L1920.0,1195.7 L1920.4,1195.7 L1921.0,1187.1 L1921.4,1187.1 L1922.9,1192.9 L1923.3,1192.9 L1923.9,1207.1 L1924.3,1207.1 L1924.7,1207.1 L1925.3,1195.7 L1925.7,1195.7 L1926.1,1195.7 L1926.7,1184.3 L1927.1,1184.3 L1927.6,1184.3 L1928.1,1201.4 L1928.6,1201.4 L1929.0,1201.4 L1929.6,1181.4 L1930.0,1181.4 L1930.4,1181.4 L1931.0,1221.4 L1931.4,1221.4 L1931.9,1221.4 L1932.4,1212.9 L1932.9,1212.9 L1933.3,1212.9 L1933.9,1201.4 L1934.3,1201.4 L1935.7,1195.7 L1936.1,1195.7 L1936.7,1184.3 L1937.1,1184.3 L1938.6,1178.6 M1943.7,1298.6 L1944.1,1298.6 L1944.5,1310.0 L1944.9,1310.0 L1945.2,1310.0 L1945.7,1318.6 L1946.0,1318.6 L1946.3,1318.6 L1946.8,1281.4 L1947.1,1281.4 L1947.6,1281.4 L1948.1,1252.9 L1948.6,1252.9 L1949.0,1252.9 L1949.6,1218.6 L1950.0,1218.6 L1950.3,1218.6 L1950.8,1201.4 L1951.1,1201.4 L1951.5,1201.4 L1951.9,1210.0 L1952.3,1210.0 L1952.6,1210.0 L1953.1,1238.6 L1953.4,1238.6 L1953.8,1238.6 L1954.2,1247.1 L1954.6,1247.1 L1954.9,1247.1 L1955.4,1281.4 L1955.7,1281.4 L1956.1,1281.4 L1956.7,1310.0 L1957.1,1310.0 L1957.6,1310.0 L1958.1,1361.4 L1958.6,1361.4 L1959.0,1361.4 L1959.6,1324.3 L1960.0,1324.3 L1960.3,1324.3 L1960.6,1375.7 L1960.9,1375.7 L1961.2,1375.7 L1961.7,1324.3 L1962.0,1324.3 L1962.3,1324.3 L1962.8,1281.4 L1963.1,1281.4 L1963.5,1281.4 L1963.9,1258.6 L1964.3,1258.6 L1964.7,1258.6 L1965.3,1238.6 L1965.7,1238.6 L1966.1,1238.6 L1966.7,1218.6 L1967.1,1218.6 L1967.6,1218.6 L1968.1,1210.0 L1968.6,1210.0 L1969.0,1210.0 L1969.6,1218.6 L1970.0,1218.6 L1970.0,1218.6 L1970.3,1218.6 L1970.8,1310.0 L1971.1,1310.0 L1971.5,1310.0 L1971.9,1281.4 L1972.3,1281.4 L1972.6,1281.4 L1973.1,1238.6 L1973.4,1238.6 L1973.8,1238.6 L1974.2,1224.3 L1974.6,1224.3 L1974.9,1224.3 L1975.4,1208.6 L1975.7,1208.6 L1976.1,1208.6 L1976.5,1238.6 L1976.9,1238.6 L1977.2,1238.6 L1977.7,1281.4 L1978.0,1281.4 L1978.3,1281.4 L1978.8,1338.6 L1979.1,1338.6 L1979.5,1338.6 L1979.9,1404.3 L1980.3,1404.3 L1980.6,1404.3 L1981.1,1327.1 L1981.4,1327.1 L1981.9,1327.1 L1982.4,1352.9 L1982.9,1352.9 L1983.3,1352.9 L1983.9,1381.4 L1984.3,1381.4 L1985.7,1384.3 L1986.1,1384.3 L1986.7,1338.6 L1987.1,1338.6 L1987.6,1338.6 L1988.1,1281.4 L1988.6,1281.4 L1990.0,1287.1 L1990.4,1287.1 L1991.0,1304.3 L1991.4,1304.3 L1991.9,1304.3 L1992.4,1315.7 L1992.9,1315.7 L1993.3,1315.7 L1993.9,1332.9 L1994.3,1332.9 L1994.7,1332.9 L1995.3,1347.1 L1995.7,1347.1 L1997.1,1352.9 L1998.6,1358.6 L2000.0,1355.7 L2000.4,1355.7 L2001.0,1338.6 L2001.4,1338.6 L2001.9,1338.6 L2002.4,1324.3 L2002.9,1324.3 L2003.3,1324.3 L2003.9,1278.6 L2004.3,1278.6 L2004.7,1278.6 L2005.3,1310.0 L2005.7,1310.0 L2006.1,1310.0 L2006.7,1367.1 L2007.1,1367.1 L2007.6,1367.1 L2008.1,1424.3 L2008.6,1424.3 L2009.0,1424.3 L2009.6,1441.4 L2010.0,1441.4 L2010.4,1441.4 L2011.0,1395.7 L2011.4,1395.7 L2011.9,1395.7 L2012.4,1367.1 L2012.9,1367.1 L2013.3,1367.1 L2013.9,1324.3 L2014.3,1324.3 L2014.7,1324.3 L2015.3,1310.0 L2015.7,1310.0 L2016.1,1310.0 L2016.7,1281.4 L2017.1,1281.4 L2017.6,1281.4 L2018.1,1252.9 L2018.6,1252.9 L2020.0,1247.1 L2020.3,1247.1 L2020.6,1295.7 L2020.9,1295.7 L2021.2,1295.7 L2021.7,1344.3 L2022.0,1344.3 L2023.1,1347.1 L2023.5,1347.1 L2023.9,1335.7 L2024.3,1335.7 L2024.7,1335.7 L2025.3,1344.3 L2025.7,1344.3 L2026.1,1344.3 L2026.7,1310.0 L2027.1,1310.0 L2027.6,1310.0 L2028.1,1292.9 L2028.6,1292.9 L2029.0,1292.9 L2029.6,1335.7 L2030.0,1335.7 M2037.1,1441.4 L2037.6,1441.4 L2038.1,1287.1 L2038.6,1287.1 L2040.0,1284.3 L2040.4,1284.3 L2041.0,1292.9 L2041.4,1292.9 L2041.9,1292.9 L2042.4,1310.0 L2042.9,1310.0 L2043.3,1310.0 L2043.9,1367.1 L2044.3,1367.1 L2044.7,1367.1 L2045.3,1415.7 L2045.7,1415.7 L2046.1,1415.7 L2046.7,1304.3 L2047.1,1304.3 L2048.6,1301.4 L2049.0,1301.4 L2049.6,1310.0 L2050.0,1310.0 L2050.4,1310.0 L2051.0,1324.3 L2051.4,1324.3 L2051.9,1324.3 L2052.4,1452.9 L2052.9,1452.9 L2053.3,1452.9 L2053.9,1338.6 L2054.3,1338.6 L2054.7,1338.6 L2055.3,1324.3 L2055.7,1324.3 L2056.1,1324.3 L2056.7,1310.0 L2057.1,1310.0 L2058.6,1315.7 L2059.0,1315.7 L2059.6,1364.3 L2060.0,1364.3 L2060.4,1364.3 L2061.0,1338.6 L2061.4,1338.6 L2061.9,1338.6 L2062.4,1324.3 L2062.9,1324.3 L2063.3,1324.3 L2063.9,1295.7 L2064.3,1295.7 L2064.7,1295.7 L2065.3,1304.3 L2065.7,1304.3 L2066.1,1304.3 L2066.7,1315.7 L2067.1,1315.7 L2068.6,1321.4 L2069.0,1321.4 L2069.6,1310.0 L2070.0,1310.0 L2071.4,1307.1 M2074.3,1555.7 L2074.7,1555.7 L2075.3,1315.7 L2075.7,1315.7 L2077.1,1318.6 L2077.6,1318.6 L2078.1,1344.3 L2078.6,1344.3 L2080.0,1338.6 L2081.4,1332.9 L2081.9,1332.9 L2082.4,1324.3 L2082.9,1324.3 L2084.3,1318.6 L2085.7,1315.7 L2087.1,1312.9 L2087.6,1312.9 L2088.1,1321.4 L2088.6,1321.4 L2089.0,1321.4 L2089.6,1338.6 L2090.0,1338.6 L2090.4,1338.6 L2091.0,1352.9 L2091.4,1352.9 M2093.4,1415.7 L2093.8,1415.7 L2094.2,1438.6 L2094.6,1438.6 L2094.9,1438.6 L2095.4,1467.1 L2095.7,1467.1 L2096.1,1467.1 L2096.7,1490.0 L2097.1,1490.0 M2102.9,1455.7 L2104.3,1450.0 L2104.7,1450.0 L2105.3,1441.4 L2105.7,1441.4 M2118.0,1490.0 L2118.3,1490.0 L2118.8,1424.3 L2119.1,1424.3 L2119.5,1424.3 L2119.9,1452.9 L2120.3,1452.9 L2120.6,1452.9 L2121.1,1467.1 L2121.4,1467.1 L2121.8,1467.1 L2122.2,1327.1 L2122.6,1327.1 L2122.9,1327.1 L2123.4,1481.4 L2123.7,1481.4 L2124.1,1481.4 L2124.5,1538.6 L2124.9,1538.6 L2125.2,1538.6 L2125.7,1561.4 L2126.0,1561.4 L2126.3,1561.4 L2126.8,1581.4 L2127.1,1581.4 M2129.4,1424.3 L2129.8,1424.3 L2130.2,1395.7 L2130.6,1395.7 L2130.9,1395.7 L2131.4,1367.1 L2131.7,1367.1 L2132.1,1367.1 L2132.5,1350.0 L2132.9,1350.0 L2133.2,1350.0 L2133.7,1367.1 L2134.0,1367.1 L2134.3,1367.1 L2134.8,1410.0 L2135.1,1410.0" fill="none" stroke="#000000" stroke-width="2.9" stroke-linejoin="miter" stroke-miterlimit="2" stroke-linecap="butt"/>
<ellipse cx="830.0" cy="338.0" rx="13.0" ry="14.7" fill="#ee1c25"/>
<ellipse cx="822.4" cy="709.9" rx="12.45" ry="13.0" fill="#ee1c25"/>
<ellipse cx="806.4" cy="1477.2" rx="11.5" ry="12.4" fill="#ee1c25"/>
<ellipse cx="1966.8" cy="210.3" rx="14.0" ry="15.4" fill="#ee1c25"/>
<ellipse cx="1963.9" cy="710.0" rx="15.9" ry="17.0" fill="#ee1c25"/>
<ellipse cx="1952.4" cy="1238.9" rx="12.6" ry="14.1" fill="#ee1c25"/>
<circle cx="282.5" cy="99.4" r="14.9" fill="none" stroke="#0b1f33" stroke-width="3.2"/>
<circle cx="694.5" cy="535.0" r="14.9" fill="none" stroke="#0b1f33" stroke-width="3.2"/>
<circle cx="766.1" cy="614.6" r="14.9" fill="none" stroke="#0b1f33" stroke-width="3.2"/>
<circle cx="999.4" cy="1061.9" r="14.9" fill="none" stroke="#0b1f33" stroke-width="3.2"/>
<circle cx="344.5" cy="1130.9" r="14.9" fill="none" stroke="#0b1f33" stroke-width="3.2"/>
<circle cx="956.0" cy="1578.8" r="14.9" fill="none" stroke="#0b1f33" stroke-width="3.2"/>
<circle cx="1425.4" cy="538.9" r="14.9" fill="none" stroke="#0b1f33" stroke-width="3.2"/>
<circle cx="1840.5" cy="97.2" r="14.9" fill="none" stroke="#0b1f33" stroke-width="3.2"/>
<circle cx="1773.5" cy="630.8" r="14.9" fill="none" stroke="#0b1f33" stroke-width="3.2"/>
<circle cx="2132.3" cy="1040.6" r="14.9" fill="none" stroke="#0b1f33" stroke-width="3.2"/>
<circle cx="1897.1" cy="1137.1" r="14.9" fill="none" stroke="#0b1f33" stroke-width="3.2"/>
<circle cx="2128.2" cy="1582.7" r="14.9" fill="none" stroke="#0b1f33" stroke-width="3.2"/>
</svg>
</body></html>
